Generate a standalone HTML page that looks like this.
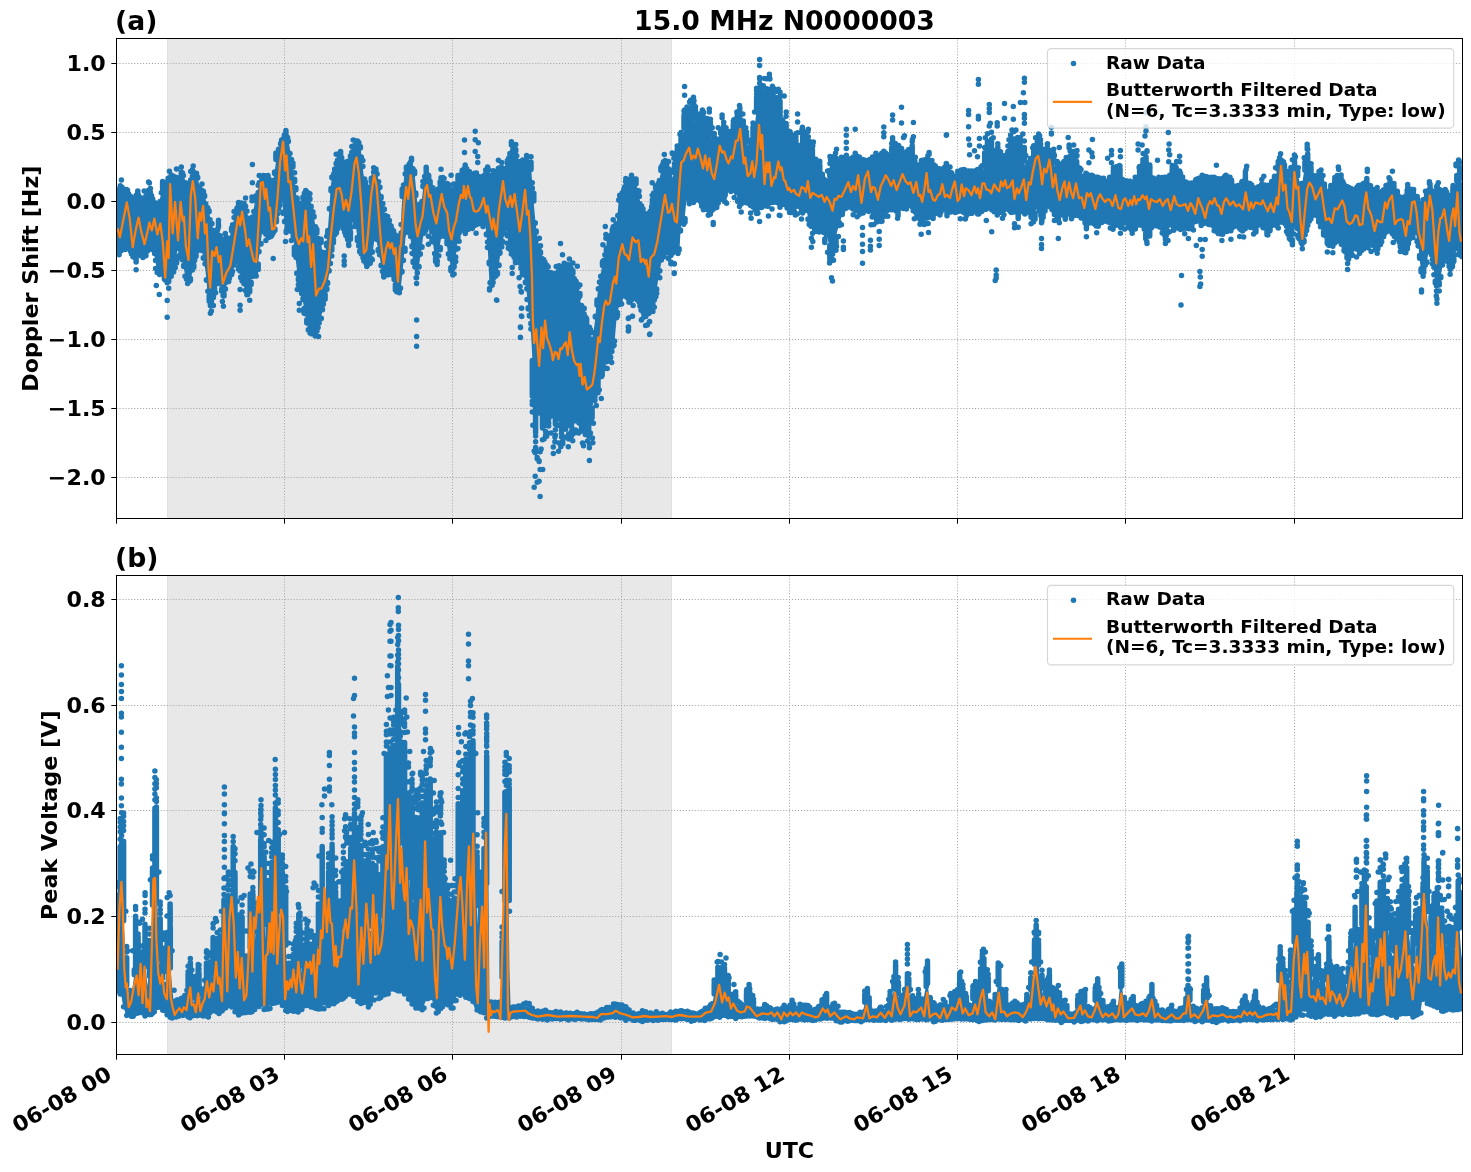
<!DOCTYPE html>
<html><head><meta charset="utf-8"><title>15.0 MHz N0000003</title><style>html,body{margin:0;padding:0;background:#fff;overflow:hidden}svg{display:block}</style></head><body>
<svg width="1471" height="1172" viewBox="0 0 1471 1172" font-family="'DejaVu Sans','Liberation Sans',sans-serif" font-weight="bold" fill="#000">
<rect width="1471" height="1172" fill="#fff"/>
<defs><clipPath id="ca"><rect x="116.5" y="38.5" width="1346.0" height="480.0"/></clipPath><clipPath id="cb"><rect x="116.5" y="575.5" width="1346.0" height="479.0"/></clipPath></defs>
<rect x="167.0" y="38.5" width="505.0" height="480.5" fill="#e8e8e8"/>
<path d="M167.5 38.5V518.5M671.5 38.5V518.5" stroke="#e0e0e0" stroke-width="1" fill="none"/>
<path d="M284.5 518.5V38.5M452.5 518.5V38.5M621.5 518.5V38.5M789.5 518.5V38.5M957.5 518.5V38.5M1125.5 518.5V38.5M1294.5 518.5V38.5M116.5 63.5H1462.5M116.5 132.5H1462.5M116.5 201.5H1462.5M116.5 270.5H1462.5M116.5 339.5H1462.5M116.5 408.5H1462.5M116.5 477.5H1462.5" stroke="#a6a6a6" stroke-width="1" stroke-dasharray="1.1 1.85" fill="none"/>
<g clip-path="url(#ca)">
<path d="M116.5 196.9 117.5 196.9 118.5 192.8 119.5 188.7 120.5 184.6 121.5 184.3 122.5 186 123.5 187.8 124.5 189.5 125.5 190 126.5 190 127.5 190 128.5 190 129.5 192.9 130.5 196.5 131.5 200.2 132.5 199.8 133.5 198.5 134.5 197.1 135.5 195.8 136.5 194.5 137.5 193.1 138.5 194.4 139.5 196 140.5 197.6 141.5 199.2 142.5 200.8 143.5 199 144.5 197 145.5 195 146.5 193 147.5 191 148.5 189 149.5 187.4 150.5 191.4 151.5 195.4 152.5 199.2 153.5 201.6 154.5 204 155.5 206.4 156.5 208.8 157.5 209.9 158.5 205.3 159.5 200.7 160.5 196.1 161.5 191.5 162.5 187.8 163.5 186.8 164.5 185.8 165.5 184.8 166.5 183.8 167.5 182.4 168.5 180.1 169.5 177.7 170.5 176.2 171.5 176 172.5 175.8 173.5 175.6 174.5 175.4 175.5 176.1 176.5 178.1 177.5 180.1 178.5 180.3 179.5 178.5 180.5 176.7 181.5 174.9 182.5 173.1 183.5 174.3 184.5 178 185.5 181.7 186.5 183.1 187.5 183.1 188.5 183.1 189.5 183.1 190.5 181.2 191.5 178.2 192.5 175.2 193.5 174.1 194.5 173.9 195.5 173.6 196.5 173.4 197.5 176.8 198.5 181.5 199.5 186.1 200.5 188.1 201.5 189.3 202.5 190.6 203.5 191.8 204.5 195.1 205.5 198.8 206.5 202.5 207.5 206.4 208.5 210.4 209.5 214.4 210.5 218.4 211.5 222.4 212.5 226.4 213.5 230.4 214.5 234.4 215.5 232.1 216.5 229.9 217.5 227.6 218.5 225.9 219.5 231.6 220.5 237.2 221.5 242.2 222.5 240.9 223.5 239.7 224.5 238.4 225.5 237.6 226.5 239.3 227.5 241 228.5 241.5 229.5 237.5 230.5 233.5 231.5 229.5 232.5 225.4 233.5 220.9 234.5 216.4 235.5 211.9 236.5 208 237.5 205.7 238.5 203.4 239.5 201.9 240.5 202.1 241.5 202.3 242.5 202.4 243.5 202.6 244.5 202.8 245.5 204.9 246.5 209.6 247.5 214.3 248.5 216.9 249.5 217.4 250.5 217.9 251.5 218.4 252.5 215.6 253.5 210.1 254.5 204.6 255.5 199.1 256.5 194.8 257.5 191.3 258.5 187.8 259.5 184.3 260.5 182 261.5 180.2 262.5 178.4 263.5 176.6 264.5 174.8 265.5 176.5 266.5 179.5 267.5 182.5 268.5 183.5 269.5 183.9 270.5 184.3 271.5 184.7 272.5 185.1 273.5 179.2 274.5 172.2 275.5 165.2 276.5 158.2 277.5 153.3 278.5 148.7 279.5 144 280.5 142.2 281.5 140.6 282.5 139 283.5 137.4 284.5 135.8 285.5 136.8 286.5 137.8 287.5 138.8 288.5 140.2 289.5 146.2 290.5 152.2 291.5 158.3 292.5 165.7 293.5 173 294.5 180.4 295.5 188.4 296.5 196.4 297.5 203.4 298.5 206.1 299.5 208.7 300.5 209.3 301.5 203.3 302.5 197.3 303.5 192.9 304.5 192.4 305.5 191.9 306.5 191.4 307.5 191.9 308.5 194.6 309.5 197.3 310.5 200.8 311.5 205.8 312.5 210.8 313.5 215.8 314.5 221 315.5 226.3 316.5 231.6 317.5 235.4 318.5 237.4 319.5 239.4 320.5 241.4 321.5 245.9 322.5 252.5 323.5 259.2 324.5 258.1 325.5 251.5 326.5 244.8 327.5 234 328.5 220.7 329.5 207.3 330.5 189.6 331.5 180.4 332.5 176.4 333.5 172.4 334.5 168.4 335.5 165.3 336.5 162.5 337.5 159.7 338.5 156.9 339.5 154.1 340.5 155.6 341.5 158.1 342.5 160.6 343.5 163.1 344.5 162.9 345.5 162.3 346.5 161.7 347.5 161.1 348.5 160.5 349.5 157.7 350.5 154.7 351.5 151.7 352.5 148.7 353.5 145.7 354.5 144.4 355.5 143.2 356.5 141.9 357.5 140.9 358.5 142.5 359.5 144.2 360.5 146.7 361.5 156 362.5 165.3 363.5 174.1 364.5 179.4 365.5 184.7 366.5 188.9 367.5 187.9 368.5 186.9 369.5 185.9 370.5 184.2 371.5 180.4 372.5 176.7 373.5 172.9 374.5 170.6 375.5 171.6 376.5 172.6 377.5 175.1 378.5 180.5 379.5 185.8 380.5 191.2 381.5 196.7 382.5 202.2 383.5 207.7 384.5 211.9 385.5 214.4 386.5 216.9 387.5 219.4 388.5 221.4 389.5 223.1 390.5 224.8 391.5 226.4 392.5 228.1 393.5 229.8 394.5 231.6 395.5 233.5 396.5 235.5 397.5 237.4 398.5 239.3 399.5 241.3 400.5 231.9 401.5 210.1 402.5 195.3 403.5 183.9 404.5 172.6 405.5 168.6 406.5 167.6 407.5 166.6 408.5 165.6 409.5 163.6 410.5 161.3 411.5 158.9 412.5 162.6 413.5 167.6 414.5 172.6 415.5 183 416.5 194.3 417.5 205.6 418.5 205.9 419.5 204.9 420.5 203.9 421.5 202.9 422.5 194 423.5 184.6 424.5 175.3 425.5 171.8 426.5 168.5 427.5 173.5 428.5 178.5 429.5 183.3 430.5 185.3 431.5 187.3 432.5 189.3 433.5 191.1 434.5 191.6 435.5 192.1 436.5 192.6 437.5 192.2 438.5 187.5 439.5 182.8 440.5 178.9 441.5 177.4 442.5 177.2 443.5 180.8 444.5 184.5 445.5 187.2 446.5 187.7 447.5 188.2 448.5 188.7 449.5 189.2 450.5 189.7 451.5 190.2 452.5 190.7 453.5 190.2 454.5 188.2 455.5 186.2 456.5 184.2 457.5 182.2 458.5 179.9 459.5 177.2 460.5 174.6 461.5 172.2 462.5 170.2 463.5 168.2 464.5 167.9 465.5 168.9 466.5 169.9 467.5 170.9 468.5 171.9 469.5 172.9 470.5 173.9 471.5 174.9 472.5 174.9 473.5 174.4 474.5 173.9 475.5 173.4 476.5 174 477.5 175 478.5 176 479.5 177 480.5 176.8 481.5 176.3 482.5 175.8 483.5 175.3 484.5 173.4 485.5 171.1 486.5 168.9 487.5 166.6 488.5 168.9 489.5 171.6 490.5 174.4 491.5 177.1 492.5 176.8 493.5 176.4 494.5 176 495.5 175.6 496.5 175.2 497.5 172.9 498.5 170.7 499.5 168.4 500.5 166.5 501.5 167.8 502.5 169 503.5 170.3 504.5 170.9 505.5 168.3 506.5 165.6 507.5 162.5 508.5 157.5 509.5 152.5 510.5 147.5 511.5 143.6 512.5 143.3 513.5 143 514.5 144.3 515.5 149.8 516.5 154.6 517.5 158 518.5 161.3 519.5 163.4 520.5 163.4 521.5 163.4 522.5 162.8 523.5 161.1 524.5 159.4 525.5 158.8 526.5 159.6 527.5 160.3 528.5 161.1 529.5 163.8 530.5 168.4 531.5 173 532.5 186.7 533.5 199.7 534.5 211.7 535.5 221.9 536.5 230.9 537.5 237.7 538.5 243 539.5 248.4 540.5 251.9 541.5 254.6 542.5 257.3 543.5 259.2 544.5 260.8 545.5 262.4 546.5 264 547.5 265.6 548.5 268.5 549.5 271.9 550.5 275.2 551.5 275.8 552.5 275.8 553.5 275.8 554.5 275 555.5 274 556.5 273 557.5 272 558.5 270.5 559.5 269 560.5 267.5 561.5 266 562.5 266 563.5 266 564.5 266 565.5 265.9 566.5 265.2 567.5 264.4 568.5 263.7 569.5 263.2 570.5 266.2 571.5 269.2 572.5 272.2 573.5 274.9 574.5 277.5 575.5 280 576.5 281.3 577.5 282.6 578.5 285.6 579.5 294.6 580.5 302 581.5 304.5 582.5 307 583.5 309.5 584.5 312.9 585.5 318.2 586.5 323.6 587.5 327.5 588.5 328.9 589.5 330.2 590.5 332.9 591.5 337.9 592.5 338.1 593.5 331.5 594.5 324.8 595.5 315.7 596.5 303.7 597.5 294.3 598.5 287.6 599.5 281 600.5 275 601.5 269.7 602.5 264.3 603.5 260.1 604.5 256.8 605.5 253.5 606.5 250.6 607.5 248.1 608.5 245.6 609.5 243.1 610.5 240.3 611.5 237.3 612.5 234.3 613.5 231.3 614.5 228.5 615.5 225.9 616.5 223.2 617.5 214.2 618.5 203.2 619.5 199 620.5 196.6 621.5 194.2 622.5 191.8 623.5 189.4 624.5 187.7 625.5 186.1 626.5 184.5 627.5 182.9 628.5 181.3 629.5 180.4 630.5 179.6 631.5 178.8 632.5 178 633.5 177.3 634.5 179.9 635.5 182.6 636.5 185.3 637.5 189.8 638.5 194.3 639.5 198.8 640.5 203.1 641.5 205.6 642.5 208.1 643.5 210.6 644.5 212.8 645.5 213.3 646.5 213.8 647.5 214.3 648.5 214.3 649.5 212.3 650.5 210.3 651.5 208.3 652.5 205 653.5 198.3 654.5 191.6 655.5 186.6 656.5 185.1 657.5 183.6 658.5 182.1 659.5 179.3 660.5 174.3 661.5 169.3 662.5 164.3 663.5 161.7 664.5 162.4 665.5 163.1 666.5 164.4 667.5 166.4 668.5 168.4 669.5 170.4 670.5 169.7 671.5 166.7 672.5 177.8 673.5 175.3 674.5 172 675.5 168.1 676.5 164.3 677.5 160.4 678.5 156.6 679.5 152.7 680.5 148.1 681.5 142.8 682.5 137.4 683.5 132 684.5 126.9 685.5 124.5 686.5 122.7 687.5 121.2 688.5 120 689.5 118.9 690.5 118.4 691.5 117.8 692.5 117.4 693.5 117.1 694.5 120.5 695.5 124.1 696.5 125.2 697.5 126.1 698.5 126.8 699.5 127.4 700.5 127.3 701.5 127.3 702.5 127.1 703.5 126.9 704.5 127.4 705.5 127.9 706.5 128.5 707.5 129 708.5 129.5 709.5 130.3 710.5 133.8 711.5 137.3 712.5 140.5 713.5 142.6 714.5 144.6 715.5 145.4 716.5 142.6 717.5 139.6 718.5 136.8 719.5 134.6 720.5 132.5 721.5 130.5 722.5 129.9 723.5 131.4 724.5 132.9 725.5 134.6 726.5 136.1 727.5 136.9 728.5 137.5 729.5 137.9 730.5 136.9 731.5 134.6 732.5 132.2 733.5 129.5 734.5 126.9 735.5 124.6 736.5 122.6 737.5 121.5 738.5 120.7 739.5 119.9 740.5 120.8 741.5 122.8 742.5 125 743.5 128.4 744.5 132.2 745.5 136 746.5 139.9 747.5 144 748.5 147.9 749.5 148.8 750.5 148.4 751.5 147.6 752.5 141.9 753.5 134.8 754.5 127.9 755.5 119.5 756.5 110.8 757.5 107.6 758.5 105.7 759.5 103.6 760.5 103.3 761.5 103.3 762.5 103.4 763.5 103.5 764.5 104.4 765.5 105.7 766.5 106.9 767.5 107.7 768.5 108.6 769.5 109.5 770.5 111.7 771.5 113.2 772.5 114.6 773.5 115.1 774.5 115.4 775.5 115.7 776.5 116.3 777.5 116.7 778.5 117 779.5 117.7 780.5 118.7 781.5 119.7 782.5 120.8 783.5 122 784.5 124.7 785.5 130.7 786.5 137 787.5 144 788.5 149.2 789.5 150.6 790.5 151.9 791.5 152.8 792.5 152.9 793.5 152.8 794.5 152.6 795.5 152.3 796.5 151.9 797.5 151.4 798.5 150.9 799.5 150.5 800.5 150 801.5 149.4 802.5 149.1 803.5 149.3 804.5 149.5 805.5 149.8 806.5 150 807.5 150.3 808.5 151.7 809.5 153.7 810.5 155.7 811.5 157.7 812.5 159.7 813.5 162.6 814.5 165.9 815.5 169.2 816.5 170.3 817.5 170.7 818.5 171.2 819.5 171.7 820.5 174.2 821.5 177.2 822.5 180.3 823.5 183.4 824.5 182.9 825.5 181.9 826.5 181 827.5 180 828.5 177.6 829.5 175.1 830.5 172.5 831.5 171.5 832.5 170.6 833.5 169.8 834.5 169 835.5 168.2 836.5 168.4 837.5 168.5 838.5 168.5 839.5 168.3 840.5 168.3 841.5 168.2 842.5 167.5 843.5 166.9 844.5 166.4 845.5 166 846.5 165.7 847.5 166.1 848.5 166.5 849.5 167 850.5 167.1 851.5 166 852.5 165 853.5 164.2 854.5 163.7 855.5 163.9 856.5 164.8 857.5 165.4 858.5 165.8 859.5 166.1 860.5 166.1 861.5 166 862.5 165.9 863.5 166.1 864.5 166.7 865.5 167.2 866.5 167.1 867.5 166.8 868.5 166.2 869.5 166 870.5 165.7 871.5 165.5 872.5 165.4 873.5 165.2 874.5 165 875.5 164.6 876.5 164.7 877.5 165.2 878.5 165.5 879.5 165.8 880.5 165.1 881.5 163.9 882.5 162.6 883.5 161.3 884.5 161.1 885.5 161.5 886.5 161.8 887.5 162.3 888.5 160.8 889.5 158.8 890.5 157 891.5 155.1 892.5 153.3 893.5 153.7 894.5 154.4 895.5 155 896.5 155.4 897.5 155.8 898.5 156.3 899.5 155.3 900.5 154.3 901.5 153.3 902.5 152.2 903.5 151 904.5 153.1 905.5 155.5 906.5 157.9 907.5 160.3 908.5 159.1 909.5 157.8 910.5 156.4 911.5 155.1 912.5 154.7 913.5 158.9 914.5 163.2 915.5 166.8 916.5 167.6 917.5 168.2 918.5 168.5 919.5 168.6 920.5 168.3 921.5 168.4 922.5 168.7 923.5 168.3 924.5 167.8 925.5 167.3 926.5 166.8 927.5 166.3 928.5 165.8 929.5 166 930.5 167.5 931.5 169.1 932.5 170.9 933.5 172.9 934.5 174.2 935.5 174.5 936.5 174.8 937.5 175.2 938.5 175.6 939.5 176 940.5 175.9 941.5 175.4 942.5 175 943.5 174.7 944.5 174.3 945.5 173.9 946.5 173.8 947.5 173.7 948.5 173.8 949.5 173.9 950.5 175.2 951.5 177.5 952.5 178.2 953.5 178.1 954.5 177.8 955.5 177.3 956.5 176.8 957.5 176.5 958.5 176.4 959.5 176.2 960.5 178.4 961.5 178.5 962.5 178.5 963.5 178.3 964.5 178.2 965.5 178.2 966.5 178.2 967.5 178.2 968.5 178.4 969.5 178.7 970.5 178.5 971.5 178.2 972.5 178.2 973.5 178.3 974.5 178.3 975.5 178.2 976.5 177.7 977.5 177.2 978.5 176.4 979.5 175.8 980.5 175.3 981.5 175 982.5 174.1 983.5 168.8 984.5 163.8 985.5 159.2 986.5 157.4 987.5 155.4 988.5 153.6 989.5 152.8 990.5 154.6 991.5 156.4 992.5 158.2 993.5 159 994.5 157.2 995.5 155.3 996.5 153.4 997.5 153.6 998.5 158 999.5 162.5 1000.5 165.7 1001.5 166.2 1002.5 166.7 1003.5 167.1 1004.5 167.4 1005.5 166.4 1006.5 163.9 1007.5 161.8 1008.5 160.2 1009.5 158.5 1010.5 156.9 1011.5 155.3 1012.5 154.8 1013.5 155 1014.5 155 1015.5 155 1016.5 156 1017.5 157.7 1018.5 159.6 1019.5 160.2 1020.5 159.7 1021.5 158.6 1022.5 157.4 1023.5 159.7 1024.5 163.5 1025.5 167.1 1026.5 168.1 1027.5 168.3 1028.5 168.3 1029.5 168.3 1030.5 165.7 1031.5 162.1 1032.5 158.2 1033.5 155.1 1034.5 152.5 1035.5 150.5 1036.5 150 1037.5 149.3 1038.5 148.7 1039.5 148.3 1040.5 150.2 1041.5 152.3 1042.5 154.4 1043.5 156.4 1044.5 155.9 1045.5 155.7 1046.5 155.7 1047.5 155.3 1048.5 153.9 1049.5 152.3 1050.5 151.3 1051.5 151.3 1052.5 156.2 1053.5 161.1 1054.5 165.7 1055.5 168.1 1056.5 170.4 1057.5 172.4 1058.5 173.7 1059.5 173.5 1060.5 173.7 1061.5 173.9 1062.5 173.8 1063.5 173 1064.5 172.1 1065.5 171.2 1066.5 170 1067.5 168.1 1068.5 166.3 1069.5 165.3 1070.5 165.8 1071.5 166.7 1072.5 167.5 1073.5 168.1 1074.5 168.8 1075.5 169.8 1076.5 170.9 1077.5 172.6 1078.5 175 1079.5 177.1 1080.5 179 1081.5 180.3 1082.5 181.1 1083.5 181.8 1084.5 182.4 1085.5 182.8 1086.5 183.1 1087.5 183.5 1088.5 184 1089.5 184.4 1090.5 184.6 1091.5 184.5 1092.5 184.6 1093.5 184.8 1094.5 185 1095.5 185.2 1096.5 185.5 1097.5 185.9 1098.5 186.2 1099.5 186.4 1100.5 182.6 1101.5 182.6 1102.5 182.5 1103.5 182.5 1104.5 182.4 1105.5 182.5 1106.5 182.6 1107.5 182.7 1108.5 182.6 1109.5 182.4 1110.5 180.7 1111.5 179 1112.5 177.4 1113.5 175.9 1114.5 175.8 1115.5 175.8 1116.5 175.6 1117.5 175.4 1118.5 175 1119.5 174.9 1120.5 178.2 1121.5 181.5 1122.5 184.6 1123.5 184.9 1124.5 185 1125.5 185.1 1126.5 185.2 1127.5 185.2 1128.5 185.2 1129.5 185.2 1130.5 184.8 1131.5 184.4 1132.5 183.9 1133.5 183.4 1134.5 182.8 1135.5 181.8 1136.5 179.9 1137.5 178 1138.5 176.2 1139.5 174 1140.5 171.5 1141.5 169.1 1142.5 166.8 1143.5 165.3 1144.5 165 1145.5 164.6 1146.5 164.3 1147.5 166 1148.5 169.8 1149.5 173.7 1150.5 177 1151.5 179.9 1152.5 182.7 1153.5 183.9 1154.5 183.7 1155.5 183.4 1156.5 183.1 1157.5 182.9 1158.5 182.8 1159.5 182.7 1160.5 182.7 1161.5 182.7 1162.5 182.7 1163.5 182.7 1164.5 182.9 1165.5 182.9 1166.5 182.7 1167.5 182.3 1168.5 181.9 1169.5 181.5 1170.5 179.6 1171.5 177.3 1172.5 175.1 1173.5 174.2 1174.5 173.7 1175.5 173.1 1176.5 172.4 1177.5 174.1 1178.5 176.1 1179.5 178.3 1180.5 180.6 1181.5 182 1182.5 183.4 1183.5 184.6 1184.5 185.8 1185.5 186.9 1186.5 188 1187.5 188.1 1188.5 188.3 1189.5 188.4 1190.5 188.5 1191.5 188.5 1192.5 188.2 1193.5 187.4 1194.5 186.6 1195.5 185.8 1196.5 185.3 1197.5 185 1198.5 184.8 1199.5 184.5 1200.5 184.1 1201.5 183.6 1202.5 183.1 1203.5 183.2 1204.5 183.4 1205.5 183.8 1206.5 184 1207.5 184.2 1208.5 184.1 1209.5 183.9 1210.5 183.7 1211.5 183.5 1212.5 183.3 1213.5 183.2 1214.5 183.4 1215.5 183.8 1216.5 184.2 1217.5 184.5 1218.5 184.7 1219.5 184.8 1220.5 184.6 1221.5 184.2 1222.5 183.8 1223.5 183.3 1224.5 182.8 1225.5 182.3 1226.5 182.2 1227.5 182.3 1228.5 182.4 1229.5 182.7 1230.5 183.4 1231.5 184.7 1232.5 186 1233.5 187.3 1234.5 188.5 1235.5 189.8 1236.5 190.5 1237.5 189.9 1238.5 189.1 1239.5 188.2 1240.5 187.4 1241.5 186.6 1242.5 185.5 1243.5 183.4 1244.5 181.3 1245.5 179.2 1246.5 179.1 1247.5 181.6 1248.5 184 1249.5 186.3 1250.5 187.8 1251.5 188.5 1252.5 189.5 1253.5 190.3 1254.5 189.2 1255.5 190.2 1256.5 189.6 1257.5 188 1258.5 188.7 1259.5 187.6 1260.5 186.4 1261.5 185.4 1262.5 186.1 1263.5 187.6 1264.5 189 1265.5 190.5 1266.5 190.5 1267.5 189.9 1268.5 189.4 1269.5 188.7 1270.5 187.9 1271.5 187.2 1272.5 184.8 1273.5 181.8 1274.5 178.5 1275.5 175.2 1276.5 172.8 1277.5 170.7 1278.5 168.6 1279.5 166.2 1280.5 166.4 1281.5 167.1 1282.5 168 1283.5 169 1284.5 171.1 1285.5 173.4 1286.5 175.7 1287.5 177.8 1288.5 178.7 1289.5 179.6 1290.5 180 1291.5 174.4 1292.5 169.4 1293.5 169 1294.5 168.5 1295.5 168.8 1296.5 171.9 1297.5 174.7 1298.5 177.4 1299.5 181.6 1300.5 185.9 1301.5 188 1302.5 181.5 1303.5 174.9 1304.5 169.3 1305.5 166.7 1306.5 163.7 1307.5 162.2 1308.5 164.4 1309.5 166.5 1310.5 168.8 1311.5 171.4 1312.5 174.3 1313.5 175.7 1314.5 180.2 1315.5 181.6 1316.5 179.1 1317.5 179 1318.5 177.9 1319.5 178 1320.5 179.4 1321.5 180.6 1322.5 181.7 1323.5 184.1 1324.5 187.5 1325.5 190.9 1326.5 194.4 1327.5 195.5 1328.5 194.9 1329.5 194 1330.5 193.1 1331.5 191.7 1332.5 190.1 1333.5 188.4 1334.5 186.6 1335.5 184.9 1336.5 183 1337.5 181.2 1338.5 179.5 1339.5 180.6 1340.5 182.8 1341.5 185.2 1342.5 187.6 1343.5 188.9 1344.5 190 1345.5 191 1346.5 192.1 1347.5 193.2 1348.5 194.2 1349.5 194.8 1350.5 195.3 1351.5 195.8 1352.5 196.2 1353.5 196.6 1354.5 196.9 1355.5 196.2 1356.5 195.5 1357.5 194.5 1358.5 193.4 1359.5 192.6 1360.5 191.7 1361.5 191 1362.5 190.6 1363.5 190 1364.5 187.8 1365.5 185.6 1366.5 183.4 1367.5 182.3 1368.5 185.7 1369.5 189.1 1370.5 192 1371.5 193.1 1372.5 194.4 1373.5 195.7 1374.5 196.9 1375.5 197.9 1376.5 198.6 1377.5 198.5 1378.5 198.3 1379.5 197.9 1380.5 197.5 1381.5 196.9 1382.5 195.9 1383.5 194.3 1384.5 192.8 1385.5 191.1 1386.5 189.6 1387.5 188.3 1388.5 187.2 1389.5 186.2 1390.5 186.3 1391.5 187.3 1392.5 188.4 1393.5 189.4 1394.5 191.2 1395.5 193.7 1396.5 196.2 1397.5 198.9 1398.5 200.6 1399.5 201.7 1400.5 202.3 1401.5 202.6 1402.5 202.9 1403.5 203.1 1404.5 201.9 1405.5 199.8 1406.5 197.7 1407.5 195.5 1408.5 194.9 1409.5 194.8 1410.5 194.8 1411.5 194.8 1412.5 195 1413.5 195.3 1414.5 197.2 1415.5 199.4 1416.5 201.7 1417.5 204 1418.5 205 1419.5 205.8 1420.5 206.8 1421.5 207.9 1422.5 205.9 1423.5 203.5 1424.5 200.9 1425.5 198.2 1426.5 196.3 1427.5 194.6 1428.5 193.1 1429.5 192.1 1430.5 194 1431.5 196 1432.5 198 1433.5 199.3 1434.5 198.2 1435.5 197.5 1436.5 196.8 1437.5 196.4 1438.5 197.6 1439.5 198.8 1440.5 199.8 1441.5 200.3 1442.5 199.6 1443.5 198.7 1444.5 197.9 1445.5 197.7 1446.5 198.5 1447.5 199.4 1448.5 200.5 1449.5 200.6 1450.5 198.7 1451.5 196.6 1452.5 194.7 1453.5 191.9 1454.5 187.4 1455.5 182.9 1456.5 179.9 1457.5 178.6 1458.5 177.5 1459.5 177.9 1460.5 180 1461.5 181.8 1462.5 182.7 1462.5 253.6 1461.5 254 1460.5 255 1459.5 254.3 1458.5 251.6 1457.5 248.9 1456.5 249.4 1455.5 252.8 1454.5 256.1 1453.5 259.9 1452.5 264 1451.5 268.1 1450.5 270.7 1449.5 267.6 1448.5 264.5 1447.5 261.7 1446.5 259 1445.5 256.4 1444.5 258.3 1443.5 262.3 1442.5 266.3 1441.5 271.8 1440.5 277.8 1439.5 283.8 1438.5 285.7 1437.5 286.3 1436.5 287 1435.5 282.2 1434.5 276.2 1433.5 268.5 1432.5 260.5 1431.5 256 1430.5 252 1429.5 248 1428.5 252.6 1427.5 257.9 1426.5 263.3 1425.5 266.6 1424.5 269.8 1423.5 273 1422.5 272.6 1421.5 269.9 1420.5 266.9 1419.5 256.9 1418.5 247.3 1417.5 241.9 1416.5 236.6 1415.5 232.1 1414.5 233.7 1413.5 235.3 1412.5 236.9 1411.5 238.5 1410.5 240.1 1409.5 241.9 1408.5 243.7 1407.5 245.5 1406.5 247.3 1405.5 248.4 1404.5 247.6 1403.5 246.8 1402.5 245.9 1401.5 245.1 1400.5 244.3 1399.5 243.3 1398.5 241.9 1397.5 240.6 1396.5 239.3 1395.5 237.9 1394.5 236.6 1393.5 235.4 1392.5 234.4 1391.5 233.4 1390.5 232.4 1389.5 231.4 1388.5 230.4 1387.5 230.6 1386.5 232 1385.5 233.3 1384.5 234.6 1383.5 236 1382.5 237.3 1381.5 239.3 1380.5 241.7 1379.5 244.1 1378.5 246.5 1377.5 248.9 1376.5 248.8 1375.5 247.6 1374.5 246.4 1373.5 245.2 1372.5 244 1371.5 243.5 1370.5 243.1 1369.5 242.8 1368.5 242.5 1367.5 242.1 1366.5 241.8 1365.5 242.6 1364.5 243.6 1363.5 244.6 1362.5 245.6 1361.5 246.6 1360.5 247.6 1359.5 246.8 1358.5 245.8 1357.5 244.8 1356.5 243.8 1355.5 245.2 1354.5 246.7 1353.5 248.2 1352.5 249.7 1351.5 252.2 1350.5 254.7 1349.5 257.2 1348.5 259.3 1347.5 257.3 1346.5 255.3 1345.5 253.3 1344.5 251.2 1343.5 248.2 1342.5 245.2 1341.5 242.2 1340.5 239.7 1339.5 239.2 1338.5 238.7 1337.5 238.2 1336.5 238.6 1335.5 241.6 1334.5 244.6 1333.5 247.6 1332.5 249 1331.5 247 1330.5 245 1329.5 243 1328.5 241 1327.5 239.2 1326.5 237.6 1325.5 236 1324.5 234.4 1323.5 232.8 1322.5 230.5 1321.5 227.5 1320.5 224.5 1319.5 221.5 1318.5 219.3 1317.5 217.8 1316.5 216.3 1315.5 214.8 1314.5 214.7 1313.5 215.7 1312.5 216.7 1311.5 217.7 1310.5 218.7 1309.5 219.7 1308.5 222.7 1307.5 226.7 1306.5 230.7 1305.5 234.7 1304.5 238.2 1303.5 241.5 1302.5 244.9 1301.5 244.2 1300.5 242.2 1299.5 240.2 1298.5 236.6 1297.5 232.6 1296.5 228.6 1295.5 224.6 1294.5 229.1 1293.5 235.1 1292.5 241.1 1291.5 240.6 1290.5 239.2 1289.5 237.9 1288.5 234.5 1287.5 231 1286.5 227.5 1285.5 224 1284.5 223.7 1283.5 223.3 1282.5 223 1281.5 222.7 1280.5 222.3 1279.5 222.1 1278.5 222.4 1277.5 222.7 1276.5 223.1 1275.5 223.4 1274.5 223.7 1273.5 224.2 1272.5 225.4 1271.5 226.5 1270.5 227.7 1269.5 228.9 1268.5 230 1267.5 230.6 1266.5 229.5 1265.5 228.4 1264.5 227.3 1263.5 226.1 1262.5 225 1261.5 223.9 1260.5 222.8 1259.5 222.5 1258.5 223.6 1257.5 224.8 1256.5 226 1255.5 227.1 1254.5 228.3 1253.5 228.6 1252.5 227.7 1251.5 226.9 1250.5 226.1 1249.5 225.2 1248.5 224.4 1247.5 224.8 1246.5 226.3 1245.5 227.8 1244.5 229.3 1243.5 230.8 1242.5 232.3 1241.5 232.2 1240.5 231 1239.5 229.8 1238.5 228.7 1237.5 227.5 1236.5 226.3 1235.5 226.2 1234.5 226.6 1233.5 226.9 1232.5 227.2 1231.5 227.6 1230.5 227.9 1229.5 225.9 1228.5 226.4 1227.5 226.9 1226.5 227.4 1225.5 228.4 1224.5 230.4 1223.5 232.4 1222.5 234.4 1221.5 235.1 1220.5 234.1 1219.5 233.1 1218.5 232.1 1217.5 231.1 1216.5 230.1 1215.5 229.2 1214.5 228.4 1213.5 227.5 1212.5 226.7 1211.5 225.9 1210.5 225 1209.5 224.6 1208.5 224.4 1207.5 224.3 1206.5 224.1 1205.5 223.9 1204.5 223.8 1203.5 223.5 1202.5 223.2 1201.5 222.8 1200.5 222.5 1199.5 222.2 1198.5 221.8 1197.5 222 1196.5 222.4 1195.5 222.7 1194.5 223 1193.5 223.4 1192.5 223.7 1191.5 224.6 1190.5 225.6 1189.5 226.6 1188.5 227.6 1187.5 228.6 1186.5 229.6 1185.5 229.3 1184.5 229 1183.5 228.7 1182.5 228.3 1181.5 228 1180.5 227.6 1179.5 227 1178.5 226.3 1177.5 225.6 1176.5 225 1175.5 224.3 1174.5 223.8 1173.5 224.2 1172.5 224.6 1171.5 225 1170.5 225.4 1169.5 226.3 1168.5 229.3 1167.5 232.3 1166.5 235.3 1165.5 236.9 1164.5 234.5 1163.5 232.1 1162.5 229.7 1161.5 227.3 1160.5 225.4 1159.5 224.4 1158.5 223.4 1157.5 222.4 1156.5 222.3 1155.5 223.6 1154.5 224.9 1153.5 226.3 1152.5 227.6 1151.5 228.9 1150.5 230.7 1149.5 232.9 1148.5 235.2 1147.5 237.4 1146.5 236.8 1145.5 233.6 1144.5 230.3 1143.5 227.1 1142.5 225.2 1141.5 224.4 1140.5 223.6 1139.5 222.8 1138.5 222 1137.5 222.4 1136.5 223.4 1135.5 224.4 1134.5 225.4 1133.5 226.4 1132.5 227.4 1131.5 226.9 1130.5 225.9 1129.5 224.9 1128.5 223.9 1127.5 222.9 1126.5 221.9 1125.5 222.6 1124.5 223.6 1123.5 224.6 1122.5 225.6 1121.5 226.6 1120.5 227.6 1119.5 227 1118.5 226.3 1117.5 225.6 1116.5 224.9 1115.5 224.2 1114.5 223.5 1113.5 222.7 1112.5 222.6 1111.5 222.4 1110.5 222.2 1109.5 222.1 1108.5 221.9 1107.5 221.7 1106.5 221.4 1105.5 221.1 1104.5 220.7 1103.5 220.4 1102.5 220.1 1101.5 220.1 1100.5 221.7 1099.5 223.3 1098.5 224.9 1097.5 226.5 1096.5 227.3 1095.5 225.7 1094.5 224.1 1093.5 222.5 1092.5 220.9 1091.5 220 1090.5 220.6 1089.5 221.2 1088.5 221.8 1087.5 222.4 1086.5 222.4 1085.5 221.4 1084.5 220.4 1083.5 219.4 1082.5 218.4 1081.5 217.7 1080.5 217.3 1079.5 217 1078.5 216.7 1077.5 216.3 1076.5 216 1075.5 215.8 1074.5 215.8 1073.5 215.8 1072.5 215.8 1071.5 215.8 1070.5 215.8 1069.5 215.4 1068.5 214.8 1067.5 214.1 1066.5 213.4 1065.5 212.8 1064.5 212.1 1063.5 212.7 1062.5 213.9 1061.5 215.1 1060.5 216.2 1059.5 217.4 1058.5 218.6 1057.5 217.6 1056.5 216.1 1055.5 214.6 1054.5 213.1 1053.5 211.6 1052.5 210.1 1051.5 209 1050.5 208 1049.5 207 1048.5 206 1047.5 205 1046.5 204 1045.5 206.7 1044.5 209.5 1043.5 212.3 1042.5 215.1 1041.5 217.7 1040.5 214.2 1039.5 210.7 1038.5 207.2 1037.5 204.3 1036.5 207.8 1035.5 211.3 1034.5 214.8 1033.5 217.6 1032.5 216.4 1031.5 215.2 1030.5 214 1029.5 212.8 1028.5 211.9 1027.5 212.1 1026.5 212.3 1025.5 212.4 1024.5 212.6 1023.5 212.8 1022.5 212.8 1021.5 212.7 1020.5 212.5 1019.5 212.3 1018.5 212.2 1017.5 212 1016.5 212 1015.5 212.1 1014.5 212.3 1013.5 212.5 1012.5 212.6 1011.5 212.8 1010.5 212.5 1009.5 211.7 1008.5 210.8 1007.5 210 1006.5 209.2 1005.5 208.3 1004.5 208.5 1003.5 209.5 1002.5 210.5 1001.5 211.5 1000.5 212.5 999.5 213.5 998.5 213.5 997.5 213 996.5 212.5 995.5 212 994.5 211.5 993.5 211 992.5 210.5 991.5 210 990.5 209.5 989.5 209 988.5 208.5 987.5 208 986.5 208.6 985.5 209.5 984.5 210.3 983.5 211.1 982.5 212 981.5 212.8 980.5 212.7 979.5 212.6 978.5 212.4 977.5 212.2 976.5 212.1 975.5 211.9 974.5 212.4 973.5 212.9 972.5 213.4 971.5 213.9 970.5 214.4 969.5 214.8 968.5 213.6 967.5 212.4 966.5 211.3 965.5 210.1 964.5 208.9 963.5 208.1 962.5 208.9 961.5 209.8 960.5 210.6 959.5 211.4 958.5 212.3 957.5 212.8 956.5 212.3 955.5 211.8 954.5 211.3 953.5 210.8 952.5 210.3 951.5 209.5 950.5 208.3 949.5 207.9 948.5 208.4 947.5 208.9 946.5 209.4 945.5 209.9 944.5 210.3 943.5 210.7 942.5 210.9 941.5 211 940.5 211.2 939.5 211.4 938.5 211.5 937.5 212.1 936.5 213.1 935.5 214.1 934.5 215.1 933.5 216.1 932.5 217.1 931.5 217.7 930.5 218.1 929.5 218.4 928.5 218.7 927.5 219.1 926.5 219.4 925.5 219.5 924.5 219.5 923.5 219.5 922.5 219.5 921.5 219.5 920.5 219.5 919.5 218.5 918.5 217.2 917.5 215.8 916.5 214.5 915.5 213.2 914.5 211.8 913.5 210.5 912.5 209.2 911.5 207.8 910.5 206.5 909.5 205.2 908.5 203.8 907.5 204.3 906.5 205 905.5 205.7 904.5 206.3 903.5 207 902.5 207.7 901.5 208 900.5 208.3 899.5 208.7 898.5 209 897.5 209.3 896.5 209.6 895.5 209.3 894.5 208.9 893.5 208.6 892.5 208.3 891.5 207.9 890.5 207.8 889.5 208.5 888.5 209.1 887.5 209.8 886.5 210.5 885.5 211.1 884.5 211.9 883.5 212.9 882.5 213.9 881.5 214.9 880.5 216.4 879.5 219.1 878.5 221.7 877.5 222.5 876.5 220 875.5 217.5 874.5 215 873.5 215 872.5 218.3 871.5 213.5 870.5 213.1 869.5 210.1 868.5 207.5 867.5 205 866.5 204.2 865.5 204.9 864.5 205.3 863.5 205.7 862.5 206.4 861.5 207.2 860.5 208 859.5 208.8 858.5 209.5 857.5 210.1 856.5 210.1 855.5 209.5 854.5 208.7 853.5 208.1 852.5 207 851.5 205.9 850.5 204.7 849.5 203.5 848.5 203.5 847.5 204 846.5 204.5 845.5 205 844.5 205.4 843.5 208.8 842.5 212.8 841.5 216.9 840.5 220.2 839.5 223.4 838.5 226.7 837.5 230.6 836.5 234.3 835.5 237.8 834.5 241.1 833.5 244.4 832.5 245 831.5 245.6 830.5 246.2 829.5 246.4 828.5 242.5 827.5 238.7 826.5 236.2 825.5 244.1 824.5 240.3 823.5 233.3 822.5 227.7 821.5 229.7 820.5 231.7 819.5 233.2 818.5 232.7 817.5 232.2 816.5 231.7 815.5 230.6 814.5 228 813.5 225.3 812.5 223.8 811.5 225.2 810.5 226.5 809.5 225.6 808.5 220.2 807.5 214.9 806.5 211.3 805.5 210.5 804.5 209.7 803.5 208.9 802.5 208.1 801.5 207.6 800.5 207.5 799.5 207.4 798.5 207.2 797.5 207.1 796.5 207 795.5 206.9 794.5 206.7 793.5 206.6 792.5 206.5 791.5 206.4 790.5 206.2 789.5 206.1 788.5 206 787.5 205.9 786.5 205.7 785.5 205.5 784.5 205.3 783.5 205 782.5 204.8 781.5 204.5 780.5 204.3 779.5 204 778.5 203.8 777.5 203.5 776.5 203.3 775.5 203 774.5 202.8 773.5 202.5 772.5 202.3 771.5 202 770.5 201.8 769.5 202.4 768.5 203.2 767.5 203.9 766.5 204.7 765.5 205.4 764.5 206.2 763.5 206.9 762.5 207.7 761.5 207.5 760.5 207.3 759.5 207.2 758.5 207 757.5 206.8 756.5 206.7 755.5 206.5 754.5 206.3 753.5 206.2 752.5 206 751.5 205.8 750.5 205.6 749.5 204.9 748.5 204.2 747.5 203.6 746.5 202.9 745.5 202.2 744.5 201.8 743.5 201.8 742.5 201.8 741.5 201.8 740.5 201.8 739.5 201.8 738.5 201.8 737.5 199.1 736.5 192.1 735.5 188 734.5 188 733.5 188 732.5 188 731.5 188 730.5 188.3 729.5 189.1 728.5 189.9 727.5 190.7 726.5 191.5 725.5 192.3 724.5 193.1 723.5 193.9 722.5 194.7 721.5 195.5 720.5 197.7 719.5 200.7 718.5 203.7 717.5 206.7 716.5 208 715.5 208.5 714.5 209 713.5 209.5 712.5 209.9 711.5 210.3 710.5 210.7 709.5 211.1 708.5 211.5 707.5 210.8 706.5 209.8 705.5 208.8 704.5 207.8 703.5 206.8 702.5 205.8 701.5 204.3 700.5 202.7 699.5 201.1 698.5 199.5 697.5 197.9 696.5 198.1 695.5 198.5 694.5 198.8 693.5 199.1 692.5 199.5 691.5 199.8 690.5 199.4 689.5 199 688.5 198.6 687.5 198.2 686.5 199.1 685.5 210.1 684.5 219.6 683.5 220.6 682.5 221.6 681.5 222.6 680.5 231.4 679.5 250.1 678.5 250.1 677.5 250.1 676.5 250.1 675.5 250.4 674.5 251.2 673.5 252 672.5 252.8 671.5 253.6 670.5 253.6 669.5 252.8 668.5 252 667.5 251.2 666.5 250.4 665.5 251.1 664.5 253.1 663.5 255.1 662.5 257.1 661.5 261.2 660.5 266.7 659.5 272.2 658.5 277.7 657.5 284 656.5 290.8 655.5 297.6 654.5 300.3 653.5 302.8 652.5 305.3 651.5 307.7 650.5 309.2 649.5 310.7 648.5 312.2 647.5 313.7 646.5 314.7 645.5 315.7 644.5 316.7 643.5 317.1 642.5 313.7 641.5 310.4 640.5 307.3 639.5 305.3 638.5 303.3 637.5 301.3 636.5 299.3 635.5 298 634.5 298.7 633.5 299.3 632.5 300 631.5 300.7 630.5 301.3 629.5 301.3 628.5 299.8 627.5 298.3 626.5 296.8 625.5 295.9 624.5 295.9 623.5 295.9 622.5 295.9 621.5 297.4 620.5 300.7 619.5 304 618.5 308.4 617.5 313.7 616.5 319 615.5 331.2 614.5 342.2 613.5 347.5 612.5 352.9 611.5 356.2 610.5 358.2 609.5 360.2 608.5 360.9 607.5 360.9 606.5 360.9 605.5 360.9 604.5 363.7 603.5 367.7 602.5 371.7 601.5 358.1 600.5 363.4 599.5 368.9 598.5 374.6 597.5 380.3 596.5 385.9 595.5 391.5 594.5 397 593.5 402.2 592.5 405.8 591.5 409.2 590.5 412.1 589.5 414.5 588.5 416.7 587.5 418.3 586.5 418.2 585.5 418.2 584.5 417.8 583.5 417.3 582.5 416.8 581.5 414.5 580.5 412.2 579.5 409.7 578.5 407.5 577.5 406.5 576.5 405.2 575.5 403.6 574.5 402.8 573.5 403 572.5 402.6 571.5 402.5 570.5 402.4 569.5 402.3 568.5 402.3 567.5 402.1 566.5 402 565.5 402.2 564.5 402.8 563.5 403.5 562.5 404.3 561.5 404.8 560.5 405.1 559.5 405.7 558.5 406.1 557.5 405.5 556.5 404.7 555.5 403.7 554.5 402.7 553.5 401.9 552.5 400.7 551.5 399 550.5 397.8 549.5 397.5 548.5 397.1 547.5 396.2 546.5 396.4 545.5 397.6 544.5 399 543.5 400.5 542.5 402.1 541.5 403.8 540.5 406.7 539.5 410.1 538.5 410.3 537.5 407.7 536.5 403.2 535.5 397.9 534.5 392.6 533.5 380.2 532.5 361.6 531.5 342.4 530.5 325.1 529.5 316.4 528.5 308.9 527.5 300.1 526.5 290.1 525.5 283.4 524.5 279.4 523.5 275.4 522.5 272.2 521.5 269.5 520.5 266.8 519.5 264.6 518.5 262.6 517.5 260.6 516.5 258.6 515.5 256.8 514.5 255 513.5 253.3 512.5 251.5 511.5 249.8 510.5 248 509.5 246.3 508.5 244.5 507.5 237 506.5 228 505.5 229.7 504.5 233.7 503.5 237.7 502.5 242.9 501.5 248.2 500.5 253.5 499.5 260.1 498.5 266.7 497.5 273.4 496.5 275.2 495.5 276.7 494.5 278.2 493.5 279.7 492.5 281.2 491.5 282.7 490.5 284.2 489.5 284.2 488.5 263.2 487.5 243.4 486.5 235.4 485.5 227.4 484.5 220.4 483.5 219.9 482.5 219.4 481.5 218.9 480.5 218.9 479.5 220.7 478.5 222.5 477.5 224.3 476.5 226.1 475.5 227.2 474.5 226.6 473.5 226 472.5 225.4 471.5 224.8 470.5 224.8 469.5 225.8 468.5 226.8 467.5 227.8 466.5 228.8 465.5 228.7 464.5 226.9 463.5 225.2 462.5 223.4 461.5 224.3 460.5 228.3 459.5 232.3 458.5 236.3 457.5 242.4 456.5 250.4 455.5 258.4 454.5 263 453.5 264.9 452.5 266.9 451.5 268.7 450.5 264.3 449.5 259.9 448.5 255.5 447.5 249.4 446.5 242.4 445.5 235.4 444.5 228.4 443.5 229.3 442.5 233.3 441.5 237.3 440.5 241.3 439.5 248.6 438.5 257 437.5 265.3 436.5 263.3 435.5 258.9 434.5 254.6 433.5 247.1 432.5 239.1 431.5 231.1 430.5 223.1 429.5 221.5 428.5 220.5 427.5 219.5 426.5 218.5 425.5 223.7 424.5 229.1 423.5 234.4 422.5 241.4 421.5 248.4 420.5 255.4 419.5 262.3 418.5 268.3 417.5 274.3 416.5 279 415.5 273.5 414.5 268 413.5 262.5 412.5 256.3 411.5 247 410.5 237.7 409.5 230.6 408.5 231.6 407.5 232.6 406.5 233.6 405.5 237.6 404.5 249.6 403.5 261.6 402.5 272.5 401.5 280.9 400.5 289.4 399.5 292.7 398.5 291.3 397.5 289.8 396.5 288.4 395.5 285.8 394.5 281.3 393.5 276.8 392.5 272.3 391.5 270.2 390.5 271.2 389.5 272.2 388.5 273.2 387.5 273.9 386.5 274.3 385.5 274.7 384.5 275.1 383.5 275.5 382.5 272.6 381.5 267.1 380.5 261.6 379.5 256.1 378.5 250.9 377.5 245.9 376.5 240.9 375.5 235.9 374.5 239.1 373.5 246.1 372.5 253.1 371.5 260.1 370.5 262.5 369.5 263.3 368.5 264.1 367.5 264.9 366.5 265.7 365.5 264.2 364.5 262.2 363.5 260.2 362.5 258.2 361.5 255.4 360.5 252.4 359.5 249.4 358.5 246.4 357.5 238.7 356.5 230.7 355.5 222.7 354.5 214.7 353.5 219.2 352.5 223.8 351.5 228.5 350.5 233.2 349.5 237.8 348.5 242 347.5 239.3 346.5 236.7 345.5 234 344.5 231.3 343.5 228.7 342.5 226.4 341.5 226.4 340.5 226.4 339.5 226.4 338.5 226.4 337.5 227.1 336.5 230.1 335.5 233.1 334.5 236.1 333.5 240.5 332.5 248.5 331.5 256.5 330.5 264.5 329.5 271.8 328.5 277.8 327.5 283.8 326.5 289.8 325.5 295.4 324.5 300.4 323.5 305.4 322.5 310.4 321.5 315.2 320.5 319.7 319.5 324.2 318.5 328.7 317.5 331.2 316.5 331.9 315.5 332.6 314.5 333.2 313.5 333.9 312.5 334.6 311.5 334.3 310.5 333.3 309.5 332.3 308.5 331.3 307.5 327 306.5 321 305.5 315 304.5 309.7 303.5 304.7 302.5 299.7 301.5 294.7 300.5 289.7 299.5 284.7 298.5 279.7 297.5 274.7 296.5 266.5 295.5 257.5 294.5 248.5 293.5 239.5 292.5 235.7 291.5 232.7 290.5 229.7 289.5 226.7 288.5 227.8 287.5 229.3 286.5 230.8 285.5 232.3 284.5 223.1 283.5 213.6 282.5 204.1 281.5 195 280.5 200 279.5 205 278.5 210 277.5 215 276.5 220 275.5 225 274.5 230 273.5 234.4 272.5 235.1 271.5 235.7 270.5 236.4 269.5 237.1 268.5 237.7 267.5 237.7 266.5 235.3 265.5 232.9 264.5 230.5 263.5 228.1 262.5 228.8 261.5 236.8 260.5 244.8 259.5 252.8 258.5 259.9 257.5 265.2 256.5 270.5 255.5 273.7 254.5 273.7 253.5 273.7 252.5 273.7 251.5 276.8 250.5 283.4 249.5 290.1 248.5 293.4 247.5 293.4 246.5 293.4 245.5 291.6 244.5 288.3 243.5 285 242.5 281.6 241.5 278.3 240.5 275 239.5 271.5 238.5 268 237.5 264.5 236.5 261 235.5 262.3 234.5 265.8 233.5 269.3 232.5 272.8 231.5 275.2 230.5 277.2 229.5 279.2 228.5 281.2 227.5 283.2 226.5 285.2 225.5 290 224.5 295.3 223.5 300.6 222.5 296.1 221.5 290.1 220.5 284.1 219.5 283.1 218.5 282.6 217.5 282.1 216.5 281.6 215.5 285.5 214.5 289.5 213.5 293.5 212.5 297.5 211.5 301.5 210.5 305.1 209.5 301.1 208.5 297.1 207.5 292.4 206.5 281.4 205.5 271 204.5 265 203.5 259 202.5 253.5 201.5 250.5 200.5 247.5 199.5 244.5 198.5 243.2 197.5 247.7 196.5 252.2 195.5 256.7 194.5 261.3 193.5 266.3 192.5 271.3 191.5 276.3 190.5 279.6 189.5 279.6 188.5 279.6 187.5 279.6 186.5 279.6 185.5 277.4 184.5 271.9 183.5 266.4 182.5 260.9 181.5 256.1 180.5 252.1 179.5 248.1 178.5 244.1 177.5 247.7 176.5 258.4 175.5 269.1 174.5 273.5 173.5 273.1 172.5 272.7 171.5 272.3 170.5 271.9 169.5 274.7 168.5 279.4 167.5 284 166.5 283.9 165.5 281.4 164.5 278.9 163.5 276.4 162.5 275.5 161.5 275.1 160.5 274.8 159.5 274.5 158.5 274.1 157.5 273.8 156.5 268.3 155.5 261.6 154.5 254.9 153.5 252.3 152.5 250.3 151.5 248.3 150.5 246.3 149.5 248.1 148.5 250.3 147.5 252.5 146.5 254.7 145.5 256.9 144.5 256.5 143.5 256 142.5 255.5 141.5 255 140.5 254.5 139.5 254.1 138.5 255.4 137.5 256.6 136.5 257.9 135.5 258.8 134.5 258.1 133.5 257.3 132.5 256.6 131.5 255.3 130.5 251.8 129.5 248.3 128.5 244.8 127.5 242.2 126.5 242.2 125.5 242.2 124.5 242.2 123.5 243.2 122.5 246.5 121.5 249.9 120.5 251.8 119.5 251.3 118.5 250.7 117.5 250.1 116.5 250.1Z" fill="#1f77b4"/>
<path d="M118 191.8h0M125.3 249.6h0M136.1 269.8h0M144.2 191.1h0M148.6 182h0M150.4 188.5h0M155.6 268.6h0M168.7 288.3h0M169.4 171.3h0M171.2 276.2h0M176.5 168.9h0M177.8 248.2h0M179.5 255.4h0M181.3 166.9h0M187.6 283.6h0M190.7 171.4h0M192.4 169.8h0M193.2 165.9h0M199 249.9h0M202 184.1h0M210.4 313.2h0M211.4 310.9h0M213.4 305.5h0M215.6 292.8h0M218.5 220.3h0M234.1 211.5h0M245.6 198.1h0M249.7 300.2h0M256.2 276h0M258.2 185.3h0M259.2 175.4h0M265.9 240.6h0M268 175.6h0M268.8 178.4h0M280 205.3h0M291.4 240.4h0M294.6 172.7h0M298.4 284.7h0M299.9 204.8h0M300 288.5h0M309.9 193.7h0M326.7 236.3h0M331.8 256.1h0M336.2 154.3h0M348.8 245.6h0M351.8 146.6h0M353.2 139.9h0M354.1 140.3h0M362.9 160.4h0M372.3 259.8h0M373.7 167.8h0M389.4 220.5h0M401.1 224.6h0M412 253.4h0M422.9 181.6h0M425.8 230.5h0M428.4 226.9h0M431.9 240.6h0M441 169.2h0M444.1 178.5h0M447.2 183.6h0M450 185.2h0M452.8 274.9h0M453.8 184h0M454.1 274.1h0M455.7 261.5h0M457.9 248.4h0M459.1 241.2h0M463.3 230.4h0M465.3 233.6h0M476.1 233.2h0M487.5 247.6h0M492.1 285.2h0M493.3 170.7h0M493.1 282.5h0M498.4 160.2h0M501.7 162.6h0M507.2 243.3h0M509.9 249.2h0M515.8 144.6h0M522.7 160h0M526.6 155.4h0M527.8 156.4h0M531 156.7h0M530.9 329.1h0M532.3 182.8h0M540.5 245.8h0M556.2 266.4h0M572.9 263.1h0M579.9 284.9h0M589.4 327.2h0M591 332.8h0M609.2 235.9h0M613.2 219.8h0M621.6 304h0M625.8 178.6h0M633.1 305.4h0M639 190.9h0M652.9 311.5h0M654.3 307.3h0M656.7 293.2h0M659.8 277.7h0M668.5 161.5h0M668.4 258.6h0M670.9 263.8h0M693.4 202.4h0M710.3 214.3h0M724.4 201.6h0M725.2 201.7h0M730.9 191.6h0M734.2 197.5h0M739.5 206.5h0M741.2 212h0M750.6 212.9h0M757.9 213.3h0M767.8 206.2h0M772 209h0M780 215.4h0M790.9 212.4h0M794.3 211.3h0M795.3 215.1h0M797.2 214.1h0M801.5 219.1h0M812.6 233.3h0M873.8 224.5h0M881.1 221.4h0M882 221.2h0M887.8 216.3h0M906.4 208.9h0M914.3 218.7h0M920 224.2h0M927.2 223.5h0M939.9 214.9h0M960.4 218.8h0M963.4 212.3h0M965.3 219h0M966.2 215.9h0M1002.5 218.3h0M1003.9 214.7h0M1018.2 227.2h0M1031.1 223.7h0M1054.4 220.6h0M1086.4 236.7h0M1110.3 228h0M1124.6 229.1h0M1146.8 241.7h0M1162.2 233.1h0M1168 240.4h0M1169.6 231.8h0M1184.7 233.8h0M1193.4 229.9h0M1214.2 230.7h0M1226.9 231.4h0M1230.9 239.3h0M1239.7 236.4h0M1276.9 226h0M1278.3 228.1h0M1286.5 231.5h0M1315.1 175.7h0M1320.5 226.8h0M1327.3 252.1h0M1328.7 245.3h0M1356.6 256.9h0M1359.6 253.4h0M1361.4 250.8h0M1363.6 248.9h0M1368.1 247.7h0M1371.1 251.4h0M1380.5 244.6h0M1393.2 242.5h0M1400.3 251.4h0M1401.5 248.3h0M1423.8 272.6h0M1432.4 263.9h0M1433.9 274.8h0M1436.5 290.9h0M1439.2 291.1h0M532.3 412h0M532.3 404.6h0M532.3 401.2h0M532.3 396.2h0M535.6 450.6h0M535.6 447.6h0M535.6 441.7h0M535.6 436h0M535.6 432.5h0M538.8 413.1h0M542.5 439.7h0M542.5 427.9h0M545.6 435.2h0M545.6 431.5h0M545.6 425.6h0M548.7 425.9h0M548.7 422.9h0M548.7 419.1h0M551.8 415.7h0M555.4 435.3h0M555.4 429.7h0M558.5 425.3h0M561.5 437.1h0M561.5 433.5h0M561.5 430.5h0M561.5 427.4h0M565.6 437.1h0M565.6 429.3h0M565.6 425.5h0M568.7 437.5h0M568.7 433.9h0M568.7 425.5h0M571.6 435.7h0M571.6 431.2h0M571.6 426.8h0M575.5 430h0M579 431.2h0M581.5 431.1h0M581.5 426.8h0M585.3 434.5h0M585.3 430.7h0M588.7 436.1h0M588.7 429.5h0M592.1 422.3h0M594.9 400.5h0M598 392.7h0M598 388.6h0M601.6 376.6h0M674.6 163.5h0M677.2 146h0M677.2 149.3h0M681 132.5h0M681 135.6h0M684 111.1h0M684 115.1h0M687 107h0M690.7 102.8h0M694 100.8h0M694 105h0M697.2 114.1h0M700.9 114.4h0M700.9 117.9h0M703.5 112.7h0M703.5 117.2h0M707.1 118.5h0M710.4 119.3h0M710.4 122.6h0M714.3 133.6h0M716.7 138.9h0M720.7 130.4h0M723.7 122.2h0M727.5 132.1h0M730.2 132h0M733.3 121.3h0M737.1 114h0M739.7 110.2h0M739.7 113.8h0M743.3 121.1h0M746.6 131.9h0M750.5 140.5h0M753 123h0M756.6 90.6h0M756.6 94.1h0M756.6 97.6h0M759.7 79.1h0M759.7 83.3h0M763.3 85.8h0M763.3 91.2h0M766.9 78.8h0M769.9 78.9h0M773.7 88.5h0M773.7 91.9h0M773.7 96.6h0M776.6 91.3h0M776.6 97.6h0M780 92.2h0M780 96.4h0M782.7 119.9h0M786.1 116.3h0M789.8 133.5h0M789.8 136.6h0M793 136h0M793 140.7h0M795.9 133.8h0M795.9 137.1h0M799.8 145.6h0M802.7 130.1h0M802.7 134.3h0M806.3 134h0M806.3 137.6h0M809.7 141.5h0M809.7 144.5h0M812.4 145h0M812.4 148.5h0M816.1 160h0M819.8 162.2h0M822.4 174.3h0M825.6 180.3h0M829.8 170.5h0M829.8 261.4h0M829.8 258.3h0M832.6 157.1h0M832.6 160.2h0M832.6 259.4h0M836 158.3h0M836 250.3h0M836 247.2h0M839.2 161.3h0M839.2 225.6h0M842.3 157.8h0M842.3 214.6h0M846.1 156.3h0M846.1 208.2h0M848.9 158.7h0M848.9 207.1h0M852.9 157.2h0M852.9 209.1h0M856.1 155.3h0M856.1 210.4h0M859.3 157.1h0M859.3 214.5h0M862.6 159.6h0M862.6 213h0M865.6 164.3h0M865.6 210.2h0M868.7 160.3h0M868.7 211.5h0M872.6 157h0M875.9 154.7h0M878.7 156h0M881.7 153.3h0M885.6 153.1h0M888.4 155.1h0M891.7 143.6h0M895.3 143.5h0M898.1 146.2h0M901.6 148.5h0M905.2 152.3h0M908.7 149.4h0M912.2 141.8h0M912.2 145.8h0M914.8 157.5h0M918.7 165h0M921.4 160.4h0M925.4 159.4h0M927.9 155.7h0M931.9 160.4h0M935.3 166.1h0M938.6 168.8h0M941.5 168.9h0M944.9 166.9h0M948.3 167.4h0M950.9 172.5h0M954.2 176h0M958 172h0M961.2 170.1h0M964.7 169.8h0M968.3 171h0M971.6 170.9h0M974.5 171h0M977.6 174.4h0M981.1 166.7h0M984.7 147.4h0M984.7 152.7h0M987.5 133.8h0M991.5 132.2h0M991.5 139h0M994.7 150.8h0M997.8 143.7h0M1000.6 152h0M1004 156.2h0M1007.9 146.1h0M1010.6 135h0M1010.6 140.6h0M1014 131.6h0M1014 139.1h0M1017.7 137.5h0M1020.2 137.5h0M1020.2 142.2h0M1024.3 140.9h0M1027.8 164.6h0M1030.3 158.5h0M1033.7 145.7h0M1037.3 137.8h0M1040.5 139.8h0M1043.8 150.4h0M1047.3 143.9h0M1047.3 147.2h0M1050 150.5h0M1053.7 149.3h0M1057.2 161.4h0M1060.2 164.6h0M1063.9 161.6h0M1063.9 165h0M1066.5 157.9h0M1066.5 161.1h0M1070.1 150.9h0M1073.6 152.8h0M1073.6 156.7h0M1076.7 156.3h0M1079.7 167.9h0M1083.8 176.6h0M1086.6 173.8h0M1090 175.4h0M1093 176.1h0M1097.1 177.3h0M1100.4 178.2h0M1102.7 178.4h0M1106.9 181.5h0M1109.7 177.6h0M1113.4 167.7h0M1116.2 166.7h0M1120 166h0M1123.1 182h0M1126.3 180.7h0M1130 181.2h0M1132.4 181.9h0M1136 179h0M1139.6 166.5h0M1142.9 159.7h0M1146.1 158.8h0M1149.8 165.1h0M1153.1 177.9h0M1155.7 179.6h0M1158.9 177.8h0M1162.4 177.5h0M1166.1 177.3h0M1169.4 175.9h0M1172.2 166.5h0M1176.1 167.6h0M1179.6 171.1h0M1182.6 177.1h0M1185.9 181.9h0M1189 183.2h0M1191.8 183.1h0M1195.6 180.3h0M1198.9 178.2h0M1202.4 180.5h0M1205.9 176.6h0M1209.2 178.4h0M1211.6 177.3h0M1215.3 178h0M1218.5 178.8h0M1222.1 178.5h0M1225 175.9h0M1228.2 176.9h0M1231.6 180.2h0M1235.2 186.3h0M1238.1 185.5h0M1241.8 182.1h0M1245.4 171.7h0M1248.2 183.2h0M1251.7 185h0M1258.4 186.8h0M1261.7 184.2h0M1264.4 184.9h0M1268.1 185.2h0M1271.6 184.4h0M1274.5 176.2h0M1278.2 161.5h0M1281.6 160.4h0M1284.5 164.8h0M1288 171.9h0M1290.9 167.6h0M1294.6 158.9h0M1297.7 168.4h0M1301.4 183.6h0M1304.9 157.8h0M1307.7 149.5h0M1311 167.2h0M1317.8 175.4h0M1321.4 174.8h0M1324.4 184.1h0M1327.6 193.5h0M1330.8 186.2h0M1334.7 180.6h0M1337.2 175.4h0M1341.1 175h0M1343.7 183.8h0M1347 186.5h0M1351 188.6h0M1354.2 189.9h0M1356.9 187.3h0M1360.1 185.2h0M1363.7 183.4h0M1366.8 178.6h0M1370.5 185.7h0M1373.4 189.4h0M1377.4 194h0M1380.6 192h0M1383.7 189.7h0M1386.8 185.3h0M1390 180.6h0M1393.9 183.6h0M1397.3 191.2h0M1399.8 197.1h0M1403.9 197.3h0M1407.1 190.5h0M1410.2 189h0M1413.4 189.7h0M1417.2 196.6h0M1419.7 203.7h0M1423.2 199.8h0M1426.6 191.1h0M1430.1 184.2h0M1432.9 191.9h0M1436.5 186.7h0M1439.5 189.4h0M1442.6 190.8h0M1446.6 192.1h0M1449.9 196.9h0M1452.9 187.4h0M1456.8 175.4h0M1459.7 162.5h0M1459.7 167.6h0M673.9 158.2h0M680 134.6h0M684.6 109.9h0M689.6 102h0M693.5 100.1h0M695.5 109.9h0M699.4 113.9h0M703.4 111.9h0M709.3 111.9h0M712.2 127.7h0M715.2 139.5h0M718.2 127.7h0M722.1 117.8h0M726 127.7h0M730 131.6h0M733.9 119.8h0M736.9 111.9h0M739.9 108h0M742.8 113.9h0M745.8 127.7h0M748.7 141.5h0M751.7 139.5h0M754.6 111.9h0M756.6 88.2h0M759.6 77.4h0M764.5 78.4h0M769.4 77.4h0M772.4 86.3h0M778.3 89.2h0M784.2 96.1h0M786.2 111.9h0M788.2 131.6h0M791.1 135.6h0M796 133.6h0M802 129.6h0M807.9 131.6h0M812.8 145.4h0M815.8 159.2h0M819.7 161.2h0M823.6 178.9h0M827.6 171h0M830.5 159.2h0M835.5 153.3h0M841.4 157.2h0M846.3 155.3h0M850.3 159.2h0M855.2 153.3h0M859.1 157.2h0M865 160.2h0M870 159.2h0M875.9 153.3h0M879.8 157.2h0M883.8 151.3h0M887.7 155.3h0M892.6 139.5h0M898.6 145.4h0M903.5 137.5h0M907.4 151.3h0M912.4 139.5h0M915.3 157.2h0M922.2 160.2h0M929.1 154.3h0M934.1 165.1h0M940 169.1h0M945.9 166.1h0M950 167.1h0M951.8 173.3h0M957.7 171.3h0M963.7 169.4h0M969.6 171.3h0M977.5 169.4h0M982.4 165.4h0M985.3 137.8h0M989.3 126h0M993.2 137.8h0M997.2 126h0M1000.1 151.6h0M1005.1 155.6h0M1009 139.8h0M1012 129.9h0M1015.9 129.9h0M1018.9 139.8h0M1022.8 133.9h0M1025.8 155.6h0M1029.7 161.5h0M1032.7 147.7h0M1035.6 137.8h0M1039.6 135.8h0M1043.5 149.6h0M1047.5 143.7h0M1051.4 133.9h0M1054.4 155.6h0M1058.3 165.4h0M1062.2 163.4h0M1066.2 157.5h0M1069.1 147.7h0M1073.1 151.6h0M1077 155.6h0M1081 169.4h0M1085.9 173.3h0M1091.8 175.3h0M1097.7 177.2h0M1103.6 178.2h0M1109.6 177.2h0M1113.5 167.4h0M1119.4 165.4h0M1122.4 179.2h0M1129.3 181.2h0M1135.2 177.2h0M1139.1 167.4h0M1143.1 153.6h0M1147 151.6h0M1150 167.4h0M1152.9 179.2h0M1158.8 177.2h0M1164.8 177.2h0M1169.7 175.3h0M1172.6 165.4h0M1176.6 161.5h0M1180.5 173.3h0M1186.5 183.2h0M1192.4 183.2h0M1196.3 179.2h0M1202.2 175.3h0M1208.1 177.2h0M1214.1 177.2h0M1220 179.2h0M1225.9 175.3h0M1230 177.2h0M1236.2 187.4h0M1242.1 181.5h0M1246.1 169.6h0M1250 183.4h0M1255.9 189.4h0M1261.8 179.5h0M1265.8 187.4h0M1271.7 181.5h0M1275.6 167.7h0M1279.6 157.8h0M1283.5 161.8h0M1287.5 171.6h0M1290.4 175.6h0M1292.4 159.8h0M1295.4 156.8h0M1298.3 167.7h0M1301.3 185.4h0M1304.2 157.8h0M1307.2 147h0M1311.1 163.7h0M1315.1 181.5h0M1319 171.6h0M1323 175.6h0M1326.9 191.3h0M1330.8 185.4h0M1334.8 177.5h0M1338.7 169.6h0M1342.7 181.5h0M1348.6 187.4h0M1354.5 189.4h0M1358.4 185.4h0M1363.4 183.4h0M1367.3 171.6h0M1370.3 185.4h0M1376.2 191.3h0M1382.1 191.3h0M1386 185.4h0M1390 179.5h0M1393.9 183.4h0M1397.9 195.3h0M1403.8 197.2h0M1407.7 187.4h0M1413.6 189.4h0M1417.6 199.2h0M1421.5 203.2h0M1425.5 191.3h0M1429.4 183.4h0M1433.4 191.3h0M1437.3 185.4h0M1441.3 191.3h0M1445.2 189.4h0M1449.1 195.3h0M1453.1 185.4h0M1456 165.7h0M1459 160.8h0M1462 167.7h0M532.8 425.3h0M534.2 450.9h0M537.2 458.8h0M539.1 460.8h0M541.1 448.9h0M544.1 439.1h0M547 433.1h0M551 433.1h0M554.9 437.1h0M558.9 443h0M562.8 441h0M568.7 439.1h0M574.6 433.1h0M578.6 433.1h0M582.5 443h0M587.5 441h0M590.4 433.1h0M593.4 423.3h0M596.3 405.5h0M599.3 389.8h0M827.6 252.3h0M829.6 263.1h0M833.5 260.2h0M836.5 246.4h0M838.4 236.5h0M841.4 224.7h0M844.3 208.9h0M849.3 207h0M853.2 214.8h0M857.2 216.8h0M863.1 212.9h0M867 208.9h0M871 224.7h0M121.4 180.1h0M149.4 183.1h0M252.4 164.4h0M252.4 182.7h0M252 196.9h0M252 200.8h0M218.4 222.5h0M225.3 233.4h0M273.2 258.6h0M285.5 241.6h0M159.3 294.5h0M167.2 300.4h0M167.2 317.2h0M156.3 285.6h0M240.1 305.3h0M240.1 310.3h0M222.4 301.4h0M223.4 306.3h0M299.3 303.4h0M299.3 310.3h0M318.6 336.5h0M344.2 256h0M344.2 261h0M344.2 264.9h0M321 239.3h0M348.6 244.2h0M387.6 216.6h0M356.5 224.5h0M240.1 289.6h0M297.3 289.6h0M475.2 131.2h0M464.5 140.1h0M475.2 139.7h0M478.3 142.7h0M464.5 152.5h0M475.2 151.5h0M477.7 156.5h0M477.7 162.4h0M451.1 175.2h0M416.6 320.1h0M416.6 336.5h0M416.6 346.3h0M496.5 300h0M489.6 288.6h0M521.7 308.3h0M521.7 316.6h0M520.5 327.4h0M520.5 337.5h0M512.2 267.5h0M512.2 273.4h0M519.1 277.7h0M520.1 286.6h0M521.1 291.5h0M527 299.4h0M539.4 238.3h0M560.5 243.6h0M562.5 254.7h0M569.4 259h0M577.3 266.3h0M605.3 226.5h0M605.9 234.4h0M605.9 238.3h0M602.9 244.8h0M619.7 195.3h0M625.6 181.5h0M631.5 175.2h0M635.5 183.1h0M639.4 196.5h0M652.2 182.7h0M652.2 195.3h0M672.3 153.5h0M674.3 263.9h0M674.3 272.8h0M628.6 318.1h0M632.5 316.2h0M628.6 327h0M628.6 330h0M641.4 320.1h0M647.3 325h0M649.3 322.1h0M649.9 333.9h0M428.4 236.3h0M428.4 244.2h0M437.3 261h0M416.6 277.7h0M416.6 283.6h0M508.3 248.2h0M511.3 254.1h0M578.3 297.4h0M584.2 308.3h0M585.2 322.1h0M590.1 332.9h0M496.8 300.3h0M521.4 308.3h0M521.4 316h0M520.4 327.1h0M520.4 337.3h0M489.5 290h0M521.4 292h0M540.1 496.6h0M534.2 487.2h0M537.2 482.2h0M539.1 481.2h0M535.2 476.3h0M540.1 469.4h0M542.7 469.4h0M539.1 461.5h0M537.2 457.6h0M535.2 452.7h0M540.1 451.7h0M553.3 453.6h0M558.5 451.3h0M553.3 447.1h0M560.8 446.7h0M568.3 446.7h0M589.4 460.5h0M589.4 447.7h0M583.5 445.8h0M592.4 437.9h0M592.8 442.8h0M589.4 443.8h0M546.6 436.3h0M554.9 441.8h0M562.8 443.8h0M572.7 440.8h0M601.3 398.4h0M607.2 368.5h0M611.7 362.6h0M614.1 345.2h0M628.3 318.6h0M632.2 316.2h0M628.3 327.1h0M628.3 331h0M649.6 334.4h0M645.6 325.5h0M649.6 321.5h0M641.7 319.6h0M578.6 297.9h0M584.1 308.7h0M585.5 323.5h0M590.4 329.4h0M759.6 59.5h0M759.6 65.4h0M769.4 74.3h0M684.6 86.5h0M684.6 95.3h0M693.5 97.3h0M690.6 100.3h0M695.5 106.8h0M702.4 110.1h0M709.3 109.1h0M722.1 115.1h0M739.5 105.6h0M672.2 153.1h0M664.3 154.5h0M797.6 114.1h0M797.6 122h0M802.4 127.3h0M808.3 129.3h0M808.3 136.8h0M813.4 142.1h0M790.1 131.8h0M797.6 132.8h0M802 133.2h0M846.3 129.3h0M855.2 129.3h0M846.3 135.2h0M846.3 142.3h0M846.3 148.6h0M836.5 149.2h0M830 156.5h0M830 163.4h0M901.5 107.2h0M892.6 115.1h0M892.6 120h0M901.5 122.9h0M913.4 122.4h0M883.8 126.9h0M883.8 132.8h0M883.8 136.8h0M946.3 135.2h0M892.6 137.7h0M904.5 135.8h0M913.4 136.8h0M929.1 152.5h0M946.3 163.4h0M674.2 263.5h0M674.2 273.4h0M670.8 261.9h0M713.2 222.5h0M713.2 224.5h0M708.3 215.2h0M703.4 209.7h0M726.6 203.2h0M759.6 221.5h0M751.1 218.2h0M768.4 216h0M779.3 215.2h0M756.6 213.6h0M811.4 238.3h0M812.8 241.6h0M811.4 247.2h0M843.4 240.9h0M843.4 247.2h0M843.4 249.5h0M862.5 227.4h0M862.5 235.3h0M862.5 244.2h0M862.5 251.5h0M862.5 263.3h0M870.4 240.3h0M870.4 246.2h0M870.4 250.1h0M879.2 231.4h0M879.2 239.3h0M879.2 245.6h0M921.2 234.3h0M928.5 232.4h0M897.6 218.2h0M831.5 277.7h0M832.5 281.1h0M924.2 224.5h0M928.1 223.5h0M978.4 79.5h0M978.4 84.2h0M1024.4 78.3h0M1024.4 82.2h0M1023.4 92.7h0M1020.4 102.5h0M1024.8 102.5h0M989.3 104.5h0M989.3 108.4h0M989.3 112.4h0M1004.5 103.5h0M1013.3 106.5h0M968.6 110.4h0M968.6 114.4h0M978.4 116.3h0M978.4 118.9h0M1004.5 118.3h0M1013.3 119.3h0M1024.4 114.4h0M1024.4 118.3h0M1024.4 123.2h0M968.6 126.8h0M997.2 122.8h0M990.3 123.2h0M946.5 134.7h0M968.6 139h0M979.4 138.6h0M969.6 144.9h0M979.4 145.9h0M969.6 154.8h0M974.5 150.8h0M977.5 156.8h0M946.5 163.7h0M1051.4 127.2h0M1051.4 133.1h0M1038.6 134.1h0M1068.2 137.4h0M1059.3 147.5h0M1069.1 144.9h0M1073.7 144.9h0M1077 150.4h0M1092.4 139.4h0M1088.9 149.9h0M1091.8 152.8h0M1092.4 156.8h0M1088.9 162.7h0M1111.5 150.4h0M1120.4 150.4h0M1111.5 154.8h0M1107.6 158.3h0M1120.4 156.8h0M1111.5 162.7h0M1146 112.4h0M1146 126.8h0M1146 131.1h0M1145 136h0M1138.1 143.9h0M1142.1 144.9h0M1138.1 149.9h0M1147 150.8h0M1146 156.8h0M1168.3 132.5h0M1169.1 143.9h0M1168.7 149.9h0M1169.7 154.8h0M1157.5 160.3h0M1168.7 161.7h0M1179.6 156.2h0M1179.6 161.7h0M1175.6 166.6h0M1216.4 165.2h0M986.3 220.4h0M991.7 231.7h0M1014.5 223.8h0M1014.5 227.7h0M1033.1 221.8h0M1041.5 222.8h0M1059.3 222.8h0M1041.5 238.6h0M1058.3 238.6h0M1041.5 244.5h0M1041.5 248.4h0M996.2 270.1h0M996.2 275h0M996.2 278h0M995.2 280.6h0M1096.7 232.7h0M1120.4 233.2h0M1132.2 233.2h0M1147 243.5h0M1165.4 239.6h0M1165.4 243.5h0M1181.5 275.6h0M1199.9 271.5h0M1200.3 277h0M1200.6 283.9h0M1199.9 286.5h0M1196.3 245.5h0M1200.3 239.6h0M1205.2 239.6h0M1202.2 249.4h0M1202.2 256.3h0M1188.4 238.6h0M1221.9 240.5h0M1246.7 166.3h0M1263.8 176.2h0M1280.6 153.7h0M1294.4 155.1h0M1307.2 144.2h0M1307.2 149.1h0M1321 169.9h0M1338.3 166.9h0M1367.3 169.3h0M1392.4 171.2h0M1389 177.7h0M1377.2 187.6h0M1407.7 184.6h0M1429.4 181.7h0M1438.3 182.7h0M1458.6 160h0M1456 163.9h0M1243.7 236.9h0M1253.6 233.9h0M1267.8 234.9h0M1292.4 244.8h0M1302.3 248.7h0M1332.8 252.7h0M1347.6 263.5h0M1347.6 269.4h0M1352.5 255.2h0M1359.4 251.7h0M1377.2 253.2h0M1381.7 241.8h0M1405.8 252.7h0M1421.5 290.1h0M1421.5 292.1h0M1436.3 296h0M1436.9 299h0M1436.9 303.3h0M1450.1 274.3h0M1423.1 276.3h0M1181 304.9h0M116.2 198.2V195.3M116.3 248.8V249.4M118 198.2V195.9M118.2 248.8V249.2M118.9 189.9V189.5M119.1 250V254.8M120.3 185.8V186.5M121.1 250.6V250.8M122 187.3V187.9M122.1 245.3V245.9M123.3 189V189.3M123.3 241.9V241.3M124.9 190.8V189.5M125.3 240.9V244M126.5 191.3V189.6M126.2 240.9V243.6M127.5 191.3V190.3M128 240.9V241.6M128.7 194.1V194.3M129 247.1V246.7M130.7 197.8V196.4M130.5 250.6V251.2M131.9 201.5V201.2M131.5 254.1V253.5M133.7 199.7V198.7M133 256.1V256.7M134.9 198.4V197.6M134.5 256.8V257.5M136.2 195.7V195.3M136.1 256.6V261.9M137.8 194.4V191M137.7 255.4V256M138.8 195.7V196.3M139 254.1V253.8M140.3 198.9V198.8M140.3 253.2V254.4M141.7 200.5V201.1M141.4 253.7V254.7M143.3 200.2V197.9M142.9 254.7V257.5M144.2 198.2V198.9M144.3 255.2V254.7M145.8 196.2V196.8M145.9 255.7V255.3M147.5 192.2V191.8M147.3 251.3V250.6M148.6 190.2V190.5M148.7 249.1V248.8M150.4 192.6V193.3M150.3 245V244.7M151.6 196.6V195.8M151.9 247V249.4M152.7 200.4V199.1M153 249V249.1M153.9 205.2V205.3M154.6 253.7V253.7M155.5 207.6V203M155.6 260.4V260.2M156.7 211.2V208.6M157.2 272.5V272.2M158.9 206.6V205M158.4 272.9V273M160 202V201.6M159.6 273.2V274.6M161.3 192.8V192.7M161.6 273.9V273.2M162.6 189.1V181.5M162.6 274.2V274M164.4 187.1V182.7M164.4 277.6V279.1M165.9 186.1V186.3M165.2 280.1V279.8M166.7 185.1V183.1M167.2 282.6V282.8M168.1 181.3V178.2M168.7 278.1V281.6M169.4 179V179.6M169.9 273.5V276.1M171.2 177.2V175M171.2 271.1V270.8M172.8 177V176.1M172.5 271.5V271.4M174.2 176.8V177.5M173.6 271.9V271.4M174.9 177.4V177.6M175.2 267.8V267.4M176.5 179.4V177.5M176.6 257.2V263.1M177.9 181.6V181.7M177.8 242.9V244.2M179.9 179.8V179.8M179.5 246.9V246.9M181.3 178V172M181 250.9V257.6M182.5 174.4V173M182.3 259.7V259.7M183.4 175.6V175.6M183.7 265.2V266.5M185.5 182.9V182.7M185 276.2V276.2M186.8 184.4V184.4M186.5 278.4V279.3M187.7 184.4V185.1M187.6 278.4V279.2M189.4 184.4V184.4M189.3 278.4V281.5M190.7 182.4V180.1M190.4 278.4V280.5M192.4 176.4V176.4M192.4 270.1V270M193.2 175.4V171.5M193.8 265.1V267.5M195.2 175.1V173.2M194.6 260.1V260.5M196.5 174.6V173.2M196 250.9V256.5M197.7 178V177.3M197.7 246.4V246.7M198.9 187.4V188M199 243.3V244.2M200.2 189.3V189.8M200.8 246.3V246.5M202 190.6V190.8M201.9 249.3V250.6M203.4 193.1V191.3M203.3 257.8V258.3M204.6 196.4V195.5M205 263.8V263.7M205.7 203.7V204.3M206.4 280.2V279.8M207.8 207.7V207.7M207.8 291.2V291.3M209.1 211.7V210.7M209.2 295.8V301.2M210 219.7V219.8M210.4 303.8V305.8M211.9 223.7V223.6M211.4 300.2V302M213.3 231.7V230.5M213.4 292.2V297.6M214.8 235.6V234.3M214.5 288.2V292.4M215.8 233.4V231M215.6 284.2V284.3M217.7 228.9V229.4M217.2 280.9V280.4M218.5 227.1V225.2M218.7 281.4V280.7M220.2 238.5V235.7M219.9 282.9V283.7M221.6 243.4V243.6M221.7 288.9V291.3M222.9 242.2V241.6M223.1 294.9V295.8M224.1 239.7V240.1M224 294V296M226.1 238.9V236.9M225.4 288.7V289.3M226.9 242.2V241.6M227.1 282V281.3M228.5 242.7V242.7M228.7 280V281.4M230 238.7V238.5M229.5 278V277.9M231.6 230.7V228.1M231.7 274V274.4M232.6 226.6V224.7M232.5 271.6V271.2M234.1 217.6V217.5M234 264.6V264.9M235.6 213.1V211.3M235.7 261.1V261.7M237 209.3V208M236.8 259.8V261M238.6 204.6V202.4M238.5 266.8V269.3M239.6 203.2V203.3M240 270.3V271.1M241.4 203.5V203M240.7 277.1V277.7M242.4 203.7V203.6M242.1 280.4V281M244.1 203.9V203.6M244 283.7V283.5M245.6 206.2V206.3M245.3 290.4V290.6M246.9 210.9V211.2M246.9 292.2V294.7M248.2 218.2V218.4M247.8 292.2V294.5M249.4 218.7V218.9M249.7 288.9V291.7M251 219.2V219.1M251.1 282.2V284.4M252.4 216.9V217.3M252.3 272.5V276.4M253.8 211.4V211.5M253.4 272.5V272.1M255 200.4V198.4M255.3 272.5V274.2M256.2 196.1V195.8M256.2 269.3V269M258.2 192.6V192.8M258.2 263.9V269.6M259.2 185.6V182.8M259 251.6V251.8M260.6 183.2V183.6M261 243.6V244M261.9 179.6V177.9M262.2 227.6V231.4M263.1 177.8V175.5M263.4 226.8V227.1M265.2 176V175.7M265.1 229.2V228.9M265.9 180.7V181.1M265.9 234V234.2M268 183.7V179.9M268 236.4V235.8M268.8 185.1V185.6M269.3 235.8V237.3M270.6 185.5V185.3M270.9 235.1V236.4M271.5 185.9V181.4M271.8 234.5V235.5M273.3 180.5V181.1M273.2 233.1V232.9M274.6 173.5V172.1M274.9 228.8V230.5M275.9 159.5V153.1M276.4 218.8V221.7M277.1 154.6V155.1M277.5 213.8V213.9M278.5 149.9V149.2M278.6 208.8V209M280.6 143.5V144.1M280 198.8V201.1M281.6 141.9V140.1M281.4 193.8V196.1M283.4 138.7V138.7M282.9 212.3V213.2M284.4 137.1V134.9M284.6 221.8V221.3M285.9 138.1V130.4M286.2 231V232.6M287.6 140.1V137.4M287 228V228.2M288.4 141.4V141.3M288.3 226.5V229M290 153.4V153.5M290 228.4V230.3M291.5 159.6V160M291.4 231.4V231.5M292.9 166.9V163M293.3 234.4V236.9M294.6 181.7V179.3M294.4 247.3V255M295.9 189.7V187.8M296.1 256.3V257.5M297.1 204.6V197.9M296.8 273.5V273.1M298.6 207.3V203.5M298.4 278.5V280.2M299.9 210V210.1M300 283.5V284.2M301.6 204.6V203.3M301.6 293.5V292.8M303 198.6V196.9M303 298.5V299.5M304.4 193.6V193.3M304.1 308.5V313.3M305.7 193.1V190.6M305.3 313.8V313.5M307.1 192.6V191.9M306.8 319.8V323.1M308.4 195.9V196.5M308.3 330V329.7M309.9 198.5V199.2M310 331V332.9M311.1 207.1V206.2M311.1 333V333.8M312.9 212.1V211.8M312.3 333.3V333.3M314 217.1V216.3M313.6 332.7V333.9M315.5 227.6V226.7M315.2 331.3V335.9M316.8 232.9V229.2M317 330.7V330.9M318.3 238.6V238.4M318.1 327.4V327.5M319.2 240.6V240.5M319.1 322.9V322.6M321.2 242.6V241.6M321.3 318.4V318.3M322.5 253.8V252.3M322.5 309.2V309.7M323.7 260.5V254.4M323.4 304.2V303.7M324.9 252.7V253.4M325.1 294.2V299.2M326.7 246.1V243.3M326.9 288.5V289.4M327.8 235.2V230.4M327.6 282.5V283.4M329.4 208.6V209M329.1 270.5V271.1M331 190.8V188.6M330.4 263.2V263.4M331.9 177.7V177M331.8 247.2V250.2M333.8 173.7V174M333.4 239.2V242.7M334.7 169.7V169.1M334.9 234.8V234.6M336.2 163.8V163.2M336.4 228.8V233.1M337.5 161V160.2M337.9 225.8V228.6M338.9 155.4V153.7M338.8 225.2V224.9M340.6 156.8V151.4M340.6 225.2V224.8M341.7 159.3V157.8M341.7 225.2V225.3M343.2 164.3V163.3M343.6 227.4V229M344.3 164.2V164.1M344.8 230.1V232.6M346 163V162.4M345.8 235.4V235M347.2 162.4V161.6M347.6 238.1V239.6M348.7 161.8V160.9M348.8 240.8V240.1M350.4 155.9V156.5M350.4 231.9V239.2M351.8 152.9V152.2M351.4 227.2V227.1M353.2 146.9V147.6M352.8 217.9V217.9M354.1 145.7V146.3M354.8 213.5V214.7M356 144.4V144.5M355.8 221.5V226.4M357.5 142.1V140.9M357.4 237.5V240.7M358.8 143.8V142.6M358.8 245.1V245.9M360.4 147.9V146.7M359.7 251.1V251.8M361.3 157.3V156.9M361.3 254.1V254M362.9 166.6V166.3M363 257V257.8M364.6 180.7V178.9M363.9 261V261M365.4 186V182M366 263V262.7M367.4 189.1V189M366.8 263.6V266.5M368.5 188.1V188.6M368.3 262.8V264.2M370 187.1V187.8M370.2 262V263.3M371.3 181.7V178.3M371.5 258.8V259.9M373 177.9V177.6M372.3 251.8V252.3M373.7 171.9V172.5M374.1 237.8V238M375.9 172.9V169M375.7 234.6V237.2M377.1 173.9V174.1M376.8 239.6V239.3M378.6 181.7V181.7M378.2 249.6V251M379.9 187.1V187.6M379.6 254.8V254.8M381.1 198V196.4M381.1 265.8V265.2M382.8 203.5V203.8M382.5 271.3V271.4M384.3 209V209.6M383.8 274.3V277M385.5 215.6V216.1M385.7 273.5V274.8M386.7 218.1V217.6M386.9 273.1V274.8M388.1 222.7V221.9M388.4 272V274.8M389.4 224.4V224.8M389.2 271V273M391.1 226V226.1M391.3 270V272.6M391.9 229.4V229.1M392.5 271.1V275M393.6 231V231.7M394.1 275.6V279.4M395 234.8V235M395.4 284.6V290M396.6 236.7V236.1M396.7 287.2V291.7M398.1 238.7V237.1M397.9 288.6V288.4M399 242.5V241.3M399.3 291.4V292.7M401.1 233.1V233.3M400.5 288.2V288.1M402.2 196.5V189.1M402 271.2V272M403.5 185.2V184.9M403.4 260.3V260.6M405.2 173.9V173.7M405 248.3V251.2M406.4 168.9V167.1M406 232.3V232.2M407.5 167.9V167.4M407.4 231.3V231.2M409.3 164.9V164.1M409 229.3V232.5M410.5 162.5V162.3M410.6 236.4V235.9M411.5 160.2V158.3M412 245.8V246.8M413 168.8V169M413.1 261.3V262.6M414.6 173.8V171M414.9 266.8V266.9M415.8 195.6V192.9M416.1 277.8V277.7M417.6 206.9V205.8M417.3 273.1V272.5M418.8 207.2V204.7M419 267.1V266.6M420.4 205.2V205.3M420.3 254.2V253.7M421.9 204.2V201.6M422 247.2V246.7M422.9 185.9V186.6M423.3 233.2V233.4M424.6 176.5V176.6M424.6 227.8V231.9M426.2 173V167.2M425.8 222.5V222.4M427 174.7V173.9M426.9 218.3V218.1M428.7 179.7V175.5M428.4 219.3V220.8M430.1 186.5V181.3M429.9 221.9V222.5M431.3 188.5V188.4M431.9 229.9V232M432.9 190.5V187.8M432.6 237.9V241.7M433.9 192.8V192.2M434.6 253.4V253.6M435.9 193.3V190.5M435.6 257.7V261.5M437.4 193.4V192.6M437.1 264.1V264.4M438.4 188.7V189.1M438.8 255.7V255.7M440.1 184.1V181.9M440.3 247.4V249.7M441 178.6V177.7M441.2 236V236.2M442.8 178.4V177.5M442.8 232V234.9M444.1 185.8V183.3M444 227.1V226.9M445.2 188.5V189M445.5 234.1V236.7M447.2 189V187.9M447 241.1V243.7M448.7 190V189.2M448.4 254.3V253.7M450 190.5V190.6M449.9 258.7V258.5M450.9 191.5V190.9M450.9 267.5V270.7M452.8 192V192.5M452.8 265.6V268.7M453.8 191.5V189.6M454.1 263.7V267.1M455.4 187.5V184.2M455.7 257.2V256.9M456.8 185.5V185.9M456.5 249.2V248.6M458 181.1V175.5M457.9 235.1V239.5M459.1 178.5V178.6M459.1 231.1V233.1M460.5 175.8V175.1M460.7 227.1V227.7M462.2 171.5V170.2M462 222.2V223.6M464 169.5V169.1M463.3 223.9V223.2M465.2 170.2V165.1M465.3 227.4V227.5M466.7 171.2V168.8M466.8 227.5V228.4M467.9 172.2V171.7M468 226.5V229.5M469.3 174.2V171.5M469.3 224.5V225.4M470.8 175.2V175.3M470.8 223.5V222.9M472.4 176.2V176.4M472.3 224.2V228.4M473.6 175.7V175.5M473.6 224.8V224.9M474.5 175.2V173.2M474.7 225.4V224.7M476.4 175.3V173M476.1 224.8V224.3M477.8 176.3V176.7M478.1 223V224.1M479.5 178.3V176.7M479.3 219.4V220.1M480.4 178.1V178.1M480.5 217.6V218.1M481.6 177.6V177.9M482 217.7V218.8M483.1 176.6V176.3M483 218.7V226.4M485 174.6V175.3M484.5 219.2V219.8M485.7 170.1V169.9M486.4 234.1V234.8M487.6 167.9V166.9M487.5 242.1V242.1M488.6 170.1V169.5M489.2 261.9V263.8M490.7 175.6V175.7M490.1 282.9V282.4M491.7 178.4V178.8M492.1 281.4V280.8M493.3 177.7V174.8M493.1 278.4V278.5M494.3 177.3V177.6M494.5 276.9V276.8M495.7 176.9V173.5M495.9 275.4V275.9M497.2 174.2V174.9M497.4 272.2V274.2M498.4 171.9V168.2M499 265.5V265.1M499.8 167.8V168.4M500 252.3V253.3M501.7 169V167.6M501.7 246.9V246.5M503.1 170.3V170.5M502.7 241.6V242M503.9 172.2V172.3M504.2 232.5V232.9M505.8 169.5V168.4M505.6 228.5V228.8M507.4 163.7V160.4M507.2 235.7V235.3M508.8 158.7V158M508.8 243.3V245.2M509.9 153.7V153.6M509.9 245V244.3M511.4 144.9V141.7M511 248.5V249M512.4 144.6V145.1M512.5 250.3V251.5M514.4 145.6V145.6M514.1 253.8V257.2M515.8 151.1V149.6M515.5 255.5V262.8M516.7 155.9V155.7M516.9 257.3V260.5M518.5 162.5V161.4M518.2 261.3V260.9M519.3 164.7V164.8M520.1 263.3V263.1M521.4 164.7V164.6M521 268.3V267.7M522.7 164V164.7M522.4 270.9V274.4M523.7 162.3V162.3M524.2 274.1V274.9M525.3 160.1V159.7M525.4 282.1V282.7M526.6 160.8V160.5M526.9 288.9V288.5M527.8 162.3V162.2M528.2 307.7V309.1M529.2 165V163.8M529.4 315.2V316.1M531 169.6V162.3M530.9 323.9V323.2M532.3 187.9V188.4M533.8 201V193.3M535.2 223.2V222.7M536.2 232.2V230.9M537.6 238.9V238.9M539.1 249.6V249.6M540.5 253.2V252M541.9 258.5V258.4M543.6 260.4V259.4M544.8 262V261.8M546.6 265.2V265M548.1 266.8V267M549.3 273.1V273.7M550.7 276.4V272.4M551.9 277.1V277.7M553.5 277.1V277.4M554.9 276.2V273.6M556.2 274.2V274.2M557.2 273.2V272.8M559 271.8V265.8M559.9 268.8V268.9M561.8 267.3V266.6M562.8 267.2V267.3M564.2 267.2V263.3M565.9 267.2V266.8M567 265.7V264.6M568.9 264.9V265M570.5 267.5V268M571.7 270.5V269.4M572.9 273.5V270.7M574.2 278.8V278.4M576 281.2V281.9M577.1 283.9V283.7M578.2 286.9V285.8M579.9 295.9V293.5M581.6 305.8V305.4M582.3 308.3V307.8M584.1 314.1V314.5M585.8 319.5V317.6M586.6 324.8V318.8M588.5 330.1V330.3M589.4 331.4V331.9M591 339.2V339.3M592.7 339.4V339.4M594.1 332.7V333.1M595.3 317V316.2M597 305V299.9M598.3 288.9V288.8M599.5 282.2V282M600.7 276.2V276.5M602.5 265.6V261.8M602.2 370.5V375.2M603.6 261.4V260.4M603.6 366.5V368.7M604.9 254.7V254.9M605.3 359.7V361.1M606.4 251.9V248.2M606.6 359.7V361.8M607.7 249.4V250M607.8 359.7V361.3M609.2 244.4V241.9M609 359V359.7M611.1 241.5V239.6M610.6 357V357.7M612.3 235.5V229.4M611.9 351.6V351.2M613.2 232.5V226.7M613.2 346.3V345.9M615.1 229.8V228.2M614.6 340.9V341.1M616.1 224.5V223.9M616.6 317.8V317.3M617.8 215.4V215.8M617.4 312.5V316M618.8 200.2V199.7M619.4 302.8V304.5M620.8 197.8V198.5M620.1 299.5V302M622.1 195.4V192.9M621.6 296.1V296.4M623.7 190.6V189.9M623.4 294.6V294.2M624.6 188.9V187M624.6 294.6V295.4M625.8 185.7V185.9M626.1 295.5V296.6M627.1 184.1V181.6M627.1 297V297.4M628.8 182.5V179.5M629 298.5V302.3M630.4 180.9V181.5M630.5 300.1V300.8M631.6 180.1V177.3M631.8 299.4V299.8M632.7 178.5V178.9M633.1 298.1V297.4M634.9 181.2V180.8M634.6 297.4V296.9M636 183.8V179M635.9 296.8V297.1M637.3 191.1V190.6M637.3 300.1V299.5M639 195.6V195.4M639 302.1V301.6M639.8 204.4V203.7M639.9 306.1V306.1M641.6 206.9V206M641.1 309.2V310.2M643 209.4V209M643.3 312.5V312.5M644.3 214.1V213.3M644 315.4V317.1M645.8 214.6V214.9M645.8 314.4V316.4M647 215.6V214.1M647.1 312.4V313.6M648.2 215.5V215.9M648.8 311V313.6M650.2 213.5V211.2M649.7 309.5V309M651.7 209.5V206.6M651.5 306.5V310.4M652.4 206.2V199.8M652.9 304V305.2M653.7 192.9V193M654.3 299V299.9M655.6 187.9V186.6M655.8 296.4V296.8M656.9 186.4V185.4M656.7 289.6V289M658.3 183.4V183.4M658 276.4V276M659.4 180.5V180.4M659.8 270.9V270.8M660.9 170.5V167.6M661.4 259.9V259.2M662.3 165.5V165M662.7 255.9V255.6M663.5 163V161.8M663.8 253.9V256.8M665.2 164.3V160.4M665.5 249.9V249.7M666.6 165.6V162.5M666.5 249.2V249.1M668.5 169.6V168.9M668.4 250.8V253M669.7 171.6V170M669.8 251.6V253.9M670.8 171V171.6M670.9 252.4V255.5M672.6 251.5V253.1M673.4 250.7V250.6M675 249.1V250.4M676.4 248.8V249.7M678 248.8V253.6M679.1 248.8V249.9M680.5 230.1V231.1M681.8 220.4V222.6M683.7 219.4V224.2M685 218.4V222.3M686.5 197.8V197.8M688.1 196.9V196.3M689.3 197.7V203.7M690.3 198.1V197.5M691.6 198.5V199.9M693.4 197.9V198M694.5 197.6V197.5M696.4 196.9V199.9M697.8 196.6V196.5M699 198.2V199.8M700.6 201.4V201.5M701.7 203V206.3M702.9 205.6V205.2M704.2 206.6V207.4M706 207.6V207.6M706.9 209.6V209.3M708.5 210.3V210.1M710.3 209.5V209.9M711.5 209.1V210.8M713.3 208.7V209.2M714.1 207.8V207.5M715.5 207.3V207.4M716.7 205.5V207.6M718.2 202.5V202.9M720.2 199.5V199.2M721.4 194.3V195.8M723.1 193.5V192.8M724.4 191.9V196.9M725.2 191.1V195M726.5 190.3V190.2M728.6 188.7V189.4M729.4 187.9V188.4M730.9 186.7V186.1M732.4 186.7V190M734.2 186.7V190M735.2 186.7V186.9M736.5 190.9V192.5M737.7 200.5V201.4M739.5 200.5V200.1M741.2 200.5V204M741.9 200.5V201.5M744 200.5V201.4M745.5 201V202.4M746.4 201.7V202.2M748.2 202.3V203.3M749.7 203.7V203.8M750.6 204.3V205.5M752.3 204.8V204.2M753.1 204.9V207M755.1 205.1V209.9M756.6 205.4V206.9M757.9 205.6V208.4M759.3 205.9V207.7M760.9 206.1V205.9M761.6 206.3V207.4M763.5 205.7V205.3M764.9 204.9V205.4M766.2 203.4V206.1M767.8 202.7V202.1M768.9 201.9V203.1M770.6 200.5V200.3M772 200.8V202.4M773.5 201.3V201.1M774.1 201.5V202.3M776.2 201.8V201.6M777.7 202.3V202.7M778.9 202.5V202.8M780 203V207.3M781.2 203.3V203.6M782.9 203.5V204.2M784.5 204V204M786 204.3V205.1M787.1 204.6V208M788.1 204.7V206.1M789.6 204.9V212.6M790.9 205.1V207.7M792.4 205.2V204.7M794.3 205.5V204.9M795.3 205.6V206.6M797.2 205.7V206M798.2 206V206.3M799.6 206.1V206M801.5 206.4V212.2M802.6 206.9V212.9M804.2 207.7V207.2M805.1 209.3V210.4M806.9 210.1V210M808 219V219.6M809.2 224.3V224.5M810.9 225.3V226.3M812.6 222.6V226.3M814 224.1V224.9M814.7 229.4V228.7M816.4 230.5V231.2M818.2 231V230.8M819.2 232V231.8M820.8 230.5V229.8M821.9 226.5V228.6M823.7 232V232.4M824.8 239V242.4M872.2 217.1V216.4M873.8 213.7V216.2M875.7 216.3V217.4M876.8 218.8V222M878.4 220.5V220.8M879.6 217.8V217.9M881.1 215.2V214.6M882 212.6V215.8M884 211.6V216.5M884.8 209.9V215.5M886.7 209.2V209.9M887.8 208.5V210.2M889.1 207.2V207.4M891 206.5V206.1M891.9 207V209.8M893.6 207.4V207.7M894.5 207.7V207.7M896.1 208.4V211.1M898 208.1V215.8M899.3 207.4V206.9M900.3 207.1V207.4M902.2 206.8V208.1M903.1 205.8V208.5M904.8 205.1V204.7M906.4 203.8V204.8M907.7 203.1V204.7M908.6 202.6V204.1M910.6 205.2V204.9M911.6 206.6V206.6M913.2 209.2V210.8M914.3 210.6V210.7M915.7 211.9V212.4M916.9 214.6V215.6M918.9 215.9V218M920 218.3V219.4M921.8 218.3V218.8M922.8 218.3V220.5M924.4 218.3V218M925.3 218.3V218.2M927.2 217.8V217.8M928.3 217.5V217.5M929.9 217.1V217M931.2 216.5V216.1M933.1 215.9V218.6M934.4 213.9V213.2M935.4 212.9V213.6M936.6 211.9V213M937.9 210.3V210.1M939.9 210.1V210.8M940.8 209.8V212.2M942.6 209.6V209.4M943.6 209.4V208.8M945.4 208.6V210M947 208.1V215.8M948.1 207.2V206.9M949.7 206.7V207M950.7 207V211.9M952 209V210.3M953.9 209.5V209.4M955.2 210.5V212.5M956.3 211V210.4M957.7 211.5V210.9M959.3 210.2V209.5M960.4 209.3V210.9M962.2 207.7V208.4M963.4 206.8V206.2M965.3 207.7V210.5M966.2 210V209.6M968 211.2V212.6M969.4 213.5V213.4M970.9 213.1V212.7M972.1 212.6V213.3M973.3 211.6V211M974.6 211.1V210.8M976 210.8V210.7M977.7 211V214.1M978.7 211.2V214.1M980.4 211.5V211.4M981.7 211.6V211.2M982.7 209.9V209.8M984.8 209.1V208.4M986.1 208.2V209.3M987.6 206.8V207.1M988.7 207.3V207M990.4 208.3V207.8M991.8 208.8V209.7M993.2 209.3V208.7M994.1 210.3V211.8M995.5 210.8V210.3M997.3 211.8V214.9M998.6 212.3V212M1000.1 212.3V211.8M1000.9 210.3V210.2M1002.5 209.3V210.7M1003.9 207.3V209.7M1005.6 207.1V206.8M1006.6 207.9V207.3M1008.4 209.6V209.4M1010.1 210.4V211.2M1011.3 211.5V212.5M1012.5 211.4V211.1M1013.9 211.2V212.1M1015.3 210.9V210.4M1016.6 210.7V211.1M1018.2 210.9V218.6M1019.8 211.1V211.6M1020.8 211.3V210.9M1022.1 211.6V211.3M1024 211.5V211M1024.9 211.2V213.9M1026.3 211V212.6M1027.7 210.9V210.2M1029.1 211.6V211.1M1031.1 212.8V217.2M1032.1 215.2V215.5M1033.4 216.4V221.9M1035 213.6V219.3M1036.6 206.6V206M1038 203.1V202.8M1039.1 209.4V211M1040.9 212.9V215.7M1041.8 216.4V222M1043.1 211.1V217.5M1045 208.3V210.9M1046.3 202.8V202.6M1047.2 203.8V205.9M1049 204.8V204.3M1050.3 206.8V207.1M1051.9 207.8V209.5M1053.4 210.4V210.5M1054.4 211.9V214.6M1055.7 213.4V213.5M1057 216.4V218.7M1058.4 217.3V219.1M1060 215V215M1061.1 213.8V213.5M1062.5 212.6V215M1064.7 210.8V212.5M1065.3 211.5V219.2M1067.4 212.8V213.5M1068.4 213.5V213.4M1069.7 214.2V213.5M1071.5 214.6V218.8M1073 214.6V214.7M1074.4 214.6V215.4M1075.2 214.6V214.2M1076.7 214.7V214.3M1078 215.4V214.8M1079.3 215.7V215.3M1081.1 216.4V218.1M1082.2 217.1V217.5M1083.7 218.1V218.6M1085.1 220.1V223M1086.4 221.1V228.8M1088.3 220.5V222.9M1089.3 219.9V222.9M1090.7 219.3V218.8M1092.2 219.6V219.2M1093.5 221.2V223.5M1095.3 224.4V224.8M1096.2 226V225.5M1098.2 225.2V226.3M1099 222V223.4M1100.6 220.4V220.5M1101.8 218.8V222.4M1103.4 219.1V218.7M1104.7 219.5V220.9M1106.5 220.1V221.3M1107.3 220.5V221.8M1109.5 220.8V222.5M1110.3 221V221.5M1111.9 221.2V223M1113 221.5V229.2M1114.4 222.2V223.9M1115.8 223.6V225.3M1117.3 224.3V225.1M1118.6 225.1V224.9M1120.7 226.3V227.6M1121.3 225.3V226.1M1123.3 223.3V222.8M1124.6 222.3V221.7M1126 221.3V221.3M1127.6 221.7V221.7M1128.4 222.7V227.8M1130 224.7V224.4M1131.8 225.7V230.5M1132.7 226.2V229.2M1134.5 224.2V223.9M1135.3 223.2V229M1136.9 221.2V221.1M1138.6 220.8V225M1140.1 221.6V221.4M1141.1 223.2V223.8M1142.4 224V225.7M1144.3 229.1V229.3M1145.8 232.3V238.8M1146.8 235.6V235.2M1148.4 233.9V233.7M1149.7 231.7V235.9M1151.3 227.7V228.1M1152.4 226.3V226.5M1153.7 225V225.5M1155.7 222.3V223.5M1156.4 221V225.7M1158.4 222.1V222.8M1159.5 223.1V227M1161.1 224.1V226.7M1162.2 228.5V228.3M1163.6 230.9V233.2M1164.9 235.7V235.6M1166.3 234V235.4M1168 231V232.5M1169.6 225V224.6M1171.1 224.1V224.1M1172.1 223.3V223.1M1173.8 222.9V230.2M1175.2 222.5V221.9M1176.2 223.7V226.1M1178.1 224.4V223.7M1179 225.7V228.4M1180.6 226.4V229.4M1182 226.7V226.1M1183.1 227.4V228.4M1184.7 227.7V227.4M1186.2 228.3V227.8M1187.7 227.3V226.7M1189.2 226.3V228.8M1190 224.3V224.5M1191.8 223.3V226.5M1193.4 222.1V222.2M1194.6 221.8V221.2M1195.9 221.4V221.6M1197.3 220.8V220.4M1198.3 220.6V220.6M1200.4 221.2V220.8M1201.2 221.6V225.4M1203 221.9V223.8M1204.4 222.5V222.9M1205.8 222.7V222.9M1207.3 223V223.4M1208.6 223.2V224.6M1209.6 223.4V224.4M1211.3 224.6V224.7M1212.9 225.5V224.9M1214.2 227.1V226.6M1215.2 228V231M1217.3 228.9V229.2M1218.2 230.9V233.5M1219.6 231.9V232.2M1220.8 233.9V233.2M1222.7 233.2V234.2M1224 231.2V230.8M1225.2 227.2V229.6M1226.9 226.1V226.6M1228.2 225.2V224.5M1229.3 224.7V226M1230.9 226.6V230.8M1232.1 226V228M1233.7 225.6V225.2M1235 225V226.2M1236.3 225.1V225.3M1238.2 226.2V225.8M1239.7 228.6V228.6M1240.8 229.7V229.2M1242.5 231.1V230.4M1243.4 229.6V229.3M1245.2 228.1V228.8M1246 225.1V226.6M1247.7 223.6V223M1248.8 224V223.4M1250.5 224.8V227.4M1252 225.7V226.9M1253.6 227.3V227.2M1254.7 190.4V188.6M1255 227V229.8M1256.4 190.9V187.7M1255.9 224.7V232M1257.4 189.2V189.2M1257.6 223.5V223.7M1259 222.4V225.1M1260.5 221.5V223.1M1262.1 222.6V224.2M1263.1 224.9V227.7M1264.6 226V225.4M1265.6 227.1V227.3M1267 229.4V234.7M1269 228.8V228.9M1270 226.5V230.7M1271.8 225.3V225.5M1273.2 224.1V224.8M1274.6 222.5V222.8M1276 222.2V221.9M1276.9 221.5V221.2M1278.3 221.2V222.9M1280 220.8V220.5M1281.1 221.4V221M1283 221.8V222.4M1283.7 222.4V221.9M1285.5 222.8V224.1M1286.5 226.3V226.2M1287.9 233.3V234.1M1289.4 236.6V238.5M1290.8 239.3V240M1292.4 239.9V244.1M1293.8 233.9V233.9M1295 223.3V222.9M1297.1 227.3V228.4M1298.1 235.3V237.4M1299.4 238.9V238.3M1301.1 240.9V242.4M1302.1 243.6V243.9M1304 240.3V241.9M1305.1 233.4V234.7M1306.6 229.4V230.5M1307.8 225.4V225M1309.3 218.5V221.3M1310.9 217.5V219M1311.8 215.5V215.8M1313.3 176.9V175.8M1313.5 214.5V213.9M1315.1 181.4V180.9M1314.9 213.5V213.5M1316.2 180.4V180.9M1316.2 215.1V215.6M1318 216.6V216.2M1318.7 220.3V221.9M1320.5 223.3V222.7M1321.8 226.3V226.2M1323.6 231.5V235M1324.4 233.1V233.3M1326.3 236.3V235.8M1327.3 237.9V243.6M1328.7 239.8V239.4M1330.2 243.8V243.1M1331.8 245.8V245.3M1332.8 246.3V246.3M1334.6 243.3V243.1M1336.1 240.3V241.7M1337.2 236.9V236.4M1338.3 237.4V236.9M1340.1 238.4V238.5M1341.3 240.9V244.3M1342.6 243.9V245M1344 249.9V250.8M1345.4 252.1V251.7M1347 256.1V257.9M1348.5 258.1V259.2M1350 256V255.5M1351.2 251V251.2M1353 248.5V248.9M1354.1 245.4V246.6M1355.5 243.9V247M1356.6 242.5V249M1358.4 244.5V243.8M1359.6 245.5V246.6M1361.4 245.3V245.6M1362.5 244.3V244.6M1363.6 243.3V244.2M1365.1 241.3V244.9M1367.1 240.6V241.1M1368.1 241.2V241.6M1369.4 241.6V244.6M1371.1 241.9V244.8M1372.5 242.8V245.3M1373.7 244V244.9M1375.4 246.4V249.7M1376.9 247.6V247.1M1377.8 247.6V249.1M1378.9 242.8V242.2M1380.5 240.4V239.8M1381.9 236V236.5M1383.6 234.7V236.7M1384.6 233.4V232.8M1386.6 230.7V231.7M1387.7 229.4V229.1M1389.5 230.2V230.4M1390.7 231.2V231.1M1392.2 232.2V233.6M1393.2 234.2V234.3M1394.4 235.3V236.5M1396.5 238V238.1M1397.2 239.3V239.2M1399.2 240.7V242M1400.3 243V247M1401.5 243.9V243.5M1403 245.5V245.9M1404.6 246.4V252.4M1405.9 247.2V247M1407.3 244.3V248.9M1408.4 242.5V243.7M1409.7 238.9V239.1M1411.1 237.2V236.6M1412.9 235.6V237.4M1414.4 232.4V232.2M1415.9 230.8V230.4M1417.1 240.7V241.8M1418.2 246V245.5M1419.6 255.6V258.3M1421.1 268.7V272.1M1422.4 271.4V271M1423.8 268.6V268.3M1425.3 265.3V265.3M1427 262V262.5M1428.4 251.3V251.8M1429.5 246.7V246.8M1431.5 254.7V254.4M1432.4 259.2V259.2M1433.9 267.2V267.3M1435.3 280.9V282.9M1436.5 285.7V285.4M1437.9 284.4V283.9M1439.2 282.6V285.1M1440.8 276.6V277.7M1442.5 265.1V264.6M1443.9 261.1V260.8M1445 255.1V256M1446.5 257.8V259.4M1448.3 260.5V262.3M1449.1 266.3V266.6M1450.3 269.4V268.9M1452.4 262.7V266.7M1453.8 258.6V261.4M1455.2 254.8V254.7M1456.4 248.2V248.4M1457.5 247.7V247.3M1459.5 253V255.1M1460.4 253.8V254.6M1462.1 252.8V256.8M532.3 360.6V394.4M535.6 396.9V432.2M538.8 409.3V412.1M542.5 401.1V426.6M545.6 396.6V422.1M548.7 396.1V415.8M551.8 399.7V410.4M555.4 402.7V424.3M558.5 405.1V418.6M561.5 403.3V425.6M565.6 401.2V424.9M568.7 401.3V425.2M571.6 401.5V424.1M575.5 402.6V420.7M579 406.5V422.9M581.5 413.5V425.3M585.3 417.2V428.8M588.7 415.7V429.3M592.1 408.2V417.7M594.9 390.5V397.3M598 373.6V386.4M601.6 357.1V370.2M674.6 173V166.5M677.2 161.4V151M681 149.1V138M684 127.9V116.6M687 122.2V112M690.7 119.4V108.3M694 118.1V106.5M697.2 127.1V118.3M700.9 128.3V118.9M703.5 127.9V117.7M707.1 130V122.2M710.4 134.8V124.4M714.3 143.6V136.8M716.7 140.6V139.1M720.7 133.5V131.1M723.7 132.4V125.4M727.5 137.1V133.5M730.2 137.9V133.7M733.3 130.5V124.2M737.1 123.6V117M739.7 121.8V113.9M743.3 129.4V123.6M746.6 140.9V134.7M750.5 149.4V143.3M753 135.8V127.1M756.6 111.8V97.6M759.7 104.6V87.7M763.3 104.5V92M766.9 107.9V88.7M769.9 110.5V89.6M773.7 116.1V97.8M776.6 117.3V100M780 118.7V101.1M782.7 123V120.7M786.1 138V123.5M789.8 151.6V139.5M793 153.9V141.9M795.9 152.9V140.1M799.8 151.5V147.3M802.7 150.1V136.8M806.3 151V139.6M809.7 154.7V145.8M812.4 160.7V150.2M816.1 171.3V163.6M819.8 172.7V165.5M822.4 181.3V176.4M825.6 182.9V180.9M829.8 176.1V172.1M829.8 245.4V256.1M832.6 171.6V161.8M832.6 244V254.3M836 169.2V161.7M836 236.8V245.9M839.2 169.3V163.7M839.2 222.4V224.9M842.3 168.5V161.2M842.3 211.8V213.9M846.1 167V159.7M846.1 204V207.1M848.9 168V161.6M848.9 202.5V205.8M852.9 166V160M852.9 206V208.4M856.1 164.9V158.3M856.1 208.5V210.1M859.3 166.8V160.1M859.3 208.5V212.8M862.6 166.9V161.8M862.6 205.4V210.7M865.6 168.2V165.3M865.6 203.9V208.3M868.7 167.2V162.4M868.7 206.5V210.1M872.6 166.4V160M875.9 165.6V158.2M878.7 166.5V159.3M881.7 163.6V156.5M885.6 162.5V156M888.4 161.8V157.1M891.7 156.1V147.7M895.3 156V147.5M898.1 157.3V149.8M901.6 154.3V150.2M905.2 156.5V153.4M908.7 160.1V152.8M912.2 156.1V146.4M914.8 167.8V160.8M918.7 169.5V166.2M921.4 169.4V163.2M925.4 168.8V162.3M927.9 166.8V159.2M931.9 170.1V163.5M935.3 175.2V168.9M938.6 176.6V171.2M941.5 176.4V171.2M944.9 175.3V169.5M948.3 174.8V169.6M950.9 178.5V174.3M954.2 178.8V176.6M958 177.5V173.6M961.2 179.5V173.1M964.7 179.2V172.8M968.3 179.2V173.5M971.6 179.2V173.5M974.5 179.3V173.6M977.6 178.2V175.4M981.1 176V169.6M984.7 164.8V153.2M987.5 156.4V141.3M991.5 155.6V140M994.7 158.2V153M997.8 154.6V147.1M1000.6 166.7V156.8M1004 168.4V160.1M1007.9 162.8V151.6M1010.6 157.9V142.7M1014 156V139.8M1017.7 158.7V144.6M1020.2 160.7V145.2M1024.3 160.7V147.5M1027.8 169.3V165.9M1030.3 166.7V161M1033.7 156.1V149M1037.3 150.3V141.8M1040.5 151.2V143.4M1043.8 157.4V152.5M1047.3 156.3V147.9M1050 152.3V150.8M1053.7 162.1V153.5M1057.2 171.4V164.6M1060.2 174.7V167.8M1063.9 174V165.6M1066.5 171V162.1M1070.1 166.8V156.1M1073.6 169.1V158.2M1076.7 171.9V161.4M1079.7 180V171.8M1083.8 182.8V178.5M1086.6 184.1V177.1M1090 185.4V178.6M1093 185.8V179.2M1097.1 186.5V180.2M1100.4 187.4V181.1M1102.7 183.5V179.8M1106.9 183.6V181.9M1109.7 183.4V179.2M1113.4 176.9V170.5M1116.2 176.6V169.8M1120 175.9V169.1M1123.1 185.6V182.9M1126.3 186.2V182.3M1130 186.2V182.6M1132.4 184.9V182.6M1136 180.9V179.3M1139.6 175V169.1M1142.9 167.8V162.2M1146.1 165.3V160.7M1149.8 174.7V168.1M1153.1 183.7V179.6M1155.7 184.4V180.9M1158.9 183.7V179.5M1162.4 183.7V179.3M1166.1 183.9V179.3M1169.4 182.5V177.9M1172.2 176.1V169.5M1176.1 174.1V169.5M1179.6 179.3V173.6M1182.6 184.4V179.3M1185.9 187.9V183.7M1189 189.3V185M1191.8 189.2V184.9M1195.6 186.8V182.3M1198.9 185.8V180.5M1202.4 184.1V181.4M1205.9 184.8V179.1M1209.2 185.1V180.4M1211.6 184.3V179.4M1215.3 184.8V180M1218.5 185.7V180.9M1222.1 185.2V180.5M1225 183.3V178.2M1228.2 183.4V178.9M1231.6 185.7V181.8M1235.2 190.8V187.5M1238.1 190.1V186.8M1241.8 187.6V183.7M1245.4 180.2V174.3M1248.2 185V183.5M1251.7 189.5V186.3M1258.4 189.7V187.5M1261.7 186.4V184.6M1264.4 190V186.4M1268.1 190.4V186.6M1271.6 188.2V185.3M1274.5 179.5V177M1278.2 169.6V164M1281.6 168.1V162.8M1284.5 172.1V167M1288 178.8V174M1290.9 175.4V170M1294.6 169.5V162.3M1297.7 175.7V170.6M1301.4 189V185.2M1304.9 170.3V161.9M1307.7 163.2V153.9M1311 172.4V168.7M1317.8 180V176.7M1321.4 180.4V176.4M1324.4 188.5V185.3M1327.6 196.5V194.2M1330.8 194.1V188.6M1334.7 187.6V182.7M1337.2 182.2V177.4M1341.1 183.8V177.7M1343.7 191V185.9M1347 194.2V188.8M1351 196.3V190.9M1354.2 197.6V192.2M1356.9 195.5V189.8M1360.1 192.7V187.5M1363.7 191V185.7M1366.8 183.3V179.9M1370.5 193V187.9M1373.4 196.7V191.6M1377.4 199.5V195.6M1380.6 198.5V193.9M1383.7 195.3V191.3M1386.8 190.6V186.8M1390 187.3V182.6M1393.9 190.4V185.6M1397.3 197.2V193M1399.8 203.3V198.9M1403.9 204.1V199.3M1407.1 198.7V193M1410.2 195.8V191M1413.4 196.3V191.7M1417.2 202.7V198.4M1419.7 206.8V204.4M1423.2 204.5V201.1M1426.6 197.3V192.9M1430.1 193.1V187M1432.9 200.3V194.5M1436.5 197.8V190.2M1439.5 199.8V192.7M1442.6 199.7V193.6M1446.6 199.5V194.3M1449.9 201.6V198.2M1452.9 195.7V190M1456.8 180.9V177M1459.7 178.9V167.9" stroke="#1f77b4" stroke-width="5.5" stroke-linecap="round" fill="none"/>
<polyline points="117.5,228.4 119.9,237.3 122.8,222.5 126.8,202.4 129.7,218.6 132.7,247.2 135.6,230.4 138.6,217.6 141.2,231.4 144.5,244.2 147.5,231.4 149.4,222.5 151.8,230.4 154.4,218.6 157.3,234.4 160.3,223.5 162.8,242.2 165.2,277.7 167.2,241.3 168.6,258 170.1,184.1 172.7,233.4 175.1,201.8 178,240.3 180.6,201.8 182.6,220.6 183.9,216.6 185.9,246.2 188.5,260 190.8,194.9 192.8,181.1 195.2,197.9 197.7,238.3 199.7,212.7 201.1,220.6 203.1,205.8 205,233.4 206.6,224.5 208.6,269.8 210.2,287.6 212.1,251.1 214.5,256 216.5,247.2 218.8,262 220.4,256 222.8,283.6 226.3,272.8 230.3,265.9 234.2,242.2 238.2,216.6 240.1,225.5 242.1,211.7 245.1,230.4 247,246.2 249,239.3 251,249.1 253.9,261 256.3,262 258.9,218.6 260.8,183.1 262.8,182.1 264.8,198.9 266.2,189 268.7,210.7 270.1,207.7 272.1,229.4 274.6,228.4 277.6,196.9 280,162.4 283.1,141.7 285.1,170.3 286.5,155.5 288.4,182.1 290.4,181.1 293.4,208.7 296.3,236.3 298.9,244.2 301.2,238.3 303.2,241.3 305.6,210.7 307.6,242.2 309.1,236.3 311.1,266.9 313.1,244.2 316,295.5 319,288.6 321.4,288.6 324.9,280.7 327.9,268.9 330.8,236.3 333.8,208.7 336.7,189 339.7,188 341.7,194.9 343.6,209.7 346,199.9 348.6,210.7 351.5,192 354.5,163.4 356.5,157.5 358.8,173.2 361.4,205.8 363.9,253.1 366.3,250.1 368.3,230.4 371.2,194.9 374.2,175.2 376.6,186 379.1,218.6 381.1,244.2 383.7,263.9 386,249.1 388,242.2 390,248.2 391.9,243.2 393.9,254.1 395.5,248.2 397.9,281.7 400,246.2 400.8,246.2 403.8,206.8 406.2,187 408.1,198.9 410.7,175.2 413.3,194.9 415.6,224.5 417.6,236.3 420.6,222.5 422.5,216.6 425.5,188 427.1,185.1 429,196.9 430.4,194.9 433.4,212.7 436.3,223.5 439.3,206.8 441.7,193.9 444.2,206.8 447.2,212.7 449.1,230.4 451.5,239.3 453.5,228.4 456,220.6 459,202.8 461,194.9 462.9,197.9 463.9,186 465.9,198.9 467.9,186 469.9,196.9 471.2,197.9 473.8,210.7 475.8,211.7 478.3,210.7 480.7,206.8 483.7,197.9 486.2,212.7 487.6,205.8 489.6,216.6 492.1,229.4 493.5,218.6 496.5,236.3 498.8,210.7 501.4,192.9 503,181.1 505.3,198.9 507.9,206.8 510.3,195.9 512.2,206.8 514.6,193.9 517.2,212.7 519.7,231.4 522.1,214.6 525.1,190 527,214.6 528.6,210.7 530.4,238.3 532,277.7 532.8,319.6 534.2,343.2 536.2,329.4 539.1,365.9 541.5,327.5 543.1,348.2 545.1,320.6 547,338.3 549,343.2 551.4,351.1 552.9,360 554.9,352.1 556.9,353.1 558.5,359 560.4,348.2 561.8,349.1 563.8,345.2 565.8,342.2 567.7,355.1 569.7,332.4 571.7,349.1 574.2,361 576.6,364.9 578.2,363.9 579.6,375.8 580.6,363.9 582.5,384.6 584.5,376.8 586.9,389.6 590.4,386.6 592.4,384.6 594.4,372.8 596.3,357 598.3,337.3 599.9,342.2 601.8,323.5 604.2,305.8 605.8,300.8 607.8,304.8 609.7,302.8 612.8,283.6 614.8,276.7 616.3,283.6 618.7,258 622.3,244.2 624.6,254.1 626.6,255.1 629,260 632.5,237.3 635.5,242.2 638.4,240.3 640.8,262 643.4,259 645.3,263.9 646.3,260 648.7,276.7 650.6,258 654.2,254.1 657.2,242.2 661.1,218.6 665,194.9 668,212.7 670,211.7 671.9,203.8 674.9,220.6 676.9,222.5 680,177.2 681.3,162.4 683.7,160.4 685.6,154.5 689.2,147.6 691.5,159.4 693.5,155.5 695.5,158.4 697.9,148.6 700.4,157.5 703,168.3 705.3,155.5 707.3,170.3 709.3,158.4 711.7,173.2 714.2,179.1 717.2,162.4 719.7,145.6 722.1,152.5 724.1,151.5 726.6,159.4 728.6,163.4 731,156.5 732.6,158.4 735.9,140.7 737.9,140.7 740.2,128.9 741.8,144.6 743.8,163.4 745.2,157.5 747.7,176.2 750.3,173.2 752.3,161.4 754.2,177.2 756.6,162.4 759,124.9 760.9,148.6 762.1,134.8 764.5,184.1 766.5,162.4 768,172.2 769.4,162.4 771.4,186 774,177.2 775.3,178.2 778.3,161.4 780.3,170.3 781.6,167.3 783.8,180.1 785.2,181.1 787.8,190 789.1,188 791.1,192 794.1,190 796,193.9 799,195.9 801.6,187 803.9,188 805.9,192 807.9,181.1 810.2,197.9 812.8,192.9 815.8,194.9 818.7,196.9 821.7,194.9 824.6,201.8 826.6,196.9 829.6,201.8 832.5,210.7 834.5,198.9 836.5,199.8 838.4,195.9 841.4,196.9 845.3,189 848.3,182.1 850.9,192 853.2,186 855.6,190 858.1,175.2 861.5,202.8 865,178.2 868,171.3 871,192 872.9,187 874.9,188 877.9,199.8 880.8,186 883.8,180.1 885.7,175.2 888.7,180.1 891.1,186 893.6,180.1 896.6,190 899.6,182.1 902.5,174.2 905.5,181.1 908,184.1 910.4,182.1 913.4,192.9 916.3,182.1 918.7,195.9 920.3,194.9 922.2,201.8 924.6,188 926.6,173.2 928.5,192 930.1,190 933.1,199.8 935,200.8 938,194.9 940,193.9 942.3,184.1 944.9,196.9 946.9,194.9 950,197.9 952.2,189.3 954.8,181.4 957.7,201.1 959.7,198.2 961.7,184.4 964.1,196.2 965.6,188.3 968.6,190.3 971.5,195.2 974.5,186.3 976.5,193.2 977.9,188.3 980,198.2 982.4,183.4 984.4,183.4 986.3,189.3 989.3,190.3 991.3,193.2 994.2,184.4 997.2,189.3 999.1,191.3 1001.1,181.4 1003.1,186.3 1005.1,180.4 1007,188.3 1010,186.3 1012.6,180.4 1014.5,199.1 1016.9,188.3 1018.9,193.2 1021.2,187.3 1023.8,179.4 1026.2,200.1 1028.7,182.4 1030.7,184.4 1032.7,172.5 1035.6,158.7 1038.2,155.8 1040.2,166.6 1042.1,184.4 1044.1,168.6 1046.5,172.5 1049.4,159.7 1050.8,168.6 1052.8,187.3 1055.3,174.5 1057.3,190.3 1059.7,200.1 1062.2,188.3 1064.6,181.4 1066.6,197.2 1069.1,182.4 1071.1,192.2 1073.1,198.2 1076,183.4 1079,198.2 1081.6,197.2 1084.3,208 1086.9,193.2 1088.9,196.2 1090.8,193.2 1092.8,200.1 1095.4,209 1097.7,199.1 1100.1,194.2 1102.7,199.1 1105.2,202.1 1107.6,199.1 1110,200.1 1112.5,206 1115.5,195.2 1118.4,208 1121,209 1123.4,200.1 1125.3,198.2 1128.3,206 1130.3,200.1 1132.2,205.1 1134.2,196.2 1136.2,204.1 1138.1,199.1 1140.1,200.1 1142.5,195.2 1145,199.1 1146.6,196.2 1149,209 1151,199.1 1153.9,201.1 1156.9,202.1 1159.8,199.1 1162.8,206 1165.4,201.1 1167.7,199.1 1170.7,210 1174.2,196.2 1176.6,204.1 1179.6,206 1182.9,205.1 1185.5,204.1 1188,211 1190.4,203.1 1192.4,206 1195.3,213.9 1198.3,198.2 1200.3,204.1 1202.2,208 1205.2,217.9 1207.7,206 1210.1,201.1 1212.1,204.1 1214.6,198.2 1217,205.1 1219,206 1221.5,213.9 1223.9,202.1 1226.3,198.2 1230,205.1 1233.2,201.4 1236.2,206.3 1239.2,204.4 1243.1,209.3 1245.7,192.5 1249,210.3 1251,202.4 1253,208.3 1255.5,202.4 1258.3,203.4 1260.9,204.4 1262.8,200.4 1265.4,206.3 1267.8,211.3 1270.7,203.4 1273.7,212.2 1276.6,197.5 1278,204.4 1281,165.9 1283.1,190.6 1285.5,184.6 1287.5,208.3 1289.4,212.2 1291.8,222.1 1294.4,171.8 1296.3,188.6 1298.3,186.6 1300.3,218.2 1302.3,238.9 1304.8,212.2 1307.2,188.6 1309.5,182.7 1312.1,186.6 1315.5,199.4 1318,194.5 1321,187.6 1323.4,204.4 1325.9,220.1 1328.9,218.2 1331.8,223.1 1334.8,208.3 1337.7,209.3 1340.7,203.4 1342.3,200.4 1344.6,206.3 1346.6,221.1 1349.6,224.1 1352.5,222.1 1355.5,215.2 1357.5,216.2 1359.4,225.1 1362.4,224.1 1364.4,204.4 1366.3,192.5 1368.3,208.3 1371.3,215.2 1374.6,231 1377.2,220.1 1380.1,222.1 1382.1,222.1 1385.1,202.4 1387,208.3 1389,200.4 1392,195.5 1394.9,224.1 1397.9,220.1 1400.8,219.1 1402.8,220.1 1405.8,235.9 1407.7,221.1 1409.7,224.1 1412.1,202.4 1414.6,201.4 1416.6,212.2 1418.6,232 1421.1,241.8 1423.1,249.7 1425.1,202.4 1427.1,220.1 1429.8,195.5 1432.4,210.3 1434.4,239.8 1436.3,263.5 1438.3,232 1440.3,218.2 1441.6,218.2 1444.2,209.3 1447.2,230 1449.1,240.8 1451.5,218.2 1453.5,208.3 1455.1,226 1457.4,192.5 1459.4,232 1461,241.8" fill="none" stroke="#ff7f0e" stroke-width="2.3" stroke-linejoin="round"/>
</g>
<rect x="116.5" y="38.5" width="1346.0" height="480.0" fill="none" stroke="#000" stroke-width="1"/>
<path d="M116.5 518.5v5.2M284.5 518.5v5.2M452.5 518.5v5.2M621.5 518.5v5.2M789.5 518.5v5.2M957.5 518.5v5.2M1125.5 518.5v5.2M1294.5 518.5v5.2M116.5 63.5h-5.2M116.5 132.5h-5.2M116.5 201.5h-5.2M116.5 270.5h-5.2M116.5 339.5h-5.2M116.5 408.5h-5.2M116.5 477.5h-5.2" stroke="#000" stroke-width="1" fill="none"/>
<text transform="translate(105.8,71) scale(1,0.955)" font-size="22.22" text-anchor="end">1.0</text>
<text transform="translate(105.8,140) scale(1,0.955)" font-size="22.22" text-anchor="end">0.5</text>
<text transform="translate(105.8,209) scale(1,0.955)" font-size="22.22" text-anchor="end">0.0</text>
<text transform="translate(105.8,278) scale(1,0.955)" font-size="22.22" text-anchor="end">−0.5</text>
<text transform="translate(105.8,347) scale(1,0.955)" font-size="22.22" text-anchor="end">−1.0</text>
<text transform="translate(105.8,416) scale(1,0.955)" font-size="22.22" text-anchor="end">−1.5</text>
<text transform="translate(105.8,485) scale(1,0.955)" font-size="22.22" text-anchor="end">−2.0</text>
<g transform="translate(0,0)">
<rect x="1047.5" y="48.6" width="406.2" height="79.5" rx="3.7" fill="#fff" fill-opacity="0.8" stroke="#ccc" stroke-opacity="0.8" stroke-width="1.1"/>
<circle cx="1073.5" cy="63.5" r="2.75" fill="#1f77b4"/>
<path d="M1053 101.9H1092.1" stroke="#ff7f0e" stroke-width="2.1"/>
<text font-size="18.52" transform="translate(1106.1,68.6) scale(1,0.94)">Raw Data</text>
<text font-size="18.52" transform="translate(1106.1,96.3) scale(1,0.94)">Butterworth Filtered Data</text>
<text font-size="18.52" transform="translate(1106.1,116.6) scale(1,0.94)">(N=6, Tc=3.3333 min, Type: low)</text>
</g>
<rect x="167.0" y="575.5" width="505.0" height="479.5" fill="#e8e8e8"/>
<path d="M167.5 575.5V1054.5M671.5 575.5V1054.5" stroke="#e0e0e0" stroke-width="1" fill="none"/>
<path d="M284.5 1054.5V575.5M452.5 1054.5V575.5M621.5 1054.5V575.5M789.5 1054.5V575.5M957.5 1054.5V575.5M1125.5 1054.5V575.5M1294.5 1054.5V575.5M116.5 599.5H1462.5M116.5 705.5H1462.5M116.5 810.5H1462.5M116.5 916.5H1462.5M116.5 1022.5H1462.5" stroke="#a6a6a6" stroke-width="1" stroke-dasharray="1.1 1.85" fill="none"/>
<g clip-path="url(#cb)">
<path d="M116.5 937.5 117.5 937.4 118.5 924.2 119.5 911.5 120.5 911.8 121.5 914.1 122.5 917.4 123.5 919.7 124.5 937.2 125.5 961.6 126.5 975 127.5 984.2 128.5 993.5 129.5 1002.8 130.5 999.8 131.5 993.4 132.5 987.1 133.5 980.5 134.5 973.8 135.5 967.1 136.5 967.6 137.5 969.2 138.5 970.8 139.5 972.3 140.5 971.9 141.5 971.3 142.5 971 143.5 967.3 144.5 963.5 145.5 965.6 146.5 976.4 147.5 986 148.5 975.1 149.5 964.1 150.5 952.1 151.5 927.1 152.5 903.9 153.5 902.8 154.5 901.9 155.5 901.6 156.5 901.4 157.5 906.4 158.5 934.9 159.5 957.9 160.5 973.5 161.5 974.3 162.5 975.2 163.5 977.1 164.5 982 165.5 982.1 166.5 970.8 167.5 963 168.5 962.8 169.5 962.6 170.5 967.1 171.5 979.8 172.5 991.1 173.5 1000.1 174.5 1005.7 175.5 1005.7 176.5 1005.3 177.5 1005 178.5 1004.7 179.5 1004.5 180.5 1004.5 181.5 1004.5 182.5 1004.5 183.5 1004.5 184.5 1004.5 185.5 1004.5 186.5 1004.5 187.5 999.9 188.5 992.7 189.5 990.1 190.5 990.1 191.5 990.1 192.5 994.9 193.5 1002.1 194.5 1001.5 195.5 997.6 196.5 993.7 197.5 992.7 198.5 992.7 199.5 992.8 200.5 997.5 201.5 1003.4 202.5 1003.3 203.5 1001.9 204.5 1000.4 205.5 994.5 206.5 987.8 207.5 986.5 208.5 985.9 209.5 985.3 210.5 984.7 211.5 980.5 212.5 976.2 213.5 971.8 214.5 971.6 215.5 971.5 216.5 971.5 217.5 976.1 218.5 980.7 219.5 983.8 220.5 974.4 221.5 964.9 222.5 953.6 223.5 950.2 224.5 949.8 225.5 949.5 226.5 948.9 227.5 947.1 228.5 944.6 229.5 938.8 230.5 933.3 231.5 930.1 232.5 930.9 233.5 931.8 234.5 932.4 235.5 937.2 236.5 952.3 237.5 962.4 238.5 962.2 239.5 962 240.5 961.7 241.5 961.2 242.5 960.8 243.5 960.4 244.5 963.7 245.5 971.7 246.5 969.4 247.5 954.9 248.5 947.1 249.5 946.4 250.5 945.7 251.5 946 252.5 946.8 253.5 947.3 254.5 943.8 255.5 937.1 256.5 930.5 257.5 921 258.5 912.6 259.5 912.6 260.5 912.6 261.5 912.6 262.5 912.6 263.5 913.6 264.5 923.6 265.5 937.1 266.5 938.4 267.5 935.5 268.5 932.6 269.5 931.3 270.5 931.2 271.5 931.4 272.5 914 273.5 898.1 274.5 898 275.5 897.8 276.5 897.6 277.5 897.4 278.5 910.8 279.5 925.5 280.5 926 281.5 925.7 282.5 927.3 283.5 928.9 284.5 930.7 285.5 944.2 286.5 957.7 287.5 969.4 288.5 980.2 289.5 980.1 290.5 980.1 291.5 980 292.5 979.9 293.5 979.9 294.5 979.8 295.5 978.5 296.5 970.9 297.5 964.7 298.5 964.2 299.5 963.8 300.5 965 301.5 971.7 302.5 975.7 303.5 972.2 304.5 968.7 305.5 966.5 306.5 966.9 307.5 967.4 308.5 968.2 309.5 969.9 310.5 971.5 311.5 968.6 312.5 958.9 313.5 953.2 314.5 953.2 315.5 953.2 316.5 951.2 317.5 947 318.5 942.7 319.5 936.8 320.5 929.3 321.5 920.8 322.5 915.8 323.5 914.3 324.5 913.8 325.5 914.1 326.5 914.3 327.5 914.5 328.5 914.7 329.5 914.7 330.5 914.5 331.5 914.3 332.5 918.4 333.5 924.3 334.5 930.2 335.5 936 336.5 939.8 337.5 943.1 338.5 946.3 339.5 945.5 340.5 943.6 341.5 941.6 342.5 934 343.5 925.4 344.5 916.7 345.5 918 346.5 920.6 347.5 919.1 348.5 917.3 349.5 915.5 350.5 909.7 351.5 903.6 352.5 897.5 353.5 897.8 354.5 898.1 355.5 898.9 356.5 900.1 357.5 908.2 358.5 916.3 359.5 918.6 360.5 918.6 361.5 918.6 362.5 918.6 363.5 918.6 364.5 918.8 365.5 920.1 366.5 921.4 367.5 922.7 368.5 924.7 369.5 929 370.5 931.6 371.5 928.6 372.5 925.7 373.5 923.6 374.5 923.7 375.5 924.4 376.5 926.3 377.5 927.7 378.5 929.2 379.5 929.1 380.5 926.4 381.5 923.7 382.5 914.5 383.5 896.3 384.5 883.3 385.5 876.5 386.5 869.8 387.5 866.3 388.5 865.6 389.5 864.2 390.5 863.6 391.5 863.7 392.5 863.8 393.5 863.9 394.5 864 395.5 864 396.5 845.3 397.5 826.1 398.5 826.2 399.5 826.3 400.5 841.9 401.5 864.6 402.5 865.1 403.5 865.7 404.5 866.4 405.5 867 406.5 867.7 407.5 868.5 408.5 876.5 409.5 886.9 410.5 892.4 411.5 896.6 412.5 900.3 413.5 902.7 414.5 904.8 415.5 906.8 416.5 908.9 417.5 911 418.5 907.6 419.5 903.6 420.5 903.4 421.5 903.5 422.5 899.9 423.5 891.9 424.5 890.4 425.5 889.1 426.5 887.8 427.5 886.5 428.5 886.5 429.5 886.5 430.5 886.5 431.5 886.7 432.5 897.3 433.5 909.9 434.5 912.1 435.5 913.1 436.5 914 437.5 914.9 438.5 915.4 439.5 913.9 440.5 912.4 441.5 910.9 442.5 916.8 443.5 925.4 444.5 938.3 445.5 947.8 446.5 948 447.5 948.3 448.5 948.8 449.5 949.3 450.5 949.8 451.5 950.3 452.5 948.9 453.5 947.5 454.5 946 455.5 930.5 456.5 897.1 457.5 892.1 458.5 891.6 459.5 891.2 460.5 890.8 461.5 888.9 462.5 885.8 463.5 882.6 464.5 879.5 465.5 874.8 466.5 868.8 467.5 863.9 468.5 863.9 469.5 863.9 470.5 863.9 471.5 865 472.5 866.6 473.5 868.3 474.5 878.4 475.5 891.1 476.5 904.6 477.5 918.5 478.5 932.4 479.5 946.2 480.5 949.7 481.5 950.4 482.5 951.2 483.5 921.4 484.5 885.6 485.5 881.1 486.5 881.7 487.5 882.2 488.5 882.3 489.5 1001.5 490.5 1005.5 491.5 1005.5 492.5 1005.5 493.5 1005.6 494.5 1005.7 495.5 1005.9 496.5 1006 497.5 1006.1 498.5 1006.2 499.5 1006.4 500.5 1006.5 501.5 976.3 502.5 945 503.5 913.9 504.5 899.7 505.5 899.7 506.5 899.7 507.5 899.7 508.5 899.6 509.5 970.9 510.5 1005.2 511.5 1005.2 512.5 1005.2 513.5 1005.2 514.5 1005.2 515.5 1005.2 516.5 1005.1 517.5 1004.7 518.5 1004.3 519.5 1005.5 520.5 1005.6 521.5 1005.7 522.5 1005.8 523.5 1005.9 524.5 1006.1 525.5 1006.2 526.5 1006.3 527.5 1006.4 528.5 1006.5 529.5 1006.6 530.5 1005.8 531.5 1007.1 532.5 1008.3 533.5 1009.6 534.5 1010.1 535.5 1010.1 536.5 1010.1 537.5 1010.1 538.5 1010.1 539.5 1010.1 540.5 1010.1 541.5 1010.1 542.5 1010.1 543.5 1010.1 544.5 1010.3 545.5 1010.5 546.5 1010.7 547.5 1010.9 548.5 1011.1 549.5 1011.3 550.5 1011.5 551.5 1011.7 552.5 1011.9 553.5 1012.1 554.5 1012.1 555.5 1012.2 556.5 1012.2 557.5 1012.2 558.5 1012.2 559.5 1012.3 560.5 1012.3 561.5 1012.3 562.5 1012.4 563.5 1012.4 564.5 1012.4 565.5 1012.4 566.5 1012.5 567.5 1012.5 568.5 1012.4 569.5 1012.3 570.5 1012.2 571.5 1012.1 572.5 1012 573.5 1011.9 574.5 1011.8 575.5 1011.7 576.5 1011.8 577.5 1012 578.5 1012.1 579.5 1012.2 580.5 1012.3 581.5 1012.4 582.5 1012.5 583.5 1012.7 584.5 1012.8 585.5 1012.9 586.5 1013 587.5 1013 588.5 1012.9 589.5 1012.7 590.5 1012.5 591.5 1012.3 592.5 1012.2 593.5 1012 594.5 1011.8 595.5 1011.4 596.5 1010.8 597.5 1010.2 598.5 1009.6 599.5 1009 600.5 1008.4 601.5 1008.1 602.5 1007.9 603.5 1007.7 604.5 1007.6 605.5 1007.4 606.5 1007.2 607.5 1006.8 608.5 1006.2 609.5 1005.5 610.5 1004.9 611.5 1006 612.5 1005.9 613.5 1005.8 614.5 1005.7 615.5 1005.6 616.5 1005.5 617.5 1005.6 618.5 1005.8 619.5 1006 620.5 1006.2 621.5 1006.4 622.5 1006.6 623.5 1006.8 624.5 1005.8 625.5 1006.4 626.5 1007.1 627.5 1007.9 628.5 1008.6 629.5 1009.4 630.5 1010.1 631.5 1010.9 632.5 1011.6 633.5 1012.4 634.5 1013.1 635.5 1012.9 636.5 1012.6 637.5 1012.4 638.5 1012.2 639.5 1011.9 640.5 1011.7 641.5 1011.6 642.5 1011.5 643.5 1011.4 644.5 1011.3 645.5 1011.2 646.5 1011.2 647.5 1011.3 648.5 1011.5 649.5 1011.7 650.5 1011.9 651.5 1012 652.5 1012.2 653.5 1012.4 654.5 1012.5 655.5 1012.5 656.5 1012.4 657.5 1012.4 658.5 1012.4 659.5 1012.3 660.5 1012.3 661.5 1012.3 662.5 1012.2 663.5 1012.2 664.5 1012.2 665.5 1012.1 666.5 1012.1 667.5 1012.1 668.5 1012.1 669.5 1012.1 670.5 1012.1 671.5 1012.1 672.5 1012.1 673.5 1012.1 674.5 1011.8 675.5 1011.3 676.5 1010.9 677.5 1010.4 678.5 1009.9 679.5 1009.4 680.5 1009.2 681.5 1009.4 682.5 1009.6 683.5 1009.7 684.5 1009.9 685.5 1010.1 686.5 1010.2 687.5 1010.4 688.5 1010.6 689.5 1010.9 690.5 1011.1 691.5 1011.4 692.5 1011.6 693.5 1011.9 694.5 1012.1 695.5 1012.4 696.5 1012.2 697.5 1012.1 698.5 1011.9 699.5 1011.7 700.5 1011.6 701.5 1011.3 702.5 1010 703.5 1008.8 704.5 1007.5 705.5 1007.9 706.5 1007.7 707.5 1007.5 708.5 1007.3 709.5 1007.1 710.5 1006.9 711.5 1006.7 712.5 1002.6 713.5 997.8 714.5 993.1 715.5 988.8 716.5 984.6 717.5 981.2 718.5 979.5 719.5 977.8 720.5 977.9 721.5 981.1 722.5 984.4 723.5 985.4 724.5 983.1 725.5 980.7 726.5 981.4 727.5 985.6 728.5 989.7 729.5 992.2 730.5 993.1 731.5 993.9 732.5 994.8 733.5 995.7 734.5 997.5 735.5 1000.2 736.5 1002.8 737.5 1005.4 738.5 1005.8 739.5 1005.7 740.5 1005.6 741.5 1005.5 742.5 1005.4 743.5 1005.3 744.5 1004.5 745.5 1002 746.5 999.4 747.5 997.8 748.5 996.5 749.5 996.5 750.5 998.4 751.5 1000.4 752.5 1002.4 753.5 1004.8 754.5 1006 755.5 1005 756.5 1009 757.5 1008.9 758.5 1008.3 759.5 1007.6 760.5 1007 761.5 1006.4 762.5 1005.8 763.5 1007.2 764.5 1007.3 765.5 1007.3 766.5 1007.4 767.5 1006.5 768.5 1007.2 769.5 1007.8 770.5 1008.4 771.5 1008.3 772.5 1008.1 773.5 1007.9 774.5 1007.8 775.5 1007.6 776.5 1007.5 777.5 1007.7 778.5 1007.9 779.5 1008.1 780.5 1008.3 781.5 1008 782.5 1009.1 783.5 1009.1 784.5 1009 785.5 1009 786.5 1008.9 787.5 1008.9 788.5 1008.8 789.5 1008.8 790.5 1008.7 791.5 1007.8 792.5 1007.5 793.5 1008.6 794.5 1008.5 795.5 1008.5 796.5 1008.4 797.5 1008.4 798.5 1008.4 799.5 1008.4 800.5 1008.4 801.5 1008.4 802.5 1008.5 803.5 1008.5 804.5 1008.5 805.5 1008.5 806.5 1008.6 807.5 1008.6 808.5 1008.6 809.5 1008.6 810.5 1007.4 811.5 1008.2 812.5 1008.3 813.5 1008.2 814.5 1008 815.5 1007.8 816.5 1007.7 817.5 1007.5 818.5 1007.8 819.5 1007.6 820.5 1007.4 821.5 1007.2 822.5 1005.9 823.5 1004.8 824.5 1003.9 825.5 1003 826.5 1002.1 827.5 1004.7 828.5 1007.3 829.5 1007.4 830.5 1007.5 831.5 1007.6 832.5 1007.7 833.5 1007.8 834.5 1008 835.5 1008.3 836.5 1008.5 837.5 1008.8 838.5 1008.8 839.5 1010.4 840.5 1010.4 841.5 1010.4 842.5 1010.4 843.5 1010.4 844.5 1010.4 845.5 1010.4 846.5 1010.4 847.5 1010.5 848.5 1010.9 849.5 1011.2 850.5 1011.6 851.5 1012 852.5 1012.4 853.5 1012.7 854.5 1013.1 855.5 1013.3 856.5 1013.2 857.5 1013.1 858.5 1012.9 859.5 1012.8 860.5 1012.6 861.5 1012.5 862.5 1009.3 863.5 1009 864.5 1004.2 865.5 1001.2 866.5 1000.4 867.5 1000.1 868.5 1005.1 869.5 1008.7 870.5 1007.9 871.5 1008.7 872.5 1009.5 873.5 1010.3 874.5 1011.1 875.5 1010.8 876.5 1009.7 877.5 1008.6 878.5 1007.6 879.5 1008.7 880.5 1008.7 881.5 1008.7 882.5 1008.3 883.5 1009.7 884.5 1011.1 885.5 1008.8 886.5 1008.6 887.5 1008.6 888.5 1006.7 889.5 1004.1 890.5 1001.3 891.5 998.5 892.5 995.7 893.5 991.7 894.5 987.6 895.5 983.4 896.5 987.4 897.5 992.3 898.5 997.3 899.5 999.5 900.5 1001.6 901.5 1003.6 902.5 1002.4 903.5 1001.2 904.5 999.8 905.5 993.6 906.5 990.1 907.5 990.1 908.5 990.1 909.5 994.3 910.5 1000.1 911.5 1002 912.5 1003.8 913.5 1005.7 914.5 1007 915.5 1005.1 916.5 1003.3 917.5 1001.5 918.5 1000.4 919.5 1002.3 920.5 1004.2 921.5 1006.1 922.5 1005.7 923.5 999.5 924.5 993.3 925.5 988.2 926.5 985.4 927.5 982.6 928.5 990.8 929.5 999.7 930.5 1005.4 931.5 1006.4 932.5 1007.3 933.5 1008.3 934.5 1008.7 935.5 1008.7 936.5 1008.7 937.5 1008.7 938.5 1008.7 939.5 1008.7 940.5 1008.7 941.5 1008.4 942.5 1007.3 943.5 1006.6 944.5 1008 945.5 1008.7 946.5 1008.7 947.5 1008.7 948.5 1007.4 949.5 1005.1 950.5 1003.2 951.5 1002.4 952.5 1002.1 953.5 1001.7 954.5 1001.4 955.5 1001 956.5 1000.5 957.5 1000 958.5 996.2 959.5 991.2 960.5 992 961.5 994.6 962.5 996.6 963.5 998.4 964.5 1000.3 965.5 1002.2 966.5 1004.1 967.5 1006 968.5 1007.9 969.5 1008.4 970.5 1007.1 971.5 1004 972.5 1000.9 973.5 997.8 974.5 996.6 975.5 995.4 976.5 996.7 977.5 997.9 978.5 998.7 979.5 990.7 980.5 983 981.5 979.6 982.5 976.5 983.5 976.7 984.5 976.9 985.5 977.9 986.5 983.5 987.5 989.8 988.5 999.7 989.5 1007.6 990.5 1007.9 991.5 1008.2 992.5 1008.5 993.5 1007.5 994.5 1003 995.5 998.4 996.5 993.4 997.5 987.5 998.5 983.8 999.5 984.5 1000.5 985.3 1001.5 991.7 1002.5 999.8 1003.5 1001.1 1004.5 1000.7 1005.5 1000.4 1006.5 1001.7 1007.5 1005 1008.5 1008.3 1009.5 1008.8 1010.5 1008.8 1011.5 1008.8 1012.5 1008.6 1013.5 1008.2 1014.5 1007.8 1015.5 1007.9 1016.5 1008.3 1017.5 1008.8 1018.5 1009.1 1019.5 1009.1 1020.5 1008.9 1021.5 1008.8 1022.5 1008.7 1023.5 1008.6 1024.5 1008.4 1025.5 1008.3 1026.5 1006.2 1027.5 1002.8 1028.5 999.4 1029.5 994.5 1030.5 989.1 1031.5 983.6 1032.5 976.8 1033.5 969.6 1034.5 963.2 1035.5 959.5 1036.5 957.8 1037.5 960.9 1038.5 964.1 1039.5 972.9 1040.5 982.3 1041.5 987.1 1042.5 991.7 1043.5 996.3 1044.5 995.7 1045.5 995.1 1046.5 994.6 1047.5 993.9 1048.5 991.8 1049.5 990 1050.5 993.2 1051.5 996.3 1052.5 999.1 1053.5 999.4 1054.5 999.8 1055.5 1000.1 1056.5 1000.1 1057.5 998.9 1058.5 998.6 1059.5 1002 1060.5 1005.3 1061.5 1007.8 1062.5 1007.6 1063.5 1007.5 1064.5 1007.4 1065.5 1008 1066.5 1009.6 1067.5 1009.7 1068.5 1011 1069.5 1013.3 1070.5 1012.9 1071.5 1012.6 1072.5 1012.3 1073.5 1011.9 1074.5 1011.6 1075.5 1008.7 1076.5 1009.5 1077.5 1006.1 1078.5 1003.8 1079.5 1002.9 1080.5 1002.1 1081.5 1001.5 1082.5 1001.3 1083.5 1001 1084.5 1000.7 1085.5 1000.4 1086.5 1004 1087.5 1007.7 1088.5 1009.1 1089.5 1009.1 1090.5 1009.1 1091.5 1009.1 1092.5 1009 1093.5 1009 1094.5 1004.1 1095.5 999.2 1096.5 996.3 1097.5 994.1 1098.5 996 1099.5 999.1 1100.5 1002.2 1101.5 1004.5 1102.5 1006.7 1103.5 1008.8 1104.5 1008.8 1105.5 1008.8 1106.5 1008.8 1107.5 1008.7 1108.5 1008.8 1109.5 1008.8 1110.5 1008.8 1111.5 1008.8 1112.5 1008.5 1113.5 1007.6 1114.5 1008.9 1115.5 1008.9 1116.5 1008.9 1117.5 1008.9 1118.5 1001.1 1119.5 990.3 1120.5 986 1121.5 984.8 1122.5 990.3 1123.5 998.4 1124.5 1005.4 1125.5 1006.3 1126.5 1007.3 1127.5 1008.2 1128.5 1008.8 1129.5 1007.9 1130.5 1007 1131.5 1006.1 1132.5 1005.2 1133.5 1005.1 1134.5 1006.6 1135.5 1008.1 1136.5 1009 1137.5 1008.9 1138.5 1008.9 1139.5 1008.9 1140.5 1008.9 1141.5 1008.9 1142.5 1008.8 1143.5 1008.5 1144.5 1008.2 1145.5 1007.8 1146.5 1007.2 1147.5 1006.4 1148.5 1005.6 1149.5 1003.8 1150.5 1001.1 1151.5 998.5 1152.5 999.2 1153.5 1002.8 1154.5 1006.3 1155.5 1008.6 1156.5 1009.2 1157.5 1009.3 1158.5 1009.3 1159.5 1008.8 1160.5 1009.3 1161.5 1009.8 1162.5 1010.3 1163.5 1010.8 1164.5 1011.3 1165.5 1010.7 1166.5 1009.7 1167.5 1008.7 1168.5 1009.6 1169.5 1009.6 1170.5 1009.5 1171.5 1009.5 1172.5 1009.4 1173.5 1009.4 1174.5 1009.2 1175.5 1011.2 1176.5 1010.7 1177.5 1009.9 1178.5 1009.1 1179.5 1008.3 1180.5 1009 1181.5 1009 1182.5 1008.9 1183.5 1008.9 1184.5 1008.8 1185.5 1005.6 1186.5 1000.2 1187.5 998.6 1188.5 998.3 1189.5 999.3 1190.5 1000.9 1191.5 1006.4 1192.5 1008.9 1193.5 1008.9 1194.5 1008.9 1195.5 1008.9 1196.5 1007.6 1197.5 1008.1 1198.5 1008.6 1199.5 1009.1 1200.5 1007.8 1201.5 1008.8 1202.5 1004.7 1203.5 1000.7 1204.5 997.3 1205.5 995.2 1206.5 993.2 1207.5 997.1 1208.5 1001.4 1209.5 1005.8 1210.5 1009.1 1211.5 1008.4 1212.5 1008.2 1213.5 1008 1214.5 1007.8 1215.5 1009.1 1216.5 1009.1 1217.5 1009.1 1218.5 1009.1 1219.5 1009.1 1220.5 1009.1 1221.5 1009.1 1222.5 1009.1 1223.5 1009.1 1224.5 1007.7 1225.5 1008.2 1226.5 1008.7 1227.5 1009.2 1228.5 1009.7 1229.5 1010.2 1230.5 1010.4 1231.5 1010.4 1232.5 1010.3 1233.5 1010.3 1234.5 1010.3 1235.5 1010.2 1236.5 1010.2 1237.5 1010.2 1238.5 1009.3 1239.5 1009 1240.5 1009 1241.5 1009 1242.5 1007.6 1243.5 1006.3 1244.5 1005.1 1245.5 1005.4 1246.5 1007.8 1247.5 1008.6 1248.5 1008.5 1249.5 1008.5 1250.5 1008.5 1251.5 1008.5 1252.5 1008.3 1253.5 1006.5 1254.5 1003.9 1255.5 1001.3 1256.5 1004.5 1257.5 1007.8 1258.5 1008.8 1259.5 1008.9 1260.5 1008.9 1261.5 1008.9 1262.5 1009 1263.5 1007.9 1264.5 1008 1265.5 1007.7 1266.5 1007.5 1267.5 1008.9 1268.5 1008.8 1269.5 1008.8 1270.5 1008.7 1271.5 1008.7 1272.5 1008.6 1273.5 1008.6 1274.5 1008.5 1275.5 1008.5 1276.5 1008.2 1277.5 1008 1278.5 990.2 1279.5 979.5 1280.5 974.3 1281.5 977.4 1282.5 980.5 1283.5 983 1284.5 985.5 1285.5 988 1286.5 990.4 1287.5 992.8 1288.5 994.6 1289.5 984.6 1290.5 974.5 1291.5 962 1292.5 949.5 1293.5 941 1294.5 932.4 1295.5 928 1296.5 927.7 1297.5 927.8 1298.5 929.9 1299.5 932.3 1300.5 935.4 1301.5 936.6 1302.5 933.4 1303.5 931.7 1304.5 934.2 1305.5 937.7 1306.5 941.4 1307.5 945.3 1308.5 949.2 1309.5 954.7 1310.5 963.3 1311.5 971.3 1312.5 978.3 1313.5 985.2 1314.5 987.7 1315.5 983.8 1316.5 979.9 1317.5 978.1 1318.5 977 1319.5 980.8 1320.5 984.6 1321.5 986.6 1322.5 986.8 1323.5 987.1 1324.5 987.3 1325.5 987.6 1326.5 978.8 1327.5 966.7 1328.5 966 1329.5 972.5 1330.5 982.7 1331.5 982.9 1332.5 983.1 1333.5 983.2 1334.5 983.4 1335.5 983.5 1336.5 983.7 1337.5 983.8 1338.5 984 1339.5 984.2 1340.5 984.4 1341.5 984.6 1342.5 984.8 1343.5 986.9 1344.5 989.4 1345.5 991.9 1346.5 986.8 1347.5 980.6 1348.5 974.4 1349.5 970.1 1350.5 965.9 1351.5 961.7 1352.5 954.4 1353.5 946.9 1354.5 939.4 1355.5 938.5 1356.5 937.7 1357.5 936.7 1358.5 932.5 1359.5 928.3 1360.5 924.4 1361.5 923.9 1362.5 923.5 1363.5 923 1364.5 923 1365.5 923.3 1366.5 924.6 1367.5 925.9 1368.5 931 1369.5 951.5 1370.5 966.9 1371.5 965 1372.5 963.1 1373.5 959.3 1374.5 950.8 1375.5 942.8 1376.5 936.3 1377.5 929.6 1378.5 924.1 1379.5 920.9 1380.5 917.7 1381.5 918.4 1382.5 919.3 1383.5 919.2 1384.5 917.8 1385.5 916.5 1386.5 921.3 1387.5 927.1 1388.5 933.7 1389.5 941.1 1390.5 948.1 1391.5 952.1 1392.5 956.1 1393.5 955.2 1394.5 950.5 1395.5 945.7 1396.5 942.4 1397.5 940.1 1398.5 937.9 1399.5 933.2 1400.5 927.5 1401.5 922.2 1402.5 921.5 1403.5 920.8 1404.5 920.1 1405.5 919.5 1406.5 918.9 1407.5 924.2 1408.5 931.5 1409.5 938.9 1410.5 947.3 1411.5 955.7 1412.5 960.3 1413.5 964.1 1414.5 968 1415.5 956.5 1416.5 942.7 1417.5 940.7 1418.5 940.1 1419.5 939.5 1420.5 927.3 1421.5 911.5 1422.5 908 1423.5 908.7 1424.5 909.5 1425.5 910.2 1426.5 910.6 1427.5 919.7 1428.5 928.7 1429.5 936 1430.5 941.3 1431.5 945.7 1432.5 942.1 1433.5 938.5 1434.5 935.2 1435.5 934.1 1436.5 933 1437.5 932.6 1438.5 935 1439.5 937.4 1440.5 939.3 1441.5 939.6 1442.5 940 1443.5 940.3 1444.5 941.1 1445.5 943.4 1446.5 946 1447.5 948 1448.5 949 1449.5 949.9 1450.5 950.8 1451.5 951.7 1452.5 952.6 1453.5 951.8 1454.5 948.6 1455.5 944.9 1456.5 932 1457.5 925.2 1458.5 925.1 1459.5 927 1460.5 944.2 1461.5 955.6 1462.5 960.5 1462.5 1010.6 1461.5 1010.3 1460.5 1009.6 1459.5 1008.9 1458.5 1008.8 1457.5 1009.1 1456.5 1009.4 1455.5 1009.8 1454.5 1010.1 1453.5 1010.4 1452.5 1010.4 1451.5 1010.2 1450.5 1009.9 1449.5 1009.7 1448.5 1009.4 1447.5 1009.2 1446.5 1008.9 1445.5 1008.7 1444.5 1009.2 1443.5 1010 1442.5 1010.8 1441.5 1011.6 1440.5 1012.4 1439.5 1011 1438.5 1009 1437.5 1007 1436.5 1006.4 1435.5 1006 1434.5 1005.7 1433.5 1005.4 1432.5 1005 1431.5 1004.7 1430.5 1004.4 1429.5 1004 1428.5 1003.7 1427.5 1003.4 1426.5 1003 1425.5 1002.7 1424.5 1000.7 1423.5 998.7 1422.5 997 1421.5 1005 1420.5 1012.6 1419.5 1013.1 1418.5 1013.6 1417.5 1014.1 1416.5 1014.6 1415.5 1015.1 1414.5 1015.5 1413.5 1015.2 1412.5 1014.9 1411.5 1014.6 1410.5 1014.3 1409.5 1014 1408.5 1013.8 1407.5 1013.5 1406.5 1013.4 1405.5 1013.3 1404.5 1013.1 1403.5 1013 1402.5 1012.9 1401.5 1012.8 1400.5 1012.6 1399.5 1012.7 1398.5 1013.3 1397.5 1013.9 1396.5 1014.5 1395.5 1015 1394.5 1015.6 1393.5 1016.2 1392.5 1016.3 1391.5 1015.8 1390.5 1015.4 1389.5 1015 1388.5 1014.5 1387.5 1014.1 1386.5 1013.6 1385.5 1013.2 1384.5 1012.7 1383.5 1012.7 1382.5 1012.9 1381.5 1013.2 1380.5 1013.4 1379.5 1013.7 1378.5 1013.9 1377.5 1014.2 1376.5 1014.4 1375.5 1014.3 1374.5 1014 1373.5 1013.6 1372.5 1013.3 1371.5 1013 1370.5 1012.6 1369.5 1012.4 1368.5 1012.3 1367.5 1012.1 1366.5 1011.9 1365.5 1011.8 1364.5 1011.6 1363.5 1011.7 1362.5 1011.9 1361.5 1012 1360.5 1012.2 1359.5 1012.4 1358.5 1012.5 1357.5 1012.6 1356.5 1012.7 1355.5 1012.8 1354.5 1012.9 1353.5 1013 1352.5 1013.1 1351.5 1013.2 1350.5 1013.3 1349.5 1013.4 1348.5 1013.5 1347.5 1013.5 1346.5 1013.5 1345.5 1013.5 1344.5 1013.5 1343.5 1013.5 1342.5 1013.5 1341.5 1013.5 1340.5 1013.5 1339.5 1013.5 1338.5 1013.6 1337.5 1013.7 1336.5 1013.8 1335.5 1013.9 1334.5 1014 1333.5 1014.1 1332.5 1014.2 1331.5 1014.3 1330.5 1014.4 1329.5 1014.5 1328.5 1014.5 1327.5 1014.5 1326.5 1014.5 1325.5 1014.5 1324.5 1014.5 1323.5 1014.5 1322.5 1014.5 1321.5 1014.5 1320.5 1014.5 1319.5 1014.5 1318.5 1014.6 1317.5 1014.8 1316.5 1015 1315.5 1015.2 1314.5 1015.4 1313.5 1015.6 1312.5 1015.8 1311.5 1016 1310.5 1016.2 1309.5 1016.4 1308.5 1015.4 1307.5 1013.8 1306.5 1012.2 1305.5 1010.6 1304.5 1009 1303.5 1009.9 1302.5 1011.6 1301.5 1013.4 1300.5 1015.1 1299.5 1015 1298.5 1014.4 1297.5 1013.8 1296.5 1013.2 1295.5 1012.6 1294.5 1013.6 1293.5 1014.9 1292.5 1016.1 1291.5 1017.4 1290.5 1017.6 1289.5 1017.8 1288.5 1018 1287.5 1018.1 1286.5 1018.3 1285.5 1018.5 1284.5 1018.5 1283.5 1018.5 1282.5 1018.5 1281.5 1018.5 1280.5 1018.5 1279.5 1018.5 1278.5 1018.7 1277.5 1019 1276.5 1019.2 1275.5 1019.5 1274.5 1019.5 1273.5 1019.6 1272.5 1019.6 1271.5 1019.7 1270.5 1019.7 1269.5 1019.8 1268.5 1019.8 1267.5 1019.9 1266.5 1019.9 1265.5 1020 1264.5 1020 1263.5 1020 1262.5 1020 1261.5 1019.9 1260.5 1019.9 1259.5 1019.9 1258.5 1019.8 1257.5 1019.8 1256.5 1019.7 1255.5 1019.7 1254.5 1019.6 1253.5 1019.6 1252.5 1019.6 1251.5 1019.5 1250.5 1019.5 1249.5 1019.5 1248.5 1019.5 1247.5 1019.6 1246.5 1019.7 1245.5 1019.7 1244.5 1019.8 1243.5 1019.8 1242.5 1019.9 1241.5 1020 1240.5 1020 1239.5 1020 1238.5 1020.1 1237.5 1020.1 1236.5 1020.1 1235.5 1020.1 1234.5 1020.1 1233.5 1020.1 1232.5 1020.1 1231.5 1020.1 1230.5 1020.1 1229.5 1020.1 1228.5 1020.1 1227.5 1020.1 1226.5 1020.1 1225.5 1020.1 1224.5 1020.1 1223.5 1020.1 1222.5 1020.1 1221.5 1020.1 1220.5 1020.1 1219.5 1020.1 1218.5 1020.1 1217.5 1020.1 1216.5 1020.1 1215.5 1020.1 1214.5 1020.1 1213.5 1020.1 1212.5 1020.1 1211.5 1020.1 1210.5 1020.1 1209.5 1020.1 1208.5 1020.1 1207.5 1020.1 1206.5 1020.1 1205.5 1020.1 1204.5 1020.1 1203.5 1020.1 1202.5 1020.1 1201.5 1020 1200.5 1020 1199.5 1020 1198.5 1020 1197.5 1020 1196.5 1019.9 1195.5 1019.9 1194.5 1019.9 1193.5 1019.9 1192.5 1019.9 1191.5 1019.8 1190.5 1019.8 1189.5 1019.8 1188.5 1019.8 1187.5 1019.8 1186.5 1019.7 1185.5 1019.8 1184.5 1019.8 1183.5 1019.9 1182.5 1019.9 1181.5 1020 1180.5 1020 1179.5 1020.1 1178.5 1020.1 1177.5 1020.2 1176.5 1020.2 1175.5 1020.3 1174.5 1020.3 1173.5 1020.4 1172.5 1020.4 1171.5 1020.5 1170.5 1020.5 1169.5 1020.6 1168.5 1020.6 1167.5 1020.7 1166.5 1020.7 1165.5 1020.7 1164.5 1020.6 1163.5 1020.6 1162.5 1020.5 1161.5 1020.5 1160.5 1020.4 1159.5 1020.4 1158.5 1020.3 1157.5 1020.3 1156.5 1020.2 1155.5 1020.2 1154.5 1020.1 1153.5 1020.1 1152.5 1020 1151.5 1020 1150.5 1019.9 1149.5 1019.9 1148.5 1019.8 1147.5 1019.8 1146.5 1019.8 1145.5 1019.8 1144.5 1019.8 1143.5 1019.8 1142.5 1019.8 1141.5 1019.9 1140.5 1019.9 1139.5 1019.9 1138.5 1019.9 1137.5 1019.9 1136.5 1020 1135.5 1020 1134.5 1020 1133.5 1020 1132.5 1020 1131.5 1020.1 1130.5 1020.1 1129.5 1020.1 1128.5 1020.1 1127.5 1020.1 1126.5 1020.1 1125.5 1020.1 1124.5 1020.1 1123.5 1020.1 1122.5 1020 1121.5 1020 1120.5 1020 1119.5 1020 1118.5 1020 1117.5 1019.9 1116.5 1019.9 1115.5 1019.9 1114.5 1019.9 1113.5 1019.9 1112.5 1019.8 1111.5 1019.8 1110.5 1019.8 1109.5 1019.8 1108.5 1019.8 1107.5 1019.7 1106.5 1019.8 1105.5 1019.8 1104.5 1019.8 1103.5 1019.8 1102.5 1019.8 1101.5 1019.9 1100.5 1019.9 1099.5 1019.9 1098.5 1019.9 1097.5 1019.9 1096.5 1020 1095.5 1020 1094.5 1020 1093.5 1020 1092.5 1020 1091.5 1020.1 1090.5 1020.1 1089.5 1020.1 1088.5 1020.1 1087.5 1020.1 1086.5 1020.2 1085.5 1020.2 1084.5 1020.2 1083.5 1020.3 1082.5 1020.3 1081.5 1020.3 1080.5 1020.4 1079.5 1020.4 1078.5 1020.4 1077.5 1020.4 1076.5 1020.5 1075.5 1020.5 1074.5 1020.5 1073.5 1020.6 1072.5 1020.6 1071.5 1020.6 1070.5 1020.7 1069.5 1020.7 1068.5 1020.7 1067.5 1020.7 1066.5 1020.6 1065.5 1020.6 1064.5 1020.5 1063.5 1020.5 1062.5 1020.4 1061.5 1020.4 1060.5 1020.3 1059.5 1020.2 1058.5 1020.2 1057.5 1020.1 1056.5 1020.1 1055.5 1020 1054.5 1020 1053.5 1019.9 1052.5 1019.9 1051.5 1019.8 1050.5 1019.7 1049.5 1019.6 1048.5 1019.5 1047.5 1019.4 1046.5 1019.3 1045.5 1019.2 1044.5 1019.1 1043.5 1019 1042.5 1018.9 1041.5 1018.8 1040.5 1018.7 1039.5 1018.6 1038.5 1018.5 1037.5 1018.4 1036.5 1018.3 1035.5 1018.2 1034.5 1018.2 1033.5 1018.3 1032.5 1018.4 1031.5 1018.6 1030.5 1018.7 1029.5 1018.8 1028.5 1018.9 1027.5 1019.1 1026.5 1019.2 1025.5 1019.3 1024.5 1019.4 1023.5 1019.6 1022.5 1019.7 1021.5 1019.8 1020.5 1019.9 1019.5 1020.1 1018.5 1020.1 1017.5 1020.1 1016.5 1020 1015.5 1020 1014.5 1020 1013.5 1019.9 1012.5 1019.9 1011.5 1019.8 1010.5 1019.8 1009.5 1019.8 1008.5 1019.7 1007.5 1019.7 1006.5 1019.6 1005.5 1019.6 1004.5 1019.6 1003.5 1019.5 1002.5 1019.5 1001.5 1019.4 1000.5 1019.4 999.5 1019.4 998.5 1019.4 997.5 1019.4 996.5 1019.5 995.5 1019.5 994.5 1019.5 993.5 1019.6 992.5 1019.6 991.5 1019.7 990.5 1019.7 989.5 1019.7 988.5 1019.8 987.5 1019.8 986.5 1019.9 985.5 1019.9 984.5 1019.9 983.5 1020 982.5 1020 981.5 1020.1 980.5 1020.1 979.5 1020.1 978.5 1020.1 977.5 1020 976.5 1019.9 975.5 1019.9 974.5 1019.8 973.5 1019.7 972.5 1019.6 971.5 1019.6 970.5 1019.5 969.5 1019.4 968.5 1019.4 967.5 1019.3 966.5 1019.2 965.5 1019.2 964.5 1019.1 963.5 1019 962.5 1018.9 961.5 1018.9 960.5 1018.8 959.5 1018.8 958.5 1018.9 957.5 1019 956.5 1019.1 955.5 1019.2 954.5 1019.3 953.5 1019.4 952.5 1019.5 951.5 1019.6 950.5 1019.7 949.5 1019.7 948.5 1019.7 947.5 1019.7 946.5 1019.7 945.5 1019.7 944.5 1019.7 943.5 1019.7 942.5 1019.7 941.5 1019.7 940.5 1019.7 939.5 1019.7 938.5 1019.7 937.5 1019.7 936.5 1019.7 935.5 1019.7 934.5 1019.7 933.5 1019.7 932.5 1019.6 931.5 1019.6 930.5 1019.6 929.5 1019.6 928.5 1019.5 927.5 1019.5 926.5 1019.5 925.5 1019.4 924.5 1019.4 923.5 1019.4 922.5 1019.4 921.5 1019.3 920.5 1019.3 919.5 1019.2 918.5 1019.2 917.5 1019.1 916.5 1019.1 915.5 1019.1 914.5 1019 913.5 1019 912.5 1018.9 911.5 1018.9 910.5 1018.8 909.5 1018.8 908.5 1018.8 907.5 1018.8 906.5 1018.9 905.5 1018.9 904.5 1019 903.5 1019 902.5 1019.1 901.5 1019.1 900.5 1019.2 899.5 1019.2 898.5 1019.3 897.5 1019.3 896.5 1019.3 895.5 1019.4 894.5 1019.4 893.5 1019.4 892.5 1019.4 891.5 1019.5 890.5 1019.5 889.5 1019.5 888.5 1019.5 887.5 1019.6 886.5 1019.6 885.5 1019.6 884.5 1019.6 883.5 1019.7 882.5 1019.7 881.5 1019.7 880.5 1019.7 879.5 1019.7 878.5 1019.7 877.5 1019.7 876.5 1019.7 875.5 1019.7 874.5 1019.7 873.5 1019.7 872.5 1019.7 871.5 1019.7 870.5 1019.7 869.5 1019.7 868.5 1019.8 867.5 1019.9 866.5 1019.9 865.5 1020 864.5 1020.1 863.5 1020.2 862.5 1020.3 861.5 1020.4 860.5 1020.4 859.5 1020.5 858.5 1020.6 857.5 1020.7 856.5 1020.7 855.5 1020.7 854.5 1020.7 853.5 1020.7 852.5 1020.7 851.5 1020.7 850.5 1020.7 849.5 1020.7 848.5 1020.7 847.5 1020.7 846.5 1020.7 845.5 1020.7 844.5 1020.7 843.5 1020.7 842.5 1020.7 841.5 1020.7 840.5 1020.5 839.5 1020.3 838.5 1020 837.5 1019.8 836.5 1019.5 835.5 1019.3 834.5 1019 833.5 1018.8 832.5 1018.7 831.5 1018.6 830.5 1018.5 829.5 1018.4 828.5 1018.3 827.5 1018.2 826.5 1018.1 825.5 1018 824.5 1017.9 823.5 1017.8 822.5 1018 821.5 1018.2 820.5 1018.4 819.5 1018.6 818.5 1018.8 817.5 1019 816.5 1019.2 815.5 1019.4 814.5 1019.6 813.5 1019.7 812.5 1019.7 811.5 1019.7 810.5 1019.7 809.5 1019.6 808.5 1019.6 807.5 1019.6 806.5 1019.6 805.5 1019.5 804.5 1019.5 803.5 1019.5 802.5 1019.5 801.5 1019.4 800.5 1019.4 799.5 1019.4 798.5 1019.4 797.5 1019.4 796.5 1019.4 795.5 1019.5 794.5 1019.5 793.5 1019.6 792.5 1019.6 791.5 1019.7 790.5 1019.7 789.5 1019.8 788.5 1019.8 787.5 1019.9 786.5 1019.9 785.5 1020 784.5 1020 783.5 1020.1 782.5 1020.1 781.5 1020 780.5 1019.9 779.5 1019.8 778.5 1019.7 777.5 1019.6 776.5 1019.5 775.5 1019.3 774.5 1019.2 773.5 1019.1 772.5 1019 771.5 1018.9 770.5 1018.8 769.5 1018.7 768.5 1018.6 767.5 1018.5 766.5 1018.4 765.5 1018.3 764.5 1018.3 763.5 1018.2 762.5 1018.1 761.5 1018 760.5 1017.9 759.5 1017.8 758.5 1017.8 757.5 1017.6 756.5 1017.4 755.5 1017.2 754.5 1017 753.5 1016.8 752.5 1016.6 751.5 1016.4 750.5 1016.2 749.5 1016 748.5 1015.8 747.5 1015.9 746.5 1016 745.5 1016.1 744.5 1016.2 743.5 1016.3 742.5 1016.4 741.5 1016.5 740.5 1016.6 739.5 1016.7 738.5 1016.8 737.5 1016.8 736.5 1016.8 735.5 1016.8 734.5 1016.8 733.5 1016.8 732.5 1016.8 731.5 1016.8 730.5 1016.8 729.5 1016.8 728.5 1016.8 727.5 1016.8 726.5 1016.6 725.5 1016.3 724.5 1015.9 723.5 1015.6 722.5 1015.3 721.5 1014.9 720.5 1015 719.5 1015.3 718.5 1015.6 717.5 1015.9 716.5 1016.2 715.5 1016.5 714.5 1016.8 713.5 1017.1 712.5 1017.4 711.5 1017.7 710.5 1017.9 709.5 1018.1 708.5 1018.3 707.5 1018.5 706.5 1018.7 705.5 1018.9 704.5 1019.1 703.5 1019.3 702.5 1019.3 701.5 1019.3 700.5 1019.3 699.5 1019.3 698.5 1019.3 697.5 1019.3 696.5 1019.3 695.5 1019.3 694.5 1019.3 693.5 1019.3 692.5 1019.3 691.5 1019.3 690.5 1019.3 689.5 1019.3 688.5 1019.3 687.5 1019.3 686.5 1019.2 685.5 1019.1 684.5 1019 683.5 1018.9 682.5 1018.8 681.5 1018.6 680.5 1018.5 679.5 1018.7 678.5 1019 677.5 1019.4 676.5 1019.8 675.5 1020 674.5 1020 673.5 1020 672.5 1019.9 671.5 1019.9 670.5 1019.9 669.5 1019.8 668.5 1019.8 667.5 1019.8 666.5 1019.8 665.5 1019.7 664.5 1019.7 663.5 1019.7 662.5 1019.6 661.5 1019.6 660.5 1019.6 659.5 1019.5 658.5 1019.5 657.5 1019.5 656.5 1019.5 655.5 1019.5 654.5 1019.5 653.5 1019.5 652.5 1019.6 651.5 1019.6 650.5 1019.6 649.5 1019.6 648.5 1019.7 647.5 1019.7 646.5 1019.7 645.5 1019.8 644.5 1019.8 643.5 1019.8 642.5 1019.9 641.5 1019.9 640.5 1019.9 639.5 1019.9 638.5 1020 637.5 1020 636.5 1020 635.5 1019.9 634.5 1019.7 633.5 1019.6 632.5 1019.4 631.5 1019.2 630.5 1019.1 629.5 1018.9 628.5 1018.8 627.5 1018.6 626.5 1018.4 625.5 1018.2 624.5 1018 623.5 1017.8 622.5 1017.6 621.5 1017.4 620.5 1017.2 619.5 1017 618.5 1016.8 617.5 1016.6 616.5 1016.5 615.5 1016.6 614.5 1016.7 613.5 1016.8 612.5 1016.9 611.5 1017 610.5 1017.1 609.5 1017.2 608.5 1017.3 607.5 1017.4 606.5 1017.6 605.5 1017.8 604.5 1018.1 603.5 1018.4 602.5 1018.6 601.5 1018.9 600.5 1019.1 599.5 1019.4 598.5 1019.7 597.5 1019.9 596.5 1020 595.5 1019.9 594.5 1019.9 593.5 1019.8 592.5 1019.8 591.5 1019.7 590.5 1019.6 589.5 1019.6 588.5 1019.5 587.5 1019.5 586.5 1019.4 585.5 1019.3 584.5 1019.3 583.5 1019.2 582.5 1019.2 581.5 1019.1 580.5 1019 579.5 1019 578.5 1018.9 577.5 1018.9 576.5 1018.9 575.5 1018.9 574.5 1018.9 573.5 1018.9 572.5 1018.9 571.5 1018.9 570.5 1018.9 569.5 1018.9 568.5 1018.9 567.5 1018.9 566.5 1018.9 565.5 1018.9 564.5 1018.9 563.5 1018.9 562.5 1018.9 561.5 1018.9 560.5 1018.9 559.5 1018.9 558.5 1018.9 557.5 1018.9 556.5 1018.8 555.5 1018.8 554.5 1018.8 553.5 1018.7 552.5 1018.7 551.5 1018.7 550.5 1018.7 549.5 1018.6 548.5 1018.6 547.5 1018.6 546.5 1018.5 545.5 1018.5 544.5 1018.5 543.5 1018.4 542.5 1018.4 541.5 1018.3 540.5 1018.3 539.5 1018.2 538.5 1018.1 537.5 1018.1 536.5 1018 535.5 1017.9 534.5 1017.9 533.5 1017.8 532.5 1017.8 531.5 1017.7 530.5 1017.6 529.5 1017.6 528.5 1017.5 527.5 1017.4 526.5 1017.3 525.5 1017.2 524.5 1017.1 523.5 1016.9 522.5 1016.8 521.5 1016.7 520.5 1016.6 519.5 1016.5 518.5 1016.4 517.5 1016.2 516.5 1016.1 515.5 1016.2 514.5 1016.4 513.5 1016.6 512.5 1016.7 511.5 1016.9 510.5 1017.1 509.5 1017.3 508.5 1017.4 507.5 1017.5 506.5 1017.5 505.5 1017.5 504.5 1017.5 503.5 1017.5 502.5 1017.5 501.5 1017.5 500.5 1017.5 499.5 1017.4 498.5 1017.2 497.5 1017.1 496.5 1017 495.5 1016.9 494.5 1016.7 493.5 1016.6 492.5 1016.5 491.5 1016.5 490.5 1016.5 489.5 1016.5 488.5 1016.5 487.5 1016.4 486.5 1015.4 485.5 1014.4 484.5 1013.5 483.5 1013.2 482.5 1012.8 481.5 1012.5 480.5 1012.2 479.5 1011.8 478.5 1011.4 477.5 1010.6 476.5 1009.9 475.5 1009.1 474.5 1007.8 473.5 1004.8 472.5 1001.8 471.5 998.8 470.5 996.8 469.5 996.8 468.5 996.8 467.5 996.8 466.5 996.8 465.5 996.4 464.5 995.6 463.5 994.8 462.5 994 461.5 993.2 460.5 993.2 459.5 994 458.5 994.8 457.5 995.6 456.5 996.4 455.5 998.2 454.5 1000.8 453.5 1003.4 452.5 1006 451.5 1008.6 450.5 1007.7 449.5 1006.8 448.5 1005.9 447.5 1005 446.5 1004.4 445.5 1004 444.5 1003.6 443.5 1003.2 442.5 1002.8 441.5 1004.7 440.5 1007.5 439.5 1010.2 438.5 1013 437.5 1012.5 436.5 1011.3 435.5 1010 434.5 1008.8 433.5 1005.2 432.5 1001.2 431.5 997.2 430.5 996.8 429.5 996.8 428.5 996.8 427.5 996.8 426.5 999.1 425.5 1001.5 424.5 1003.9 423.5 1006.3 422.5 1008.6 421.5 1008.4 420.5 1008.2 419.5 1008 418.5 1007.8 417.5 1007.6 416.5 1007.1 415.5 1006.6 414.5 1006.1 413.5 1005.6 412.5 1005.1 411.5 1004.4 410.5 1002.8 409.5 1001.2 408.5 999.6 407.5 998 406.5 996.5 405.5 995.3 404.5 994.1 403.5 992.9 402.5 991.7 401.5 990.8 400.5 990.6 399.5 990.5 398.5 990.3 397.5 990.1 396.5 990 395.5 989.8 394.5 989.6 393.5 989.5 392.5 989.3 391.5 989.1 390.5 989 389.5 990.1 388.5 992.6 387.5 993.9 386.5 994.1 385.5 994.3 384.5 994.5 383.5 994.7 382.5 995.1 381.5 995.6 380.5 996.1 379.5 996.6 378.5 996.1 377.5 995.1 376.5 994.1 375.5 993.1 374.5 994.6 373.5 997.2 372.5 999.8 371.5 1002.4 370.5 1005 369.5 1005.3 368.5 1004.8 367.5 1004.3 366.5 1003.8 365.5 1003.3 364.5 1002.8 363.5 1002.7 362.5 1002.7 361.5 1002.7 360.5 1002.7 359.5 1002.7 358.5 1002.7 357.5 1001.3 356.5 999.8 355.5 998.3 354.5 996.8 353.5 996.3 352.5 995.8 351.5 995.3 350.5 994.8 349.5 994.3 348.5 993.8 347.5 993.3 346.5 992.9 345.5 993.9 344.5 994.9 343.5 995.9 342.5 996.9 341.5 997.9 340.5 998.9 339.5 999.5 338.5 1000.2 337.5 1000.9 336.5 1001.5 335.5 1002.2 334.5 1002.8 333.5 1003.1 332.5 1003.4 331.5 1003.8 330.5 1004.1 329.5 1004.4 328.5 1004.5 327.5 1004.1 326.5 1003.7 325.5 1003.3 324.5 1002.9 323.5 1003.8 322.5 1006.5 321.5 1009.1 320.5 1010.3 319.5 1009.8 318.5 1009.3 317.5 1008.8 316.5 1008.3 315.5 1007.8 314.5 1007.3 313.5 1006.8 312.5 1006.5 311.5 1006.2 310.5 1006 309.5 1005.7 308.5 1005.5 307.5 1005.2 306.5 1005 305.5 1004.7 304.5 1005.3 303.5 1006.1 302.5 1007 301.5 1007.9 300.5 1008.8 299.5 1009.6 298.5 1010.5 297.5 1011.4 296.5 1011.5 295.5 1011.3 294.5 1011.2 293.5 1011.1 292.5 1011 291.5 1010.8 290.5 1010.7 289.5 1010.6 288.5 1010.6 287.5 1010.6 286.5 1010.6 285.5 1010.6 284.5 1010.6 283.5 1007.3 282.5 1004 281.5 1000.7 280.5 1001.1 279.5 1001.4 278.5 1001.7 277.5 1002.1 276.5 1002.4 275.5 1002.7 274.5 1003.1 273.5 1003.4 272.5 1003.7 271.5 1004.1 270.5 1004.4 269.5 1005.1 268.5 1007.1 267.5 1009.1 266.5 1011.1 265.5 1011.9 264.5 1009.2 263.5 1006.5 262.5 1004.7 261.5 1004.7 260.5 1004.7 259.5 1004.7 258.5 1004.7 257.5 1005.1 256.5 1006.3 255.5 1007.4 254.5 1008.6 253.5 1009.8 252.5 1010.9 251.5 1011.6 250.5 1011.8 249.5 1012 248.5 1012.1 247.5 1012.3 246.5 1012.5 245.5 1012.6 244.5 1012.8 243.5 1013 242.5 1013.1 241.5 1013.3 240.5 1013.5 239.5 1013.2 238.5 1012.7 237.5 1012.2 236.5 1011.7 235.5 1011.2 234.5 1010.7 233.5 1009.5 232.5 1008 231.5 1006.5 230.5 1005 229.5 1005.2 228.5 1005.8 227.5 1006.5 226.5 1007.2 225.5 1007.8 224.5 1008.5 223.5 1009.2 222.5 1009.8 221.5 1010.5 220.5 1011.2 219.5 1011.8 218.5 1012.5 217.5 1012.3 216.5 1012.1 215.5 1011.8 214.5 1011.6 213.5 1011.3 212.5 1011.1 211.5 1010.8 210.5 1010.7 209.5 1012.2 208.5 1013.7 207.5 1015.2 206.5 1016.5 205.5 1016.4 204.5 1016.2 203.5 1016.1 202.5 1016 201.5 1015.9 200.5 1015.7 199.5 1015.6 198.5 1015.5 197.5 1015.5 196.5 1015.5 195.5 1015.5 194.5 1015.5 193.5 1015.5 192.5 1015.5 191.5 1015.5 190.5 1015.5 189.5 1015.5 188.5 1015.5 187.5 1015.5 186.5 1015.5 185.5 1015.5 184.5 1015.5 183.5 1015.5 182.5 1015.5 181.5 1015.5 180.5 1015.5 179.5 1015.5 178.5 1015.7 177.5 1016 176.5 1016.3 175.5 1016.7 174.5 1017 173.5 1017.3 172.5 1017.4 171.5 1017.2 170.5 1017 169.5 1016.9 168.5 1016.7 167.5 1016.5 166.5 1015.5 165.5 1014 164.5 1012.5 163.5 1011 162.5 1009.8 161.5 1008.8 160.5 1007.8 159.5 1006.8 158.5 1006.9 157.5 1007.3 156.5 1007.7 155.5 1008.1 154.5 1008.5 153.5 1010.3 152.5 1012.3 151.5 1014.3 150.5 1014.7 149.5 1014.9 148.5 1015.1 147.5 1015.3 146.5 1015.5 145.5 1014.9 144.5 1014.3 143.5 1013.7 142.5 1013.1 141.5 1012.5 140.5 1012.5 139.5 1012.5 138.5 1012.5 137.5 1012.5 136.5 1012.5 135.5 1012.6 134.5 1013.3 133.5 1014 132.5 1014.6 131.5 1015.3 130.5 1016 129.5 1016.4 128.5 1015.9 127.5 1015.4 126.5 1014.9 125.5 1013.6 124.5 1010.3 123.5 1006.9 122.5 1002.8 121.5 996.8 120.5 992.6 119.5 992 118.5 991.5 117.5 990.9 116.5 990.9Z" fill="#1f77b4"/>
<path d="M117 882.8h0M117 886.2h0M117 895.5h0M117 990.9h0M118.8 990.4h0M120.2 818.5h0M120.2 822.1h0M120.2 827.1h0M120.2 831.8h0M120.2 839.3h0M120.2 994h0M122 992.4h0M123.6 813.1h0M123.6 816.2h0M123.6 821.4h0M123.6 825.8h0M123.6 830.4h0M123.6 841.2h0M123.6 1006.8h0M125.4 1006.4h0M126.7 946.4h0M126.7 951.9h0M126.7 1015.4h0M128.5 1014.8h0M131.4 994.4h0M131.4 1016.2h0M133.2 1016.3h0M134.3 969.8h0M134.3 1013.5h0M136.1 1013.4h0M138.1 921.9h0M138.1 934h0M138.1 1013h0M139.9 1012.1h0M142.2 946.1h0M142.2 952h0M142.2 1012.7h0M144 1012.3h0M145 909.3h0M145 912.9h0M145 924.2h0M145 1015.9h0M146.8 1014.4h0M149.4 928.3h0M149.4 933.9h0M149.4 940.5h0M149.4 1014.6h0M151.2 1014.5h0M152.5 855.8h0M152.5 859h0M152.5 868.1h0M152.5 1013.2h0M154.3 1011.7h0M156.4 779.7h0M156.4 783.8h0M156.4 787.7h0M156.4 798h0M156.4 801.4h0M156.4 806.9h0M156.4 1007.2h0M158.2 1007.2h0M160.2 902.1h0M160.2 905.2h0M160.2 909.8h0M160.2 913.4h0M160.2 1006.2h0M162 1008.3h0M162.7 935.5h0M162.7 939.5h0M162.7 1010.3h0M164.5 1010.4h0M167.1 916h0M167.1 1014.8h0M168.9 1014.8h0M170.3 910.4h0M170.3 913.8h0M170.3 918.2h0M170.3 921.3h0M170.3 926.4h0M170.3 1017.2h0M172.1 1017.9h0M174.4 1001.6h0M174.4 1016.4h0M176.2 1017h0M177.5 1000.1h0M177.5 1015.4h0M179.3 1015.9h0M181.2 998.6h0M181.2 1015h0M183 1015.4h0M184.8 995.5h0M184.8 1014.8h0M186.6 1014.8h0M188.1 966.3h0M188.1 971.8h0M188.1 1016.7h0M189.9 1017.8h0M191.8 970.1h0M191.8 976.3h0M191.8 1015.9h0M193.6 1015.6h0M195.4 976.6h0M195.4 979.6h0M195.4 982.7h0M195.4 1014.8h0M197.2 1015.7h0M199 965.1h0M199 969h0M199 972.9h0M199 1015.3h0M200.8 1015.1h0M203.1 988.9h0M203.1 1016.1h0M204.9 1015.6h0M206.5 952.6h0M206.5 957.5h0M206.5 963.1h0M206.5 1015.8h0M208.3 1016.9h0M209.9 955.7h0M209.9 962h0M209.9 1012.8h0M211.7 1010.2h0M213.1 923.7h0M213.1 928h0M213.1 937.5h0M213.1 1010.6h0M214.9 1011h0M217.2 932.4h0M217.2 938.6h0M217.2 941.8h0M217.2 1011.9h0M219 1013.5h0M220.4 930.1h0M220.4 936.1h0M220.4 940.8h0M220.4 1011.4h0M222.2 1010.8h0M224 878.4h0M224 888h0M224 894.6h0M224 1008.6h0M225.8 1007.8h0M228.3 874.9h0M228.3 880.3h0M228.3 884.9h0M228.3 890h0M228.3 1005.3h0M230.1 1005.6h0M231.7 910.2h0M231.7 1007h0M233.5 1006h0M235 848.8h0M235 853.7h0M235 860.7h0M235 872.5h0M235 1011.7h0M236.8 1010.5h0M238.7 915.1h0M238.7 920h0M238.7 923.3h0M238.7 926.6h0M238.7 1015h0M240.5 1012.7h0M242.1 898.1h0M242.1 905h0M242.1 912h0M242.1 1012.9h0M243.9 1012.5h0M246.1 956h0M246.1 959.3h0M246.1 1012.6h0M247.9 1011.9h0M250.2 871.6h0M250.2 876.4h0M250.2 1012.3h0M252 1011.8h0M252.9 871h0M252.9 877.1h0M252.9 887.6h0M252.9 891.3h0M252.9 1009.5h0M254.7 1009.4h0M257.2 903.1h0M257.2 908.4h0M257.2 1005.8h0M259 1006.5h0M260.7 809.4h0M260.7 813.2h0M260.7 819.6h0M260.7 824.4h0M260.7 831.3h0M260.7 1004.6h0M262.5 1003.9h0M264.1 828h0M264.1 834.7h0M264.1 843.6h0M264.1 846.7h0M264.1 1009.4h0M265.9 1009.1h0M268.2 863.6h0M268.2 872.5h0M268.2 880.6h0M268.2 884.4h0M268.2 1008.9h0M270 1008.5h0M271.7 847.7h0M271.7 852.7h0M271.7 856.7h0M271.7 862.6h0M271.7 867.8h0M271.7 871.6h0M271.7 1003.4h0M273.5 1003.3h0M274.9 855h0M274.9 862.9h0M274.9 1003.1h0M276.7 1002.6h0M278.2 799.7h0M278.2 803h0M278.2 810.9h0M278.2 814.6h0M278.2 822.4h0M278.2 1001.3h0M280 1001.8h0M282.4 855.1h0M282.4 858.7h0M282.4 863.4h0M282.4 868.6h0M282.4 872.8h0M282.4 875.8h0M282.4 1005.6h0M284.2 1003.5h0M285.7 866.4h0M285.7 876.6h0M285.7 880.9h0M285.7 887.6h0M285.7 1010.4h0M287.5 1011.5h0M288.8 956.6h0M288.8 963.2h0M288.8 1010.6h0M290.6 1010.2h0M293.3 944.1h0M293.3 948.9h0M293.3 954.5h0M293.3 1011.3h0M295.1 1010.9h0M296.3 923.3h0M296.3 927.2h0M296.3 931.4h0M296.3 1010.8h0M298.1 1011.9h0M300 912.9h0M300 916.2h0M300 921.4h0M300 925h0M300 1008.3h0M301.8 1009.6h0M304.2 933.1h0M304.2 1005.7h0M306 1005.5h0M307 923.9h0M307 928.6h0M307 933.1h0M307 1004.7h0M308.8 1005.6h0M311.1 932.5h0M311.1 937h0M311.1 1007.1h0M312.9 1005.7h0M314.7 935.7h0M314.7 1008h0M316.5 1008.5h0M318.4 890.6h0M318.4 897h0M318.4 903.9h0M318.4 1008.9h0M320.2 1008.7h0M322.2 817.6h0M322.2 828.5h0M322.2 832.2h0M322.2 846.5h0M322.2 1008.4h0M324 1008.7h0M325.1 898h0M325.1 1003h0M326.9 1003.1h0M328.6 853.5h0M328.6 857.7h0M328.6 864.2h0M328.6 867.8h0M328.6 1005.6h0M330.4 1003.8h0M332.1 816.7h0M332.1 821.6h0M332.1 825.6h0M332.1 830.1h0M332.1 834.1h0M332.1 838h0M332.1 844.3h0M332.1 1003h0M333.9 1003.7h0M335.6 870.5h0M335.6 875.5h0M335.6 883.8h0M335.6 887.3h0M335.6 1002.1h0M337.4 1001.1h0M340 881.7h0M340 999.1h0M341.8 999.2h0M343.4 846.1h0M343.4 852.3h0M343.4 858.4h0M343.4 864.1h0M343.4 998.2h0M345.2 996.5h0M346.8 836.5h0M346.8 839.6h0M346.8 843h0M346.8 992.3h0M348.6 994.1h0M350.7 824.5h0M350.7 828.8h0M350.7 837.4h0M350.7 840.4h0M350.7 843.8h0M350.7 848.3h0M350.7 994.1h0M352.5 994.8h0M353.6 856.8h0M353.6 860h0M353.6 996.2h0M355.4 996.5h0M357.8 799.8h0M357.8 803.1h0M357.8 806.8h0M357.8 818.6h0M357.8 827.7h0M357.8 1001.4h0M359.6 1002h0M360.9 816.9h0M360.9 820.3h0M360.9 823.7h0M360.9 827.5h0M360.9 830.7h0M360.9 834.6h0M360.9 839.2h0M360.9 845.7h0M360.9 1003.6h0M362.7 1002.8h0M364.9 842.2h0M364.9 845.5h0M364.9 854.5h0M364.9 861h0M364.9 864.8h0M364.9 1002.3h0M366.7 1002.4h0M368.4 834.4h0M368.4 843.2h0M368.4 849.1h0M368.4 854.4h0M368.4 858.5h0M368.4 1007h0M370.2 1004.2h0M372.3 840.8h0M372.3 843.9h0M372.3 849.7h0M372.3 853.5h0M372.3 857.3h0M372.3 863.3h0M372.3 999.7h0M374.1 1000h0M375.9 840.5h0M375.9 848.7h0M375.9 857.7h0M375.9 993h0M377.7 992.4h0M378.9 851.5h0M378.9 857.3h0M378.9 861h0M378.9 998.5h0M380.7 997.4h0M382.9 817.8h0M382.9 826.9h0M382.9 834.1h0M382.9 838.3h0M382.9 994.9h0M384.7 994.7h0M386.4 724.5h0M386.4 731.3h0M386.4 734.7h0M386.4 742h0M386.4 746.1h0M386.4 993.5h0M388.2 993.7h0M390.1 718.1h0M390.1 730.1h0M390.1 733.9h0M390.1 742.1h0M390.1 989.3h0M391.9 988.6h0M393.6 717.3h0M393.6 721.3h0M393.6 725.1h0M393.6 730.3h0M393.6 734.1h0M393.6 739.3h0M393.6 745.3h0M393.6 988.9h0M395.4 989.4h0M397.7 637.6h0M397.7 644.4h0M397.7 654.9h0M397.7 662h0M397.7 666.2h0M397.7 990.7h0M399.5 989.6h0M400.3 711.5h0M400.3 715.8h0M400.3 720.2h0M400.3 724.2h0M400.3 731.7h0M400.3 736.2h0M400.3 741.2h0M400.3 991.1h0M402.1 989.9h0M404.6 712.4h0M404.6 718.7h0M404.6 723.3h0M404.6 726.5h0M404.6 732.6h0M404.6 994h0M406.4 993.8h0M408.5 762.9h0M408.5 767.1h0M408.5 781.8h0M408.5 999h0M410.3 999.7h0M412.1 773.9h0M412.1 779.5h0M412.1 783.4h0M412.1 787.3h0M412.1 790.5h0M412.1 797.3h0M412.1 800.9h0M412.1 1004h0M413.9 1004h0M415.9 790.4h0M415.9 795.1h0M415.9 798.9h0M415.9 802.8h0M415.9 808.5h0M415.9 817.4h0M415.9 1007.9h0M417.7 1006.6h0M418.4 789.8h0M418.4 795.3h0M418.4 798.7h0M418.4 804.2h0M418.4 809.8h0M418.4 818.1h0M418.4 1007.9h0M420.2 1008h0M422.2 773.1h0M422.2 776.6h0M422.2 780.1h0M422.2 784.4h0M422.2 790.1h0M422.2 796.5h0M422.2 1009.8h0M424 1007.9h0M426.2 760.6h0M426.2 765.6h0M426.2 769.1h0M426.2 773.4h0M426.2 780.2h0M426.2 785.4h0M426.2 998.6h0M428 998.6h0M430.2 752.9h0M430.2 761.2h0M430.2 765.8h0M430.2 779.1h0M430.2 997.2h0M432 997.6h0M433.3 809.6h0M433.3 814.1h0M433.3 823.4h0M433.3 826.4h0M433.3 833.4h0M433.3 1005.3h0M435.1 1005.8h0M436.4 802.1h0M436.4 807.1h0M436.4 812h0M436.4 820.4h0M436.4 824h0M436.4 827.2h0M436.4 1012.9h0M438.2 1011.8h0M440.7 806.3h0M440.7 809.5h0M440.7 813.5h0M440.7 821.9h0M440.7 832.8h0M440.7 1008.4h0M442.5 1006.8h0M444.2 860h0M444.2 863.7h0M444.2 866.7h0M444.2 871.5h0M444.2 877h0M444.2 881.1h0M444.2 1002.9h0M446 1003.4h0M447.7 885.2h0M447.7 888.6h0M447.7 893.6h0M447.7 898.7h0M447.7 903.4h0M447.7 1004.8h0M449.5 1004.7h0M451.2 885.6h0M451.2 894.2h0M451.2 900.9h0M451.2 904.5h0M451.2 1007.9h0M453 1008.1h0M454.3 885.4h0M454.3 891.9h0M454.3 897.9h0M454.3 901.9h0M454.3 1000.5h0M456.1 1000.4h0M458.2 774.7h0M458.2 788.4h0M458.2 797.4h0M458.2 803.8h0M458.2 994.3h0M460 995.3h0M462.7 760.7h0M462.7 767.7h0M462.7 771.7h0M462.7 779.1h0M462.7 783.7h0M462.7 993.7h0M464.5 994.1h0M465.8 732.7h0M465.8 746.4h0M465.8 754.3h0M465.8 759.2h0M465.8 997.3h0M467.6 996.7h0M469.5 736.5h0M469.5 742.7h0M469.5 749.1h0M469.5 754.2h0M469.5 998.4h0M471.3 996.4h0M473 712.7h0M473 717.3h0M473 725.9h0M473 730.4h0M473 733.9h0M473 740.7h0M473 1001.4h0M474.8 1001.5h0M477.1 834.7h0M477.1 846.2h0M477.1 852.1h0M477.1 1009.9h0M478.9 1010.2h0M480.6 878.1h0M480.6 882.9h0M480.6 886h0M480.6 891.1h0M480.6 894.6h0M480.6 1011.7h0M482.4 1012.1h0M484 818.4h0M484 822.8h0M484 826.1h0M484 832.3h0M484 837.1h0M484 1012.8h0M485.8 1012.5h0M486.7 726h0M486.7 733.4h0M486.7 736.6h0M486.7 741h0M486.7 746.3h0M486.7 1018.1h0M488.5 1017.1h0M491.1 1002.1h0M491.1 1015.9h0M492.9 1016h0M494.9 1002.3h0M494.9 1016.2h0M496.7 1016.5h0M498.2 1002.4h0M498.2 1016.6h0M500 1016.7h0M502.1 926.9h0M502.1 933h0M502.1 936.9h0M502.1 1017.3h0M503.9 1017.2h0M504.9 762.2h0M504.9 766.8h0M504.9 770.5h0M504.9 774.2h0M504.9 781.5h0M504.9 1018h0M506.7 1017.4h0M509.2 758.4h0M509.2 765.7h0M509.2 768.7h0M509.2 772h0M509.2 780.3h0M509.2 784h0M509.2 787.7h0M509.2 1018h0M511 1016.7h0M513 1007.3h0M514.8 1006.9h0M513 1016.4h0M514.8 1016.1h0M516.6 1007.3h0M518.4 1006.1h0M516.6 1016.9h0M518.4 1015.8h0M520.3 1006.2h0M522.1 1006.1h0M520.3 1016.2h0M522.1 1015.8h0M523.7 1004h0M525.5 1003.3h0M523.7 1016.4h0M525.5 1016.2h0M527.4 1003.9h0M529.2 1003.6h0M527.4 1016.6h0M529.2 1017.2h0M530.5 1008h0M532.3 1008.2h0M530.5 1017.2h0M532.3 1018h0M533.7 1012.3h0M535.5 1011.7h0M533.7 1017.8h0M535.5 1018.3h0M537.9 1011h0M539.7 1012.3h0M537.9 1019.1h0M539.7 1017.3h0M540.8 1012.4h0M542.6 1011.3h0M540.8 1018.1h0M542.6 1019.3h0M545.5 1010.2h0M547.3 1011.9h0M545.5 1018h0M547.3 1019.9h0M548.8 1013.3h0M550.6 1012.8h0M548.8 1017.9h0M550.6 1017.9h0M552.3 1013.2h0M554.1 1012.6h0M552.3 1018.9h0M554.1 1018.1h0M556 1011.5h0M557.8 1013.6h0M556 1018.5h0M557.8 1018.3h0M558.8 1013.8h0M560.6 1012h0M558.8 1018.2h0M560.6 1019.3h0M563.4 1014.4h0M565.2 1013.2h0M563.4 1018.2h0M565.2 1018.4h0M566.6 1013.1h0M568.4 1014.2h0M566.6 1018.2h0M568.4 1020h0M570.2 1013.3h0M572 1014.3h0M570.2 1018.4h0M572 1018.2h0M573.3 1013.8h0M575.1 1013.8h0M573.3 1018.9h0M575.1 1019.4h0M577.1 1012.2h0M578.9 1013.5h0M577.1 1018.4h0M578.9 1018.3h0M581.4 1013.8h0M583.2 1014.6h0M581.4 1019.1h0M583.2 1018.6h0M584.4 1014h0M586.2 1014.9h0M584.4 1018.8h0M586.2 1019.1h0M588.6 1015.1h0M590.4 1013.8h0M588.6 1019.7h0M590.4 1018.9h0M591.9 1013.9h0M593.7 1013.7h0M591.9 1019.5h0M593.7 1019.2h0M595.3 1013.6h0M597.1 1013.3h0M595.3 1019.6h0M597.1 1019.3h0M598.6 1011.7h0M600.4 1011.6h0M598.6 1019.5h0M600.4 1019.9h0M602.2 1009.6h0M604 1009.9h0M602.2 1018h0M604 1018h0M606.7 1007.4h0M608.5 1008.2h0M606.7 1017h0M608.5 1016.9h0M609.2 1007.6h0M611 1007.4h0M609.2 1016.5h0M611 1016.8h0M613.5 1003.9h0M615.3 1005.2h0M613.5 1016.1h0M615.3 1017.2h0M616.8 1004.6h0M618.6 1004.8h0M616.8 1016h0M618.6 1016h0M620.2 1005.3h0M622 1005h0M620.2 1017.7h0M622 1016.8h0M624 1007.6h0M625.8 1006.7h0M624 1018.3h0M625.8 1020.3h0M627.3 1008.9h0M629.1 1009.9h0M627.3 1018.5h0M629.1 1018.4h0M631.4 1012.9h0M633.2 1013.1h0M631.4 1018.5h0M633.2 1020.3h0M635.4 1014.9h0M637.2 1015.4h0M635.4 1020.3h0M637.2 1019.5h0M638.5 1013.7h0M640.3 1014.4h0M638.5 1019.4h0M640.3 1020.4h0M642.4 1010.8h0M644.2 1013.4h0M642.4 1021.6h0M644.2 1020.6h0M645.7 1011.8h0M647.5 1013.4h0M645.7 1019.1h0M647.5 1020.2h0M648.9 1013.4h0M650.7 1013h0M648.9 1019.7h0M650.7 1019.1h0M653.2 1014.5h0M655 1013.9h0M653.2 1020.4h0M655 1019.4h0M656.3 1011.8h0M658.1 1013.7h0M656.3 1019.8h0M658.1 1020.3h0M660.6 1014h0M662.4 1013.2h0M660.6 1019.3h0M662.4 1019h0M663.4 1014.3h0M665.2 1014.5h0M663.4 1019.6h0M665.2 1019.3h0M667.8 1014.4h0M669.6 1013.2h0M667.8 1019.2h0M669.6 1019.3h0M670.7 1011.9h0M672.5 1013.6h0M670.7 1019.6h0M672.5 1019.3h0M674 1013.8h0M675.8 1011.2h0M674 1019.7h0M675.8 1020h0M678.6 1012.2h0M680.4 1011.9h0M678.6 1018.7h0M680.4 1018.5h0M681.6 1010.8h0M683.4 1011.6h0M681.6 1018.7h0M683.4 1018.1h0M685.5 1012.3h0M687.3 1011.2h0M685.5 1018.7h0M687.3 1019.6h0M689.5 1012.3h0M691.3 1013h0M689.5 1018.9h0M691.3 1021.2h0M692.7 1012.9h0M694.5 1013.5h0M692.7 1020.6h0M694.5 1020.3h0M696.2 1013.9h0M698 1014.5h0M696.2 1018.6h0M698 1018.8h0M700 1012.6h0M701.8 1012.9h0M700 1020.1h0M701.8 1018.6h0M702.7 1010.9h0M704.5 1011.1h0M702.7 1019.2h0M704.5 1020.4h0M707.4 1008h0M709.2 1007.2h0M707.4 1018.7h0M709.2 1018.7h0M710.4 1005.2h0M712.2 1003.7h0M710.4 1018.8h0M712.2 1018.1h0M714.2 980.1h0M714.2 1016.2h0M716 1016.2h0M717.9 961.4h0M717.9 1015.1h0M719.7 1017.3h0M721.4 962.1h0M721.4 1015.7h0M723.2 1014.3h0M724.5 964.6h0M724.5 968h0M724.5 1015.3h0M726.3 1015.4h0M728.2 975.6h0M728.2 1016.8h0M730 1016.3h0M732.4 994.2h0M732.4 1016.3h0M734.2 1016.1h0M735.7 991.8h0M735.7 1018.4h0M737.5 1016.7h0M739.9 1002.8h0M739.9 1016.5h0M741.7 1016.7h0M742.6 1004.8h0M744.4 1005.5h0M742.6 1016.1h0M744.4 1016.3h0M746.5 990.7h0M746.5 1016h0M748.3 1015.7h0M749.7 989.1h0M749.7 1016h0M751.5 1015.8h0M753.5 999.3h0M753.5 1016.1h0M755.3 1016.2h0M757.6 1009h0M759.4 1010.1h0M757.6 1017h0M759.4 1018.1h0M760.3 1009.3h0M762.1 1009.3h0M760.3 1017.8h0M762.1 1017.8h0M764.7 1004.5h0M766.5 1005.7h0M764.7 1018.5h0M766.5 1017.6h0M768.6 1007.5h0M770.4 1008.1h0M768.6 1017.9h0M770.4 1018.7h0M771.7 1010h0M773.5 1010.4h0M771.7 1019.2h0M773.5 1019.3h0M775.6 1009.7h0M777.4 1008.9h0M775.6 1018.7h0M777.4 1019.4h0M778.3 1010.2h0M780.1 1010.2h0M778.3 1019.7h0M780.1 1021.8h0M782.5 1007.9h0M784.3 1008h0M782.5 1020.7h0M784.3 1021.8h0M786.5 1007.8h0M788.3 1008.1h0M786.5 1020.7h0M788.3 1019.4h0M790 1005.2h0M791.8 1006.6h0M790 1019.2h0M791.8 1019.4h0M793.7 1004h0M793.7 1019.5h0M795.5 1020.3h0M796.8 1008.5h0M798.6 1009h0M796.8 1020h0M798.6 1019.1h0M800.5 1004.5h0M800.5 1019.1h0M802.3 1019.1h0M804.4 1005.3h0M804.4 1019.9h0M806.2 1019.1h0M807.9 1005.6h0M809.7 1007.2h0M807.9 1019.6h0M809.7 1019.4h0M811.2 1010.4h0M813 1010.3h0M811.2 1019.9h0M813 1020.4h0M815.5 1009.2h0M817.3 1008.7h0M815.5 1020.1h0M817.3 1019h0M818.7 1006.6h0M820.5 1007.2h0M818.7 1018.3h0M820.5 1018.9h0M822 1000.1h0M822 1017.3h0M823.8 1018h0M825.2 995.7h0M825.2 1017.4h0M827 1018.2h0M828.9 1007h0M830.7 1007.2h0M828.9 1017.7h0M830.7 1018h0M833 1004h0M834.8 1005.4h0M833 1018.1h0M834.8 1017.9h0M836.2 1007.3h0M838 1006.2h0M836.2 1020.7h0M838 1018.9h0M840.1 1012.2h0M841.9 1012.2h0M840.1 1022h0M841.9 1021.9h0M843.1 1012.4h0M844.9 1012.2h0M843.1 1020.7h0M844.9 1020.5h0M847.7 1012.8h0M849.5 1012.4h0M847.7 1021.2h0M849.5 1020.1h0M850.5 1013.2h0M852.3 1013.8h0M850.5 1020.5h0M852.3 1020.1h0M854.1 1015.1h0M855.9 1014.3h0M854.1 1020.6h0M855.9 1020.6h0M858.3 1014.9h0M860.1 1012.3h0M858.3 1020.5h0M860.1 1020.6h0M861.2 1014.6h0M863 1014.1h0M861.2 1021.8h0M863 1020.5h0M864.8 991.1h0M864.8 1019.4h0M866.6 1019.3h0M869.2 997.8h0M869.2 1019.7h0M871 1019.4h0M872.3 1011.2h0M874.1 1011.6h0M872.3 1019.2h0M874.1 1020.2h0M875.9 1011h0M877.7 1011.1h0M875.9 1019.4h0M877.7 1020.1h0M879.5 1008.8h0M881.3 1007.3h0M879.5 1020h0M881.3 1019.9h0M883.8 1011.6h0M885.6 1011.6h0M883.8 1019.6h0M885.6 1020.4h0M886.6 1006.5h0M888.4 1005.2h0M886.6 1019.1h0M888.4 1018.9h0M890.1 991.5h0M890.1 1018.8h0M891.9 1020.3h0M893.9 976.6h0M893.9 1019.4h0M895.7 1018.9h0M898.2 977.4h0M898.2 1019.1h0M900 1019.6h0M901 995.8h0M901 1018.9h0M902.8 1018.7h0M904.8 990.3h0M904.8 1018.3h0M906.6 1018.6h0M908.8 973.9h0M908.8 978.7h0M908.8 1019.3h0M910.6 1018.2h0M912.6 995.8h0M912.6 1018.7h0M914.4 1018.9h0M916.2 998.4h0M916.2 1019.6h0M918 1018.5h0M918.7 994h0M918.7 1019.5h0M920.5 1018.8h0M922.6 999.1h0M922.6 1018.9h0M924.4 1018.8h0M926.2 968.2h0M926.2 971.3h0M926.2 1019.8h0M928 1019.3h0M930.4 998.6h0M930.4 1018.8h0M932.2 1018.9h0M933.6 1002.7h0M933.6 1021.8h0M935.4 1021.3h0M937.5 1006.2h0M939.3 1006.2h0M937.5 1019h0M939.3 1019.4h0M940.5 1004.8h0M940.5 1019.8h0M942.3 1020.2h0M945 1002.1h0M945 1019.5h0M946.8 1019.2h0M948.3 1007h0M948.3 1019.2h0M950.1 1019.2h0M951.5 994h0M951.5 1018.9h0M953.3 1018.9h0M954.9 995h0M954.9 1018.6h0M956.7 1018.6h0M959.4 984.1h0M959.4 1018.4h0M961.2 1019.1h0M962.9 984.4h0M962.9 1018.7h0M964.7 1018.9h0M966.4 996.8h0M966.4 1018.5h0M968.2 1018.9h0M969.7 1005.3h0M969.7 1019.2h0M971.5 1018.9h0M972.9 986.4h0M972.9 1019.8h0M974.7 1019h0M977.2 984.5h0M977.2 1020.5h0M979 1021.5h0M980.6 962.6h0M980.6 1020.1h0M982.4 1020.4h0M983.9 952.4h0M983.9 958.4h0M983.9 1019.7h0M985.7 1020.1h0M988.2 974.2h0M988.2 978h0M988.2 1019.6h0M990 1019.4h0M991.2 1002.9h0M991.2 1019.2h0M993 1019.5h0M995.1 994.5h0M995.1 1019.9h0M996.9 1018.8h0M998.8 963.6h0M998.8 1019h0M1000.6 1018.9h0M1001.6 989.2h0M1001.6 1019.6h0M1003.4 1018.9h0M1005.6 990.6h0M1005.6 1019.5h0M1007.4 1019h0M1008.9 1005.1h0M1008.9 1019.2h0M1010.7 1019.8h0M1012.7 1003h0M1012.7 1019.6h0M1014.5 1019.7h0M1016.9 1002.7h0M1016.9 1019.5h0M1018.7 1020.5h0M1019.8 1005.2h0M1019.8 1019.4h0M1021.6 1019.2h0M1023.7 1004.6h0M1023.7 1019.1h0M1025.5 1021.1h0M1026.8 994.5h0M1026.8 1018.9h0M1028.6 1018.3h0M1030.8 972.8h0M1030.8 1018.9h0M1032.6 1018h0M1034.5 933.3h0M1034.5 940.1h0M1034.5 1018.4h0M1036.3 1017.8h0M1038.5 933.8h0M1038.5 940h0M1038.5 1018.7h0M1040.3 1018.2h0M1042 970.2h0M1042 1018.6h0M1043.8 1018.2h0M1045.8 981.9h0M1045.8 985h0M1045.8 1018.9h0M1047.6 1019.7h0M1048.5 977.2h0M1048.5 980.3h0M1048.5 1018.9h0M1050.3 1019.8h0M1052.3 987.7h0M1052.3 1020h0M1054.1 1019.2h0M1055.5 989.2h0M1055.5 1020.3h0M1057.3 1019.9h0M1059.5 992.7h0M1059.5 1020.1h0M1061.3 1022.5h0M1063 1001.1h0M1063 1020.1h0M1064.8 1020.6h0M1066.9 1005.6h0M1066.9 1020.2h0M1068.7 1020.3h0M1070.6 1014.1h0M1072.4 1015.2h0M1070.6 1020.2h0M1072.4 1020.6h0M1074.1 1013.7h0M1075.9 1012.7h0M1074.1 1022.1h0M1075.9 1020.5h0M1077.7 998.9h0M1077.7 1020h0M1079.5 1020.1h0M1081.2 991.9h0M1081.2 1021.4h0M1083 1020.9h0M1084.7 990h0M1084.7 1019.9h0M1086.5 1019.6h0M1088 1006.5h0M1089.8 1007.5h0M1088 1021.1h0M1089.8 1019.7h0M1092.3 1009.5h0M1094.1 1009h0M1092.3 1019.4h0M1094.1 1019.5h0M1095.2 988.3h0M1095.2 1019.2h0M1097 1020.7h0M1099 987.5h0M1099 1019.2h0M1100.8 1019.6h0M1102.9 1000.4h0M1102.9 1020.1h0M1104.7 1019.3h0M1106.8 1006.9h0M1108.6 1006.7h0M1106.8 1019.2h0M1108.6 1021.1h0M1110 1006.4h0M1111.8 1004.4h0M1110 1019.3h0M1111.8 1020.6h0M1113.3 1001.7h0M1113.3 1019.9h0M1115.1 1019.8h0M1117.1 1007.7h0M1118.9 1008.3h0M1117.1 1019.3h0M1118.9 1019.8h0M1120.7 966.7h0M1120.7 970.8h0M1120.7 1020h0M1122.5 1019.3h0M1124.4 998.3h0M1124.4 1019.8h0M1126.2 1020.5h0M1128 1004.9h0M1128 1019.6h0M1129.8 1019.6h0M1131.2 999.3h0M1131.2 1019.8h0M1133 1019.4h0M1135.5 1005.6h0M1135.5 1019.7h0M1137.3 1020.6h0M1139.3 1005.8h0M1139.3 1019.3h0M1141.1 1019.2h0M1142.4 1003.5h0M1142.4 1019.6h0M1144.2 1020h0M1146.7 1001.2h0M1146.7 1019.5h0M1148.5 1020h0M1150 995.9h0M1150 1019.6h0M1151.8 1020.9h0M1153 998.3h0M1153 1019.4h0M1154.8 1019.4h0M1156.6 1005.3h0M1156.6 1020h0M1158.4 1019.8h0M1160.5 1010.6h0M1162.3 1010h0M1160.5 1020h0M1162.3 1020.4h0M1163.9 1013.4h0M1165.7 1013.6h0M1163.9 1020.2h0M1165.7 1020.5h0M1167.7 1010.5h0M1169.5 1009.8h0M1167.7 1020.4h0M1169.5 1020.8h0M1171.4 1007.1h0M1171.4 1020.8h0M1173.2 1020h0M1175.3 1011.2h0M1177.1 1011.4h0M1175.3 1020.1h0M1177.1 1020.2h0M1178.3 1011.2h0M1180.1 1008.4h0M1178.3 1019.9h0M1180.1 1020.3h0M1182 1008.2h0M1183.8 1008.6h0M1182 1019.3h0M1183.8 1020.4h0M1185.9 998.4h0M1185.9 1019.1h0M1187.7 1019.7h0M1189.9 988.5h0M1189.9 1019.6h0M1191.7 1019.7h0M1193.1 1006.2h0M1194.9 1007.7h0M1193.1 1019.2h0M1194.9 1021.5h0M1196.5 1008.2h0M1198.3 1009.2h0M1196.5 1020.8h0M1198.3 1019.8h0M1200.4 1009.4h0M1202.2 1007.7h0M1200.4 1020.2h0M1202.2 1021.8h0M1203.6 990.3h0M1203.6 1019.9h0M1205.4 1020.1h0M1207.3 990.1h0M1207.3 1019.9h0M1209.1 1020.1h0M1210.6 1005.8h0M1210.6 1019.8h0M1212.4 1021.5h0M1214.6 1009.1h0M1216.4 1009.9h0M1214.6 1020.9h0M1216.4 1022.4h0M1217.7 1008.7h0M1219.5 1009.3h0M1217.7 1020.9h0M1219.5 1020.8h0M1222.2 1007.7h0M1224 1008.5h0M1222.2 1020.1h0M1224 1019.4h0M1224.8 1009.9h0M1226.6 1009.5h0M1224.8 1019.6h0M1226.6 1019.4h0M1228.4 1011.7h0M1230.2 1011.7h0M1228.4 1021h0M1230.2 1020.2h0M1233 1011.6h0M1234.8 1011.7h0M1233 1020.4h0M1234.8 1019.5h0M1236.4 1011.8h0M1238.2 1011.7h0M1236.4 1019.8h0M1238.2 1019.7h0M1240.1 1007.9h0M1241.9 1009h0M1240.1 1020.7h0M1241.9 1019.8h0M1242.8 999.9h0M1242.8 1019.5h0M1244.6 1019.3h0M1246.5 1002.1h0M1246.5 1019.7h0M1248.3 1019.1h0M1250.8 1005.1h0M1250.8 1019.4h0M1252.6 1019.5h0M1254.4 995.8h0M1254.4 1019.6h0M1256.2 1019.2h0M1257.1 1002.3h0M1257.1 1020.8h0M1258.9 1019.1h0M1261.4 1008.5h0M1263.2 1008h0M1261.4 1019.5h0M1263.2 1020.1h0M1264.5 1010.1h0M1266.3 1009.9h0M1264.5 1019.6h0M1266.3 1019.6h0M1269 1008.8h0M1270.8 1008.7h0M1269 1019.2h0M1270.8 1019.6h0M1272.4 1007.3h0M1274.2 1005.8h0M1272.4 1019.5h0M1274.2 1019.2h0M1276.1 1004.3h0M1277.9 1004.4h0M1276.1 1018.8h0M1277.9 1019.5h0M1278.9 958.7h0M1278.9 1018.4h0M1280.7 1018h0M1282.9 959h0M1282.9 962.8h0M1282.9 1019.6h0M1284.7 1017.9h0M1286.9 975.6h0M1286.9 979.7h0M1286.9 1018.7h0M1288.7 1018.4h0M1290.6 950.1h0M1290.6 954.7h0M1290.6 1019.9h0M1292.4 1019.3h0M1294.1 900.3h0M1294.1 909.9h0M1294.1 1014.8h0M1295.9 1017h0M1296.9 878.3h0M1296.9 888h0M1296.9 1013.2h0M1298.7 1013.4h0M1301.1 887.9h0M1301.1 896.8h0M1301.1 901h0M1301.1 1015.1h0M1302.9 1015.2h0M1304.6 889.7h0M1304.6 897.2h0M1304.6 902.7h0M1304.6 1008.9h0M1306.4 1008.4h0M1308.1 910.7h0M1308.1 915.5h0M1308.1 1014.9h0M1309.9 1015.4h0M1311.2 945.8h0M1311.2 950.7h0M1311.2 1016.3h0M1313 1015.4h0M1315.7 966.6h0M1315.7 970.8h0M1315.7 1017.5h0M1317.5 1014.8h0M1318.5 955.4h0M1318.5 960.3h0M1318.5 1013.9h0M1320.3 1016.7h0M1322.5 971.3h0M1322.5 975.9h0M1322.5 1015.1h0M1324.3 1013.8h0M1326.6 964.1h0M1326.6 968.3h0M1326.6 1013.8h0M1328.4 1014.2h0M1329.7 960.7h0M1329.7 1014.1h0M1331.5 1013.8h0M1332.7 967h0M1332.7 970.3h0M1332.7 1014.6h0M1334.5 1016.3h0M1337 967.8h0M1337 971.3h0M1337 1014.3h0M1338.8 1013.5h0M1340.8 969.2h0M1340.8 972.8h0M1340.8 1013.4h0M1342.6 1014.5h0M1343.6 976.9h0M1343.6 1013.1h0M1345.4 1012.9h0M1348.3 962.3h0M1348.3 1014.3h0M1350.1 1013.1h0M1350.8 933.3h0M1350.8 937.3h0M1350.8 940.4h0M1350.8 1014.4h0M1352.6 1013.3h0M1355.1 896.8h0M1355.1 907.2h0M1355.1 1014h0M1356.9 1012.9h0M1358.7 929.4h0M1358.7 1013.8h0M1360.5 1012.2h0M1361.9 872.5h0M1361.9 883.4h0M1361.9 887.7h0M1361.9 1011.2h0M1363.7 1012h0M1366.2 871h0M1366.2 879.1h0M1366.2 1011.4h0M1368 1011.5h0M1369.1 917.7h0M1369.1 1012h0M1370.9 1014h0M1373 936h0M1373 939.9h0M1373 1014.2h0M1374.8 1013.8h0M1376.9 892.6h0M1376.9 900.9h0M1376.9 904.9h0M1376.9 1014.8h0M1378.7 1014.2h0M1380.2 867.8h0M1380.2 871.9h0M1380.2 882.2h0M1380.2 1013.5h0M1382 1012.9h0M1383.4 864.7h0M1383.4 869.3h0M1383.4 876h0M1383.4 1012.6h0M1385.2 1012.1h0M1387.3 891.4h0M1387.3 898.6h0M1387.3 1013.6h0M1389.1 1013.9h0M1391.3 908.9h0M1391.3 914.9h0M1391.3 918h0M1391.3 1015.2h0M1393.1 1014.9h0M1394.7 913.7h0M1394.7 919.8h0M1394.7 1015h0M1396.5 1017.2h0M1398.5 896.9h0M1398.5 901h0M1398.5 1012.7h0M1400.3 1014h0M1402.1 871.6h0M1402.1 879.5h0M1402.1 886h0M1402.1 1013h0M1403.9 1013.6h0M1405.3 865.3h0M1405.3 870.4h0M1405.3 877.4h0M1405.3 1013.6h0M1407.1 1013.6h0M1408.5 886.6h0M1408.5 892.1h0M1408.5 895.2h0M1408.5 1013.1h0M1410.3 1013.4h0M1413 930.5h0M1413 933.6h0M1413 937.5h0M1413 1016.9h0M1414.8 1014.3h0M1415.7 903.2h0M1415.7 910.6h0M1415.7 1015.4h0M1417.5 1014.5h0M1419.1 895.6h0M1419.1 1012.9h0M1420.9 1013h0M1423 877.4h0M1423 883.4h0M1423 886.6h0M1423 999.3h0M1424.8 998.6h0M1427.3 858.3h0M1427.3 867.6h0M1427.3 871.3h0M1427.3 1003.4h0M1429.1 1003.2h0M1431 906.4h0M1431 912.9h0M1431 916.8h0M1431 1004.8h0M1432.8 1003.8h0M1433.9 896.4h0M1433.9 899.6h0M1433.9 903.1h0M1433.9 1006h0M1435.7 1005.3h0M1437.3 888.9h0M1437.3 899.5h0M1437.3 1007.6h0M1439.1 1006.4h0M1441.7 899.8h0M1441.7 908h0M1441.7 1011h0M1443.5 1011.3h0M1444.6 921h0M1444.6 927h0M1444.6 1008.8h0M1446.4 1010h0M1449 916.5h0M1449 1008.7h0M1450.8 1008.9h0M1451.6 918.9h0M1451.6 927.4h0M1451.6 1009.8h0M1453.4 1010h0M1456.2 907.1h0M1456.2 915.4h0M1456.2 1009.6h0M1458 1009.5h0M1459.5 879.1h0M1459.5 882.6h0M1459.5 892.1h0M1459.5 1008.4h0M1461.3 1008.8h0M121.6 812.8h0M121.6 812.8h0M121.6 825h0M121.6 830.3h0M121.6 835.4h0M121.6 840.5h0M125.8 911.3h0M127.7 950.8h0M129.7 990.2h0M132.7 950.8h0M135.6 909.4h0M135.6 909.4h0M139.6 923.2h0M142.5 919.2h0M145.1 895.6h0M147.5 950.8h0M150.4 879.8h0M154.9 771.1h0M154.9 771.1h0M154.9 777.6h0M154.9 783.8h0M154.9 788.9h0M154.9 794h0M154.9 799.7h0M154.9 808.3h0M158.9 871.9h0M160.3 931h0M163.2 933h0M165.2 950.8h0M167.2 897.5h0M170.1 895.6h0M170.1 895.6h0M172.1 950.8h0M174.1 990.2h0M177 1000.1h0M182.9 998.1h0M186.9 990.2h0M190.3 958.6h0M190.3 958.6h0M193.8 990.2h0M198.2 964.6h0M198.2 964.6h0M201.7 990.2h0M204.6 980.3h0M206.6 950.8h0M210.6 952.7h0M213.5 923.2h0M216.5 921.2h0M219.4 950.8h0M221.4 911.3h0M224.6 877.8h0M228.3 871.9h0M233.2 836.4h0M233.2 836.4h0M233.2 841.4h0M237.2 901.5h0M241.1 897.5h0M244.1 895.6h0M246 931h0M248 868h0M251 864h0M253.9 871.9h0M256.9 832.5h0M261 799.7h0M261 799.7h0M261 805.5h0M261 809.8h0M261 815.9h0M261 828.1h0M261 832.4h0M265.8 852.2h0M268.7 840.4h0M271.7 842.3h0M275.4 769.2h0M275.4 769.2h0M275.4 774.6h0M275.4 779.5h0M275.4 785.6h0M275.4 789.9h0M275.4 795.1h0M275.4 803.1h0M279.6 834.4h0M284.5 832.5h0M286.5 891.6h0M288.4 942.9h0M295.3 940.9h0M298.8 907.4h0M298.8 907.4h0M302.2 938.9h0M305.2 919.2h0M308.1 921.2h0M311.1 931h0M313.1 887.7h0M316 885.7h0M319 856.1h0M321.9 804.7h0M331.8 804.7h0M335.7 858.1h0M338.7 881.8h0M341.7 871.9h0M344.6 818.7h0M346.6 832.5h0M349.6 818.7h0M354.5 777.1h0M354.5 777.1h0M354.5 782h0M354.5 789.9h0M354.5 797.5h0M354.5 803.9h0M354.5 809.6h0M361.6 815.5h0M368.3 824.6h0M370.3 842.3h0M373.2 832.5h0M376.2 842.3h0M379.1 848.2h0M382.1 832.5h0M384.1 753.6h0M388.4 710h0M395.9 710h0M398.5 625.2h0M398.5 625.2h0M398.5 629.6h0M398.5 635.6h0M398.5 640.7h0M398.5 649.9h0M398.5 654.3h0M398.5 658.5h0M398.5 663.7h0M398.5 669.9h0M398.5 677.7h0M398.5 684.5h0M404.6 710h0M409.7 751.4h0M412.7 773.3h0M417.6 793h0M420.8 775.1h0M423.5 751.4h0M431.8 751.4h0M433.4 793h0M440 795.8h0M443.6 832.5h0M445.2 878.8h0M455.1 878.8h0M458.8 765.2h0M464.9 733.9h0M470.5 701.2h0M470.5 701.2h0M470.5 705.4h0M470.5 712.5h0M470.5 716.8h0M470.5 725.1h0M470.5 731.8h0M470.5 742.4h0M470.5 748h0M475.8 753.6h0M477.7 812.8h0M479.7 871.9h0M482.7 875.8h0M486.6 717.9h0M486.6 717.9h0M486.6 724.8h0M486.6 729.1h0M486.6 738.4h0M486.6 744.9h0M486.6 752.2h0M486.6 756.4h0M486.6 761.3h0M486.6 765.8h0M486.6 770.9h0M486.6 776.3h0M486.6 787.7h0M486.6 793.5h0M486.6 799.8h0M486.6 805.3h0M486.6 810.8h0M486.6 815h0M486.6 822.2h0M486.6 828h0M486.6 832.7h0M486.6 840.6h0M486.6 844.7h0M486.6 854.7h0M489.6 1002h0M500.4 1002h0M502 891.6h0M506.3 755.4h0M506.3 755.4h0M506.3 764.4h0M506.3 770.4h0M506.3 774.8h0M506.3 780.6h0M506.3 785.3h0M506.3 791.5h0M506.3 795.6h0M509.5 911.3h0M513.2 1007h0M526 1003h0M530 1007h0M533.9 1011.9h0M543.8 1011.9h0M553.6 1013.9h0M567.4 1014.2h0M575.3 1013.5h0M587.2 1014.8h0M595 1013.5h0M601 1009.9h0M606.9 1008.9h0M614.8 1004h0M620.7 1005h0M626.6 1008.9h0M634.5 1014.8h0M640.4 1013.5h0M646.3 1012.9h0M654.2 1014.2h0M670 1013.9h0M680 1010.9h0M687.6 1012.2h0M695.5 1014.1h0M701.4 1013.2h0M705.3 1008.2h0M711.3 1004.3h0M714.2 981.6h0M717.2 961.9h0M720.1 954.4h0M723.1 969.8h0M726 958h0M729 977.7h0M733.9 984.6h0M737.9 1001.3h0M742.8 1005.3h0M746.8 989.5h0M749.1 984.6h0M749.1 984.6h0M752.7 995.4h0M756.6 1011.2h0M764.5 1006.3h0M770.4 1010.2h0M776.3 1009.2h0M781.3 1010.2h0M784.2 1005.3h0M788.2 1009.2h0M792.1 1000.3h0M792.1 1000.3h0M796 1009.2h0M800 1004.3h0M805.9 1005.3h0M811.8 1010.2h0M817.7 1009.2h0M822.7 999.4h0M826.6 993.4h0M826.6 993.4h0M829.6 1007.2h0M834.5 1003.3h0M843.4 1012.2h0M855.2 1015.1h0M862.1 1014.1h0M865 991.5h0M867.4 988.5h0M867.4 988.5h0M870 1009.2h0M874.9 1013.2h0M880.4 1007.2h0M884.8 1013.2h0M888.7 999.4h0M892.6 981.6h0M895.6 961.9h0M895.6 961.9h0M898.6 985.6h0M901.5 995.4h0M904.5 989.5h0M907.4 973.7h0M907.4 973.7h0M910.4 989.5h0M914.3 1001.3h0M918.3 989.5h0M922.2 1001.3h0M925.2 971.8h0M927.5 960.9h0M927.5 960.9h0M930.1 997.4h0M934.1 1003.3h0M939 1007.2h0M943.3 999.4h0M946.9 1007.2h0M950 995.4h0M950.8 993.4h0M954.8 991.5h0M957.7 989.5h0M959.7 973.7h0M959.7 973.7h0M961.7 981.6h0M965.6 993.4h0M969.6 1005.3h0M973.5 985.6h0M975.5 981.6h0M978.4 987.5h0M980.4 961.9h0M982.4 951.1h0M982.4 951.1h0M985.3 952h0M987.3 969.8h0M989.3 1001.3h0M993.2 1003.3h0M996.2 981.6h0M998.2 962.9h0M998.2 962.9h0M1000.7 965.8h0M1002.7 991.5h0M1006 989.5h0M1009 1005.3h0M1014.9 1001.3h0M1020.8 1005.3h0M1025.8 1003.3h0M1028.7 987.5h0M1031.7 961.9h0M1034.2 932.3h0M1036.2 920.5h0M1036.2 920.5h0M1038.6 932.3h0M1040.6 961.9h0M1043.5 983.6h0M1047.5 979.6h0M1049.4 972.7h0M1049.4 972.7h0M1052.4 987.5h0M1056.3 989.5h0M1058.3 985.6h0M1061.3 1001.3h0M1065.2 1000.3h0M1069.1 1015.1h0M1075.1 1013.2h0M1078 995.4h0M1081 991.5h0M1085.5 989.5h0M1090.8 1009.2h0M1095.8 985.6h0M1097.7 978.7h0M1097.7 978.7h0M1100.7 993.4h0M1107.1 1007.2h0M1113.5 1001.3h0M1117.4 1009.2h0M1119.8 967.8h0M1121.8 963.9h0M1121.8 963.9h0M1124.3 997.4h0M1128.3 1003.3h0M1133.2 996.4h0M1133.2 996.4h0M1137.2 1006.3h0M1141.1 1004.3h0M1146 1001.3h0M1149 997.4h0M1151.9 984.6h0M1151.9 984.6h0M1154.9 1001.3h0M1158.8 1010.2h0M1164.8 1013.2h0M1168.7 1009.2h0M1171.7 1005.3h0M1175.6 1013.2h0M1180.5 1009.2h0M1184.5 1007.2h0M1186.5 989.5h0M1188 985.6h0M1188 985.6h0M1190.4 989.5h0M1192.4 1007.2h0M1196.3 1009.2h0M1200.3 1011.2h0M1204.2 985.6h0M1206.6 977.7h0M1206.6 977.7h0M1209.1 995.4h0M1211.1 1010.2h0M1216 1009.2h0M1221.9 1008.2h0M1230 1012.2h0M1238.2 1011.9h0M1242.1 1002h0M1245.1 996.1h0M1245.1 996.1h0M1248 1007.9h0M1253 1002h0M1255.5 991.2h0M1255.5 991.2h0M1258.3 1006h0M1263.8 1009.9h0M1271.7 1007.9h0M1277.6 1006h0M1278.6 970.5h0M1280.2 946.8h0M1280.2 946.8h0M1282.5 958.6h0M1285.5 970.5h0M1288.5 982.3h0M1290.4 950.8h0M1292.4 911.3h0M1295 877.8h0M1297.3 875.8h0M1297.3 875.8h0M1299.3 881.8h0M1301.3 891.6h0M1303.2 883.7h0M1306.2 897.5h0M1309.2 913.3h0M1311.1 940.9h0M1314.1 974.4h0M1316.6 958.6h0M1318.4 954.7h0M1318.4 954.7h0M1321 970.5h0M1325.9 972.5h0M1327.3 938.9h0M1328.9 937h0M1328.9 937h0M1330.4 964.6h0M1336.8 966.5h0M1342.7 968.5h0M1345.6 980.3h0M1348.6 950.8h0M1351.5 931h0M1354.5 895.6h0M1357.5 891.6h0M1360.4 871.9h0M1364.4 869.9h0M1364.4 869.9h0M1364.4 875.4h0M1368.3 875.8h0M1370.3 940.9h0M1373.2 931h0M1375.2 903.4h0M1378.2 871.9h0M1380.5 860.1h0M1383.1 864h0M1385.7 858.1h0M1388 879.8h0M1390.4 907.4h0M1392.9 923.2h0M1395.9 901.5h0M1398.9 891.6h0M1401.4 868h0M1404.8 864h0M1406.7 862h0M1406.7 862h0M1406.7 867.8h0M1409.3 891.6h0M1411.7 923.2h0M1414.6 940.9h0M1416.6 897.5h0M1419.6 895.6h0M1424 854.7h0M1424 854.7h0M1424 859h0M1429 891.6h0M1431.4 911.3h0M1434.4 893.6h0M1437.3 887.7h0M1437.3 887.7h0M1440.3 895.6h0M1444.2 899.5h0M1447.2 911.3h0M1450.1 915.3h0M1453.1 919.2h0M1455.4 907.4h0M1458.2 875.1h0M1458.2 875.1h0M1460.6 907.4h0M121.4 665.8h0M121.4 675.1h0M121.4 684.6h0M121.4 691.5h0M121.4 698.4h0M121.4 713.2h0M121.4 717.1h0M121.4 732.3h0M121.4 747.3h0M121.4 758.5h0M121.4 779.2h0M121.4 784.1h0M121.4 797.9h0M121.4 805.8h0M224.4 787.1h0M224.4 794h0M224.4 804.8h0M224.4 813.7h0M275.2 759.5h0M329.4 752.6h0M329.4 755.5h0M329.4 765.4h0M329.4 779.2h0M329.4 787.1h0M329.4 791h0M324.5 789.1h0M324.5 796h0M354.5 678.3h0M354.5 695.4h0M353.5 698.4h0M353.5 716.1h0M354.5 727h0M354.5 732.9h0M354.5 736.8h0M354.5 752.6h0M354.5 762.4h0M354.5 769.3h0M390 624.4h0M390 631.3h0M390 641.2h0M390 656h0M390 665.4h0M387.4 675.7h0M388.4 687.5h0M387.4 696.4h0M345.6 814.7h0M362.4 812.7h0M224.4 813h0M224.4 823.8h0M224.4 835.6h0M224.4 841.5h0M224.4 849.4h0M224.4 857.3h0M224.4 867.2h0M345.6 815.9h0M345.6 826.8h0M345.6 837.6h0M314.1 882.9h0M298.3 904.6h0M298.9 916.5h0M135.6 906.6h0M135.6 919.4h0M145.1 892.8h0M145.1 902.7h0M169.1 892.8h0M215.5 918.4h0M344.6 830.7h0M391 622.5h0M391 630.3h0M391 641.2h0M391 656h0M391 665.8h0M391 687.5h0M391 695.4h0M398.3 597.4h0M398.3 607.7h0M398.3 611.6h0M406.2 698h0M406.8 717.1h0M407.4 731.9h0M425.5 694.4h0M425.5 700.3h0M425.5 711.2h0M425.5 728.9h0M425.5 732.9h0M425.5 739.8h0M430.4 748.6h0M430.4 758.5h0M420.6 772.3h0M420.6 788.1h0M440.3 793h0M441.7 801.9h0M458.6 727.4h0M458.6 734.3h0M461.4 741.7h0M458.6 752.6h0M460 762.4h0M468.5 634.3h0M468.5 644.1h0M468.5 660.9h0M468.5 665.8h0M468.5 678.7h0M472.4 698.4h0M486.6 715.1h0M486.6 723h0M506.3 752.6h0M345.5 816h0M345.5 831h0M345.5 836.5h0M450.6 860.3h0M441 792.8h0M441 799.6h0M440.3 816h0M441.7 824.2h0M486.8 764.1h0M486.8 772.3h0M486.8 781.8h0M486.8 791.4h0M486.8 801h0M486.8 814.6h0M486.8 824.2h0M430.1 764.8h0M420.5 773.7h0M420.5 790h0M434.2 780.5h0M411 791.4h0M410.3 807.8h0M907.4 944.4h0M907.4 949.3h0M907.4 954.2h0M907.4 959.1h0M907.4 964.1h0M1188 937.5h0M1188 942.4h0M1188 948.3h0M1188 956.2h0M1188 964.1h0M1188 971h0M1188 978.9h0M1049.4 970h0M960.7 972h0M983.4 949.3h0M1297.3 841.5h0M1297.3 845.5h0M1297.3 866.2h0M1297.3 869.1h0M1328.5 926.3h0M1328.5 929.3h0M1356.5 859.3h0M1356.5 862.2h0M1356.5 870.1h0M1356.5 877h0M1366.3 814.9h0M1366.3 818.9h0M1366.3 840.6h0M1366.3 846.5h0M1366.3 852.4h0M1366.3 857.3h0M1366.3 862.2h0M1385.7 854.4h0M1406.7 858.3h0M1438.3 823.8h0M1438.3 832.7h0M1438.3 835.6h0M1438.3 861.3h0M1438.3 867.2h0M1438.3 873.1h0M1438.3 879h0M1442.8 852.4h0M1442.8 880h0M1448.7 879.4h0M1448.7 885.9h0M1448.7 895.8h0M1457.6 828.7h0M1457.6 838.6h0M1457.6 860.3h0M1457.6 867.2h0M1390.4 901.7h0M1188.5 936.2h0M1188.5 941.1h0M1188.5 948h0M1188.5 955.9h0M1188.5 963.8h0M1188.5 971.7h0M1188.5 979.6h0M1297.3 841.3h0M1297.3 846.2h0M1297.3 864.9h0M1297.3 869.7h0M1303.4 882.7h0M1356.3 860.1h0M1356.3 870.4h0M1356.3 877.2h0M1366.6 775.8h0M1366.6 781h0M1366.6 791.6h0M1366.6 807.2h0M1366.6 815.1h0M1366.6 819.2h0M1366.6 840.6h0M1366.6 846.2h0M1366.6 853.3h0M1366.6 857.4h0M1366.6 862.9h0M1380.2 860.1h0M1385.4 854h0M1389.1 877.2h0M1406.2 858.5h0M1401.4 867.6h0M1423.6 791.5h0M1423.6 798.7h0M1423.6 800.8h0M1423.6 810.7h0M1423.6 815.1h0M1423.6 821.9h0M1423.6 826.7h0M1423.6 830.1h0M1423.6 837.6h0M1423.6 845.1h0M1423.6 849.2h0M1438.6 805.3h0M1438.6 823.3h0M1438.6 832.8h0M1438.6 835.6h0M1442.6 853h0M1438.6 860.8h0M1438.6 864.2h0M1438.6 868.3h0M1438.6 872.4h0M1438.6 876.5h0M1438.6 880.6h0M1438.6 887.4h0M1448.5 879.2h0M1448.5 886.8h0M1448.5 896.3h0M1457.6 828.5h0M1457.6 838.3h0M1457.6 860.1h0M1457.6 864.9h0M117 938.5V899.2M120.2 912.8V846.5M123.6 920.7V843.1M126.7 985.2V957.8M131.4 1000.8V996M134.3 974.8V971M138.1 971.8V936.6M142.2 972.3V953.6M145 966.6V926.2M149.4 976.1V942.3M152.5 904.9V870.2M156.4 902.4V809.7M160.2 958.9V918.8M162.7 978.1V948M167.1 971.8V932.5M170.3 968.1V927.4M174.4 1006.7V1002.8M177.5 1006V1001.6M181.2 1005.5V1000.4M184.8 1005.5V998.2M188.1 993.7V974.2M191.8 995.9V977.6M195.4 998.6V982.9M199 993.8V973.4M203.1 1004.3V993.2M206.5 988.8V963.1M209.9 985.7V964.4M213.1 972.8V938.2M217.2 977.1V945.5M220.4 975.4V943.4M224 950.8V899.8M228.3 945.6V895.8M231.7 931.1V916.2M235 938.2V875.3M238.7 963.2V929.3M242.1 961.8V916.9M246.1 970.4V960M250.2 947.4V894.1M252.9 948.3V893.9M257.2 931.5V911.3M260.7 913.6V839.4M264.1 924.6V856.7M268.2 936.5V885.1M271.7 932.4V872.8M274.9 899V867.9M278.2 911.8V829.7M282.4 928.3V876.7M285.7 945.2V889.8M288.8 981.1V963.6M293.3 980.9V954.9M296.3 971.9V937.6M300 966V928.6M304.2 973.2V944.9M307 968.4V937M311.1 972.5V944.2M314.7 954.2V940.9M318.4 943.7V906.3M322.2 921.8V847.6M325.1 915.1V902.8M328.6 915.7V871.9M332.1 919.4V846.7M335.6 940.8V891.3M340 946.5V900.9M343.4 926.4V869.9M346.8 921.6V861.7M350.7 910.7V850.1M353.6 899.1V869.2M357.8 909.2V829.8M360.9 919.6V846.9M364.9 919.8V865.2M368.4 925.7V861.5M372.3 926.7V866.3M375.9 925.4V865.7M378.9 930.1V874.8M382.9 915.5V846.8M386.4 870.8V754.5M390.1 864.6V748.1M393.6 864.9V747.3M397.7 827.1V667.6M400.3 842.9V741.5M404.6 867.4V742.4M408.5 877.5V792.9M412.1 897.6V803.9M415.9 907.8V820.4M418.4 908.6V819.8M422.2 900.9V803.1M426.2 888.8V790.6M430.2 887.5V782.9M433.3 910.9V839.6M436.4 915V832.1M440.7 913.4V836.3M444.2 939.3V883.4M447.7 949.3V904.1M451.2 951.3V905M454.3 947V903.6M458.2 892.6V804.7M462.7 886.8V790.7M465.8 875.8V762.7M469.5 864.9V766.5M473 867.6V742.7M477.1 905.6V855.7M480.6 950.7V899.5M484 922.4V848.4M486.7 883.2V756M491.1 1006.5V1003.1M494.9 1006.7V1003.3M498.2 1007.2V1003.5M502.1 977.3V941.7M504.9 900.7V792.2M509.2 900.6V788.4M714.2 994.1V984M717.9 982.2V967.3M721.4 982.1V967.8M724.5 984.1V970.2M728.2 990.7V979.8M732.4 995.8V994.4M735.7 1001.2V994.3M739.9 1006.7V1003.7M746.5 1000.4V993.3M749.7 999.4V991.9M753.5 1005.8V1001M793.7 1009.6V1005.4M800.5 1009.4V1005.7M804.4 1009.5V1006.3M822 1006.9V1001.9M825.2 1004V997.9M864.8 1002.2V994.2M869.2 1006.1V1000M890.1 1002.3V994.4M893.9 988.6V979.9M898.2 993.3V981.9M901 1004.6V998.1M904.8 1000.8V993.2M908.8 991.1V978.7M912.6 1004.8V998.2M916.2 1006.1V1000.5M918.7 1003.3V996.5M922.6 1006.7V1001.1M926.2 986.4V973.3M930.4 1006.4V1000.7M933.6 1009.3V1004.3M940.5 1009.7V1006M945 1009V1003.9M948.3 1008.4V1007.2M951.5 1003.4V996.5M954.9 1002V996.8M959.4 997.2V987.7M962.9 997.6V988.1M966.4 1005.1V999M969.7 1009.4V1006.3M972.9 998.8V989.8M977.2 997.7V988.2M980.6 984V968.7M983.9 977.9V959.7M988.2 990.8V978.9M991.2 1009.2V1004.5M995.1 1004V997.1M998.8 984.8V969.7M1001.6 1000.8V992.4M1005.6 1001.4V993.5M1008.9 1009.8V1006.2M1012.7 1009.6V1004.7M1016.9 1009.3V1004.4M1019.8 1009.9V1006.3M1023.7 1009.6V1005.8M1026.8 1003.8V997M1030.8 990.1V977.7M1034.5 964.2V942.3M1038.5 965.1V942.9M1042 988.1V975.3M1045.8 996.1V985.9M1048.5 992.8V981.6M1052.3 1000.1V991.1M1055.5 1001.1V992.5M1059.5 1003V995.5M1063 1008.5V1003M1066.9 1010.6V1006.8M1077.7 1007.1V1001M1081.2 1002.5V994.8M1084.7 1001.7V993.2M1095.2 1000.2V991.5M1099 1000.1V991M1102.9 1007.7V1002.3M1113.3 1008.6V1003.4M1120.7 987V972.5M1124.4 1006.4V1000.4M1128 1009.8V1006.1M1131.2 1007.1V1001.3M1135.5 1009.1V1006.4M1139.3 1009.9V1006.8M1142.4 1009.8V1005.1M1146.7 1008.2V1003M1150 1004.8V998.3M1153 1003.8V999.6M1156.6 1010.2V1006.5M1171.4 1010.5V1007.8M1185.9 1006.6V1000.5M1189.9 1000.3V991.8M1203.6 1001.7V993.4M1207.3 998.1V992.2M1210.6 1010.1V1006.8M1242.8 1007.3V1001.8M1246.5 1008.8V1003.8M1250.8 1009.5V1006.1M1254.4 1004.9V998.3M1257.1 1008.8V1004M1278.9 980.5V964.9M1282.9 981.5V965.5M1286.9 991.4V980.1M1290.6 975.5V957.4M1294.1 942V912.5M1296.9 928.8V893.1M1301.1 936.4V902.2M1304.6 935.2V903.1M1308.1 950.2V922.2M1311.2 972.3V953.4M1315.7 984.8V971.8M1318.5 978V961.9M1322.5 987.8V976M1326.6 979.8V968.5M1329.7 973.5V964.3M1332.7 984.2V971.9M1337 984.7V972.5M1340.8 985.4V973.8M1343.6 990.4V980.6M1348.3 981.6V967.8M1350.8 962.7V941.8M1355.1 940.4V909.6M1358.7 933.5V930.3M1361.9 924.5V887.8M1366.2 924.3V886.7M1369.1 952.5V927.9M1373 964.1V944.1M1376.9 937.3V905.7M1380.2 918.7V882.7M1383.4 920.2V881M1387.3 928.1V902.1M1391.3 949.1V920.6M1394.7 951.5V924.7M1398.5 938.9V909.2M1402.1 923.2V886.7M1405.3 920.5V881.6M1408.5 932.5V900M1413 961.3V939.4M1415.7 943.7V915.1M1419.1 940.5V908.8M1423 909.7V886.8M1427.3 911.6V874M1431 942.3V916.9M1433.9 936.2V908M1437.3 933.6V902M1441.7 940.6V911.8M1444.6 942.1V927M1449 950V926.2M1451.6 953.6V929M1456.2 945.9V918.4M1459.5 928V893.5M121.6 915.1V843.2M135.6 968.1V916.3M154.9 902.9V810.4M170.1 968.1V904.1M190.3 991.1V962.4M198.2 993.7V967.9M233.2 932.8V846.4M261 913.6V833.6M275.4 898.8V807.8M298.8 965.2V914.2M354.5 899.1V813.4M398.5 827.2V685.5M470.5 864.9V750M486.6 882.7V857.1M506.3 900.7V798.7M749.1 997.5V986M792.1 1008.5V1001.2M826.6 1003.1V994.5M867.4 1001.1V989.9M895.6 984.4V964.5M907.4 991.1V975.7M927.5 983.6V963.5M959.7 992.2V975.8M982.4 977.5V954.1M998.2 984.8V965.4M1036.2 958.8V925M1049.4 991V974.8M1097.7 995.1V980.5M1121.8 985.8V966.4M1133.2 1006.1V997.4M1151.9 999.5V986.2M1188 999.3V987.1M1206.6 994.2V979.5M1245.1 1006.4V997.2M1255.5 1002.3V992.4M1280.2 975.3V950.1M1297.3 928.8V882.1M1318.4 978V957.4M1328.9 967V940.4M1364.4 924V876.3M1406.7 919.9V868.9M1424 910.5V861.3M1437.3 933.6V893.1M1458.2 926.1V881.1" stroke="#1f77b4" stroke-width="5.5" stroke-linecap="round" fill="none"/>
<polyline points="117.5,969.7 119.5,908.6 121.4,882 122.8,908.6 124.2,967.7 125.8,987.4 126.8,983.5 128.7,1007.2 131.3,1001.2 133.7,987.4 136.6,975.6 138.6,995.3 140.6,963.8 142.5,1003.2 144.5,966.7 146.5,1007.2 147.5,999.3 150,1011.1 151.8,948 153.4,879 155,878 156.3,938.2 158.3,973.6 160.3,983.5 162.2,974.6 164.2,993.4 166.8,999.3 168.8,947 170.7,997.3 172.7,1007.2 174.7,1015 177,1011.1 179.4,1008.1 182,1012.1 183.9,1007.2 186.5,1010.1 188.9,993.4 190.2,987.4 191.8,1005.2 193.8,1004.2 195.8,1012.1 198.3,993.4 200.3,1011.1 202.7,1003.2 204.6,999.3 207,981.5 209.2,997.3 211.5,983.5 213.5,991.4 216.1,961.8 218,983.5 219.4,977.6 222,1001.2 224,908.6 225.9,952 227.3,991.4 229.3,920.4 231.6,896.8 233.8,924.4 235.8,977.6 237.8,952 239.7,988.4 241.7,957.9 244.1,1000.3 246.4,995.3 248,967.7 250.4,912.5 252.4,971.7 253.9,917.5 255.5,928.3 257.9,896.8 259.4,912.5 261.4,868.2 262.8,948 264.2,1005.2 265.8,955.9 267.7,953.9 269.3,923.4 270.7,952 272.1,912.5 273.6,953.9 275.2,856.3 277.2,963.8 279.2,932.2 281.1,909.6 283.1,916.5 285.1,999.3 287.1,981.5 288.4,989.4 290.4,979.6 291.8,987.4 293.4,969.7 296.3,992.4 298.3,961.8 300.3,981.5 302.2,993.4 304.2,977.6 306.2,961.8 308.1,967.7 310.1,961.8 311.5,973.6 313.7,954.9 315.6,997.3 318,950 319.4,963.8 321,930.3 322.5,938.2 324.5,887.9 326.9,932.2 328.8,898.7 330.4,922.4 331.8,923.4 334.4,965.8 335.7,946 337.1,966.7 338.7,956.9 341.1,956.9 343.6,932.2 345.6,919.4 347.6,938.2 350.5,907.6 352.1,908.6 354.1,860.3 356.5,908.6 358.4,984.5 361.4,927.3 363.4,963.8 366.3,903.7 368.7,932.2 370.6,962.8 373.2,894.8 375.2,954.9 376.6,914.5 378.5,953.9 381.1,946 383.1,928.3 385,888.9 386.4,855.3 387.5,869.2 389.8,805.1 391.9,896.5 393.2,908.8 396,841.9 398,798.9 400.1,882.9 401.4,848.1 403.5,889.7 404.8,900.6 406.6,867.8 408.7,934.2 410.7,920.4 413.3,928.3 416.6,959.8 418.6,928.3 420.6,899.7 422.5,960.8 425.1,841.5 427.1,912.5 428.4,888.9 431.4,928.3 433,930.3 435,977.6 436.9,998.3 438.9,928.3 440.3,896.8 442.2,926.3 444.8,946 446.2,947 447.6,958.9 449.1,948 452.1,968.7 454.7,944.1 457,914.5 459,888.9 460.6,877 462.6,908.6 464.9,959.8 466.9,888.9 468.9,846.5 470.8,925.3 473.2,833.7 475.2,948 476.2,987.4 477.7,1003.2 479.7,948 482.1,906.6 484.2,967.7 486,832.7 487.2,928.3 488.2,1017 488.6,1031.8 489.6,1004.2 490.9,1015 492.5,1011.1 494.5,1012.1 497.5,1010.1 499.4,1013.1 500.4,1019 501.8,967.7 503.4,908.6 504.7,849.4 506.3,813.9 507.3,908.6 507.9,1007.2 508.7,1020 510.3,1013.1 513.2,1011.5 520.1,1011.1 525.6,1010.7 528,1013.1 532,1015 537.9,1016.6 547.7,1015 557.6,1016.6 571.4,1016 583.2,1016.6 593.1,1017 597,1018 601,1014.1 606.9,1014.1 612.8,1013.1 615.7,1010.7 619.7,1013.1 626.6,1015 632.5,1017.4 638.4,1017 644.3,1016 650.3,1017 658.1,1016.6 666,1016.2 671.9,1017 676.9,1015.4 680,1015 687.6,1016.3 695.5,1016.7 701.4,1016.3 705.3,1012.8 711.3,1011.4 715.2,1002.5 719.1,984.8 722.1,1002.5 724.7,992.7 727,1000.6 728.6,997.6 731,1008.4 733.3,1003.5 736.9,1010.4 740.8,1012.4 744.8,1011.4 746.8,1006.5 749.7,1007.5 752.7,1011.4 756.6,1016.3 762.5,1013.4 768.4,1014.4 771.4,1012.4 774.4,1016.3 777.3,1012.4 781.3,1019.3 783.8,1012.4 787.2,1016.3 790.1,1012.4 793.1,1015.3 796,1012.4 799,1016.3 802,1012.4 805.9,1014.4 809.8,1015.3 815.8,1017.3 818.7,1016.3 822.7,1008.4 825.6,1012.4 827.6,1009.4 830,1016.3 834.5,1012.4 837.4,1016.3 840.4,1019.3 846.3,1016.3 849.3,1018.3 854.2,1019.3 857.2,1017.3 863.1,1018.3 866.6,1005.5 869.4,1018.3 872.9,1016.3 876.9,1017.3 880.8,1012.8 884.8,1017.9 888.7,1011.4 891.7,1016.3 895,992.7 897.6,1007.5 900.5,1014.4 904.5,1005.5 907.4,986.8 910,1016.3 913.4,1011.4 916.3,1012.4 921.2,1007.5 924.2,1016.3 927.2,992.7 929.7,1017.3 933.1,1014.4 936,1013.4 940,1018.3 943.9,1008.4 946.9,1018.3 950,1012.4 951.8,1007.5 955.8,1010.4 959.7,998.6 962.7,1013.4 965.2,1008.4 968.6,1015.3 972.5,1013.4 975.1,1004.5 977.5,1014.4 980.4,998.6 983,989.7 985.7,1012.4 989.3,1016.3 992.2,1012.4 995.2,1019.3 998.8,992.7 1001.1,1012.4 1004.1,1011.4 1007,1016.3 1011,1013.4 1014.9,1012.4 1018.9,1013.4 1022.8,1017.3 1026.8,1010.4 1029.1,1003.5 1030.7,1007.5 1033.7,978.9 1035.6,967 1037.6,982.8 1040.6,1004.5 1043.5,996.6 1046.5,1006.5 1049.4,997.6 1052,1010.4 1053.4,1004.5 1055.3,1017.3 1057.9,1008.4 1060.7,1014.4 1063.2,1011.4 1068.2,1018.3 1074.1,1017.9 1078,1010.4 1080.4,1005.5 1082.4,1014.4 1084.9,1010.4 1087.9,1016.3 1091.8,1017.3 1094.8,1010.4 1097.1,1002.5 1099.7,1010.4 1102.7,1017.3 1105.6,1013.4 1108.6,1016.3 1112.5,1013.4 1115.5,1018.3 1118.4,1014.4 1121.4,993.7 1123.8,1017.3 1127.3,1013.4 1132.2,1008.4 1135.2,1014.4 1139.1,1015.3 1143.1,1013.4 1146,1016.3 1149,1010.4 1151.9,999.6 1154.9,1017.3 1157.9,1013.4 1160.8,1017.3 1165.7,1019.3 1171.7,1014.4 1175.6,1018.3 1179.6,1018.3 1183.5,1013.4 1186.1,1013.4 1188.4,995.6 1190.8,1017.3 1194.3,1014.4 1198.3,1018.3 1203.2,1010.4 1206.2,1000.6 1208.5,1018.3 1213.1,1015.3 1218,1016.3 1222.9,1014.4 1226.9,1017.3 1230,1016.3 1234.2,1018 1238.2,1016 1241.1,1017 1244.1,1011.1 1247,1015 1250,1012.1 1252.4,1015 1254.9,1012.1 1257.9,1017 1261.8,1017 1265.8,1015 1270.7,1014.1 1273.7,1015 1276.6,1013.1 1278.6,1019 1280,987.4 1281.2,972.7 1282.5,983.5 1283.9,999.3 1285.1,985.5 1287.1,1015 1289,1011.1 1291,1012.1 1292.4,987.4 1293.8,959.8 1295.4,944.1 1296.9,936.2 1298.3,952 1299.7,983.5 1301.3,997.3 1302.8,971.7 1304.2,953.9 1305.6,973.6 1307.2,952 1309.2,995.3 1311.1,997.3 1313.5,996.3 1316.1,1001.2 1318,989.4 1320,999.3 1322.6,997.3 1325.9,1004.2 1327.9,975.6 1329.9,1001.2 1331.8,991.4 1334.4,995.3 1336.8,1003.2 1339.7,994.3 1342.7,1006.2 1344.6,1001.2 1347.6,995.3 1350.2,977.6 1351.5,967.7 1354.1,991.4 1356.5,947 1358.4,977.6 1360.4,997.3 1362.4,944.1 1364,961.8 1365.9,905.6 1367.3,977.6 1368.7,1005.2 1370.7,983.5 1372.6,991.4 1375.2,965.8 1376.6,957.9 1378.2,977.6 1380.5,939.1 1382.5,965.8 1384.5,932.2 1386,987.4 1387.6,1005.2 1389.6,966.7 1391.6,995.3 1393.9,995.3 1396.3,946 1398.3,977.6 1400.8,969.7 1403.4,952 1405.4,931.3 1407.3,977.6 1409.3,955.9 1410.7,981.5 1412.7,999.3 1414.6,981.5 1416.6,956.9 1418.6,982.5 1420.6,957.9 1422.5,920.4 1423.9,893.8 1425.5,922.4 1427.1,928.3 1428.4,977.6 1431,979.6 1433.4,961.8 1435.3,955.9 1436.5,975.6 1438.1,917.5 1440.1,985.5 1442,934.2 1444.2,967.7 1446.2,979.6 1448.7,972.7 1450.7,977.6 1453.1,969.7 1455.1,973.6 1457,932.2 1459,981.5 1461,993.4" fill="none" stroke="#ff7f0e" stroke-width="2.3" stroke-linejoin="round"/>
</g>
<rect x="116.5" y="575.5" width="1346.0" height="479.0" fill="none" stroke="#000" stroke-width="1"/>
<path d="M116.5 1054.5v5.2M284.5 1054.5v5.2M452.5 1054.5v5.2M621.5 1054.5v5.2M789.5 1054.5v5.2M957.5 1054.5v5.2M1125.5 1054.5v5.2M1294.5 1054.5v5.2M116.5 599.5h-5.2M116.5 705.5h-5.2M116.5 810.5h-5.2M116.5 916.5h-5.2M116.5 1022.5h-5.2" stroke="#000" stroke-width="1" fill="none"/>
<text transform="translate(105.8,607) scale(1,0.955)" font-size="22.22" text-anchor="end">0.8</text>
<text transform="translate(105.8,713) scale(1,0.955)" font-size="22.22" text-anchor="end">0.6</text>
<text transform="translate(105.8,818) scale(1,0.955)" font-size="22.22" text-anchor="end">0.4</text>
<text transform="translate(105.8,924) scale(1,0.955)" font-size="22.22" text-anchor="end">0.2</text>
<text transform="translate(105.8,1030) scale(1,0.955)" font-size="22.22" text-anchor="end">0.0</text>
<g transform="translate(0,536.8)">
<rect x="1047.5" y="48.6" width="406.2" height="79.5" rx="3.7" fill="#fff" fill-opacity="0.8" stroke="#ccc" stroke-opacity="0.8" stroke-width="1.1"/>
<circle cx="1073.5" cy="63.5" r="2.75" fill="#1f77b4"/>
<path d="M1053 101.9H1092.1" stroke="#ff7f0e" stroke-width="2.1"/>
<text font-size="18.52" transform="translate(1106.1,68.6) scale(1,0.94)">Raw Data</text>
<text font-size="18.52" transform="translate(1106.1,96.3) scale(1,0.94)">Butterworth Filtered Data</text>
<text font-size="18.52" transform="translate(1106.1,116.6) scale(1,0.94)">(N=6, Tc=3.3333 min, Type: low)</text>
</g>
<text x="115.1" y="30" font-size="26.67">(a)</text>
<text x="784.5" y="30" font-size="26.67" text-anchor="middle">15.0 MHz N0000003</text>
<text x="115.1" y="567" font-size="26.67">(b)</text>
<text transform="translate(37.6,278.6) rotate(-90) scale(1,0.955)" font-size="22.22" text-anchor="middle">Doppler Shift [Hz]</text>
<text transform="translate(57.0,815.2) rotate(-90) scale(1,0.955)" font-size="22.22" text-anchor="middle">Peak Voltage [V]</text>
<text transform="translate(113.1,1078.2) rotate(-30) scale(1,0.955)" font-size="22.3" text-anchor="end">06-08 00</text>
<text transform="translate(281.1,1078.2) rotate(-30) scale(1,0.955)" font-size="22.3" text-anchor="end">06-08 03</text>
<text transform="translate(449.1,1078.2) rotate(-30) scale(1,0.955)" font-size="22.3" text-anchor="end">06-08 06</text>
<text transform="translate(618.1,1078.2) rotate(-30) scale(1,0.955)" font-size="22.3" text-anchor="end">06-08 09</text>
<text transform="translate(786.1,1078.2) rotate(-30) scale(1,0.955)" font-size="22.3" text-anchor="end">06-08 12</text>
<text transform="translate(954.1,1078.2) rotate(-30) scale(1,0.955)" font-size="22.3" text-anchor="end">06-08 15</text>
<text transform="translate(1122.1,1078.2) rotate(-30) scale(1,0.955)" font-size="22.3" text-anchor="end">06-08 18</text>
<text transform="translate(1291.1,1078.2) rotate(-30) scale(1,0.955)" font-size="22.3" text-anchor="end">06-08 21</text>
<text transform="translate(789.4,1157.7) scale(1,0.955)" font-size="22.22" text-anchor="middle">UTC</text>
</svg>
</body></html>
